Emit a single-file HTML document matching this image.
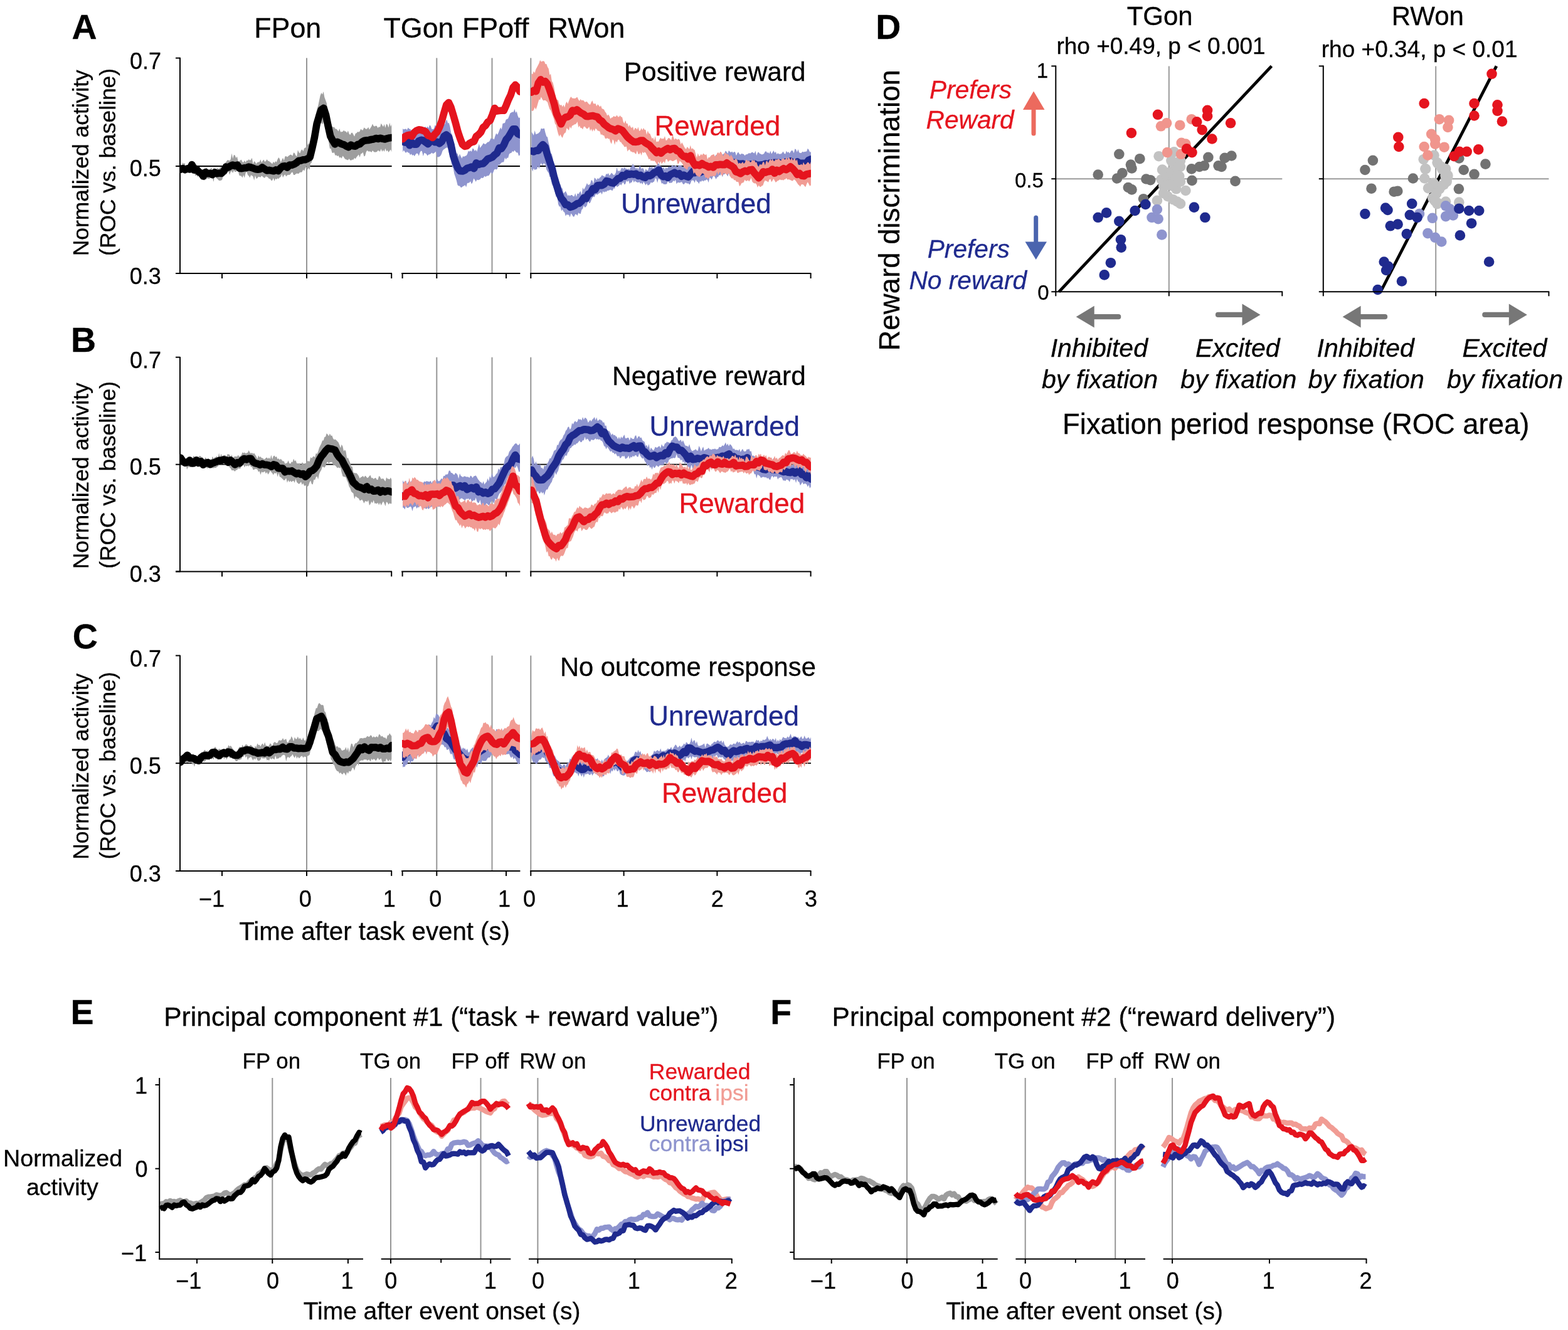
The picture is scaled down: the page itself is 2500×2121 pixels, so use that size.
<!DOCTYPE html>
<html lang="en"><head><meta charset="utf-8"><title>Figure</title>
<style>
html,body{margin:0;padding:0;background:#fff}
body{width:2500px;height:2121px;overflow:hidden}
svg{display:block;font-family:"Liberation Sans",sans-serif}
text{stroke-width:.3px}
</style></head><body>
<svg width="2500" height="2121" viewBox="0 0 2500 2121">
<rect width="2500" height="2121" fill="#fff"/>
<path d="M489,92.6V436" stroke="#959595" stroke-width="2" fill="none"/>
<path d="M696.3,92.6V436" stroke="#959595" stroke-width="2" fill="none"/>
<path d="M784.5,92.6V436" stroke="#959595" stroke-width="2" fill="none"/>
<path d="M846.3,92.6V436" stroke="#959595" stroke-width="2" fill="none"/>
<path d="M287,265H624.6" stroke="#000" stroke-width="1.8" fill="none"/>
<path d="M641,265H829" stroke="#000" stroke-width="1.8" fill="none"/>
<path d="M846,265H1293" stroke="#000" stroke-width="1.8" fill="none"/>
<path d="M489,569.7V911.4" stroke="#959595" stroke-width="2" fill="none"/>
<path d="M696.3,569.7V911.4" stroke="#959595" stroke-width="2" fill="none"/>
<path d="M784.5,569.7V911.4" stroke="#959595" stroke-width="2" fill="none"/>
<path d="M846.3,569.7V911.4" stroke="#959595" stroke-width="2" fill="none"/>
<path d="M287,740.7H624.6" stroke="#000" stroke-width="1.8" fill="none"/>
<path d="M641,740.7H829" stroke="#000" stroke-width="1.8" fill="none"/>
<path d="M846,740.7H1293" stroke="#000" stroke-width="1.8" fill="none"/>
<path d="M489,1045.5V1388.9" stroke="#959595" stroke-width="2" fill="none"/>
<path d="M696.3,1045.5V1388.9" stroke="#959595" stroke-width="2" fill="none"/>
<path d="M784.5,1045.5V1388.9" stroke="#959595" stroke-width="2" fill="none"/>
<path d="M846.3,1045.5V1388.9" stroke="#959595" stroke-width="2" fill="none"/>
<path d="M287,1217.2H624.6" stroke="#000" stroke-width="1.8" fill="none"/>
<path d="M641,1217.2H829" stroke="#000" stroke-width="1.8" fill="none"/>
<path d="M846,1217.2H1293" stroke="#000" stroke-width="1.8" fill="none"/>
<defs>
<clipPath id="c00"><rect x="287" y="87.6" width="337.6" height="347.4"/></clipPath>
<clipPath id="c01"><rect x="641" y="87.6" width="188" height="347.4"/></clipPath>
<clipPath id="c02"><rect x="846" y="87.6" width="447" height="347.4"/></clipPath>
<clipPath id="c10"><rect x="287" y="564.7" width="337.6" height="345.7"/></clipPath>
<clipPath id="c11"><rect x="641" y="564.7" width="188" height="345.7"/></clipPath>
<clipPath id="c12"><rect x="846" y="564.7" width="447" height="345.7"/></clipPath>
<clipPath id="c20"><rect x="287" y="1040.5" width="337.6" height="347.4"/></clipPath>
<clipPath id="c21"><rect x="641" y="1040.5" width="188" height="347.4"/></clipPath>
<clipPath id="c22"><rect x="846" y="1040.5" width="447" height="347.4"/></clipPath>
</defs>
<g clip-path="url(#c00)">
<path d="M287.9,262.1L289.6,264.7L291.3,259.2L293,261.2L294.7,260.1L296.4,270.1L298.1,268.2L299.8,268.1L301.5,264.1L303.2,263.4L304.9,257.8L306.6,264.1L308.3,258.2L310,260.3L311.7,262.1L313.4,262.4L315.1,267.1L316.8,266L318.5,267.7L320.2,268.7L321.9,273.1L323.6,269.7L325.3,270.6L327,271.5L328.7,266.7L330.4,268.8L332.1,270.5L333.8,271.6L335.5,269.3L337.2,267.5L338.9,271.9L340.6,268.3L342.3,268.8L344,269.2L345.7,268.8L347.4,267.9L349.1,270.2L350.8,266.6L352.5,267.1L354.2,265.6L355.9,262.2L357.6,262L359.3,259.8L361,257.5L362.7,255.3L364.4,255.4L366.1,256.6L367.8,254L369.5,244.4L371.2,253L372.9,246.9L374.6,247.5L376.3,252L378,249.6L379.7,257.1L381.4,257.2L383.1,255.7L384.8,254.5L386.5,258.2L388.2,259.1L389.9,255.8L391.6,258.9L393.3,255.7L395,256.3L396.7,254.1L398.4,255.7L400.1,254.8L401.8,251.8L403.5,261.7L405.2,257.1L406.9,258.5L408.6,261.5L410.3,258.9L412,258.5L413.7,258.2L415.4,254.2L417.1,259.3L418.8,256.6L420.5,254.6L422.2,257.9L423.9,256.7L425.6,254.1L427.3,256.7L429,257L430.7,258.6L432.4,259.7L434.1,261.4L435.8,257.7L437.5,260L439.2,257L440.9,258.8L442.6,253.9L444.3,251L446,253.6L447.7,258.9L449.4,255L451.1,251.8L452.8,255.9L454.5,249.5L456.2,248.9L457.9,250.6L459.6,249L461.3,247.8L463,246.5L464.7,246.9L466.4,248.8L468.1,243.3L469.8,244.2L471.5,247.8L473.2,249.5L474.9,239.3L476.6,243L478.3,244.6L480,239.8L481.7,238.2L483.4,241.2L485.1,236.6L486.8,235.5L488.5,234.7L490.2,231.6L491.9,227.9L493.6,232.6L495.3,229.1L497,219.4L498.7,210.8L500.4,203.8L502.1,193.1L503.8,180.7L505.5,173.3L507.2,168.8L508.9,160.4L510.6,152.4L512.3,148.1L514,150.8L515.7,146.1L517.4,155.2L519.1,159.7L520.8,164.6L522.5,174.7L524.2,183.4L525.9,190.5L527.7,195.4L529.4,201.5L531.1,203L532.8,202.6L534.5,205.4L536.2,205.4L537.9,207.3L539.6,209.4L541.3,205L543,210.5L544.7,210.3L546.4,209.9L548.1,207.7L549.8,209.4L551.5,209.6L553.2,212L554.9,208.2L556.6,213.3L558.3,215.3L560,212.1L561.7,211.4L563.4,214.4L565.1,217.8L566.8,212.8L568.5,212.2L570.2,210.1L571.9,210.8L573.6,209.6L575.3,205.5L577,207.4L578.7,207.6L580.4,203.3L582.1,204.8L583.8,206.1L585.5,205.2L587.2,202.7L588.9,206.8L590.6,204.3L592.3,201.4L594,197.6L595.7,201L597.4,201.8L599.1,200.5L600.8,201.1L602.5,204.2L604.2,202.1L605.9,202.9L607.6,196.8L609.3,199.5L611,202.3L612.7,198L614.4,204L616.1,197.4L617.8,198.9L619.5,203.5L621.2,195.7L622.9,202L624.6,197.7L624.6,242.5L622.9,238.6L621.2,240.5L619.5,243L617.8,239.5L616.1,241.4L614.4,236.5L612.7,242.1L611,239L609.3,241.9L607.6,237.3L605.9,241.9L604.2,240.4L602.5,239.9L600.8,242.2L599.1,242.5L597.4,242.7L595.7,241.8L594,240L592.3,243.1L590.6,241.5L588.9,241.5L587.2,241.5L585.5,239.7L583.8,242.2L582.1,248.4L580.4,249.5L578.7,242.8L577,244.8L575.3,245.3L573.6,251L571.9,246.4L570.2,248.6L568.5,250.6L566.8,253.6L565.1,251.7L563.4,254.7L561.7,254.4L560,255.7L558.3,255.6L556.6,252.9L554.9,255.5L553.2,254.7L551.5,254.2L549.8,253.3L548.1,250.5L546.4,248.6L544.7,252.8L543,250.6L541.3,251.7L539.6,248L537.9,249.3L536.2,247.2L534.5,247.9L532.8,243L531.1,244L529.4,243.5L527.7,237.1L525.9,236.9L524.2,226.9L522.5,218L520.8,214.3L519.1,207.4L517.4,199.2L515.7,194.8L514,198.6L512.3,195.6L510.6,198.4L508.9,205.5L507.2,215.8L505.5,218L503.8,231.2L502.1,232.1L500.4,243.3L498.7,249.9L497,259.2L495.3,260.3L493.6,270.7L491.9,267.7L490.2,270.6L488.5,265L486.8,268.3L485.1,272.8L483.4,270.5L481.7,274L480,274.9L478.3,274.4L476.6,276.7L474.9,277.1L473.2,276.5L471.5,277.6L469.8,279.1L468.1,279L466.4,274.6L464.7,275.3L463,277.9L461.3,279L459.6,278.7L457.9,279.6L456.2,281.4L454.5,278.2L452.8,279.7L451.1,283.3L449.4,277.6L447.7,282.2L446,282.7L444.3,285.3L442.6,284.2L440.9,286.3L439.2,284.7L437.5,289L435.8,283.8L434.1,287.7L432.4,288.1L430.7,284.9L429,285.3L427.3,282.9L425.6,281.8L423.9,281.3L422.2,283.7L420.5,283.3L418.8,281.8L417.1,280.2L415.4,282.7L413.7,282.3L412,281.7L410.3,284.2L408.6,284.9L406.9,279.8L405.2,287.8L403.5,281.4L401.8,280.1L400.1,279.3L398.4,283.4L396.7,280.5L395,278.9L393.3,273.4L391.6,276L389.9,283.7L388.2,279.1L386.5,283.5L384.8,280.8L383.1,280.2L381.4,279.7L379.7,272.2L378,272.2L376.3,274.1L374.6,274L372.9,272L371.2,275.9L369.5,272.8L367.8,274.1L366.1,279L364.4,273.5L362.7,275.3L361,278.1L359.3,277.6L357.6,280.2L355.9,280.6L354.2,286.5L352.5,287.7L350.8,287.9L349.1,288.1L347.4,286L345.7,284.7L344,283L342.3,279.2L340.6,289.9L338.9,284.5L337.2,280.2L335.5,283.5L333.8,285.2L332.1,285.1L330.4,284.2L328.7,286.3L327,286.3L325.3,287.7L323.6,285.7L321.9,286.3L320.2,286.3L318.5,281.9L316.8,278.8L315.1,282.6L313.4,278.9L311.7,280.5L310,276.9L308.3,274.8L306.6,277.2L304.9,275L303.2,273.2L301.5,275L299.8,275.4L298.1,274.2L296.4,276.8L294.7,276.7L293,276.5L291.3,273.3L289.6,274.1L287.9,274Z" fill="#9E9E9E"/>
<path d="M287.9,270.3L291.5,268.6L295.1,270.6L298.7,268.9L302.4,269.8L306,262.6L309.6,271.1L313.2,269.7L316.8,274.2L320.5,276.2L324.1,281L327.7,274.6L331.3,276.7L334.9,276.2L338.6,278.6L342.2,275L345.8,276.8L349.4,276.1L353,276.5L356.7,273.1L360.3,266.2L363.9,266.9L367.5,264.8L371.1,263L374.8,264.6L378.4,263.1L382,268.4L385.6,268.6L389.3,267.8L392.9,267.6L396.5,266.1L400.1,267L403.7,268.2L407.4,269.8L411,270.2L414.6,269.8L418.2,266.9L421.8,269.4L425.5,271.9L429.1,271.4L432.7,272.1L436.3,272.8L439.9,270.9L443.6,272.6L447.2,268.1L450.8,265.2L454.4,264.7L458,267L461.7,263.1L465.3,263.2L468.9,261.9L472.5,259.8L476.1,256.6L479.8,256L483.4,254.8L487,254.6L490.6,252.9L494.2,250.7L497.9,235.3L501.5,218.9L505.1,197.7L508.7,185.4L512.3,175L516,172.4L519.6,183.3L523.2,201.1L526.8,217.2L530.4,223.9L534.1,229.9L537.7,226.4L541.3,228L544.9,229.8L548.6,230.9L552.2,233.1L555.8,234.6L559.4,231.1L563,232.7L566.7,233.2L570.3,230.5L573.9,229.6L577.5,226.1L581.1,224.3L584.8,223.8L588.4,223.4L592,222.5L595.6,222L599.2,220.5L602.9,221.4L606.5,220.3L610.1,221.4L613.7,222L617.3,220.8L621,219.9L624.6,219.5" fill="none" stroke="#000" stroke-width="11.6" stroke-linejoin="round" stroke-linecap="round"/>
</g>
<g clip-path="url(#c01)">
<path d="M642.1,204.9L643.8,206.5L645.5,205.8L647.2,205.4L648.9,207.3L650.7,203.5L652.4,205.4L654.1,205.9L655.8,208.1L657.5,208.2L659.2,209.2L660.9,210.2L662.7,210.2L664.4,208.4L666.1,205.1L667.8,206.4L669.5,203.7L671.2,206.8L672.9,204.8L674.7,203.5L676.4,203.5L678.1,201.8L679.8,204.2L681.5,201.5L683.2,204.5L684.9,199.5L686.7,200.7L688.4,205.9L690.1,205.9L691.8,205.6L693.5,199.6L695.2,200.9L696.9,201.6L698.7,201.7L700.4,205.7L702.1,203.1L703.8,201.9L705.5,198.2L707.2,195.1L708.9,199L710.7,194.1L712.4,190.4L714.1,196.6L715.8,196.1L717.5,202L719.2,211.9L720.9,215L722.7,223.4L724.4,229.8L726.1,239.8L727.8,244.9L729.5,244.6L731.2,250.3L733,245.5L734.7,249.3L736.4,252.8L738.1,249.1L739.8,249.9L741.5,248.8L743.2,248.5L745,246L746.7,240.7L748.4,241.7L750.1,240L751.8,242L753.5,236.4L755.2,237.5L757,241L758.7,238.4L760.4,242L762.1,235.8L763.8,229.3L765.5,236.1L767.2,233.5L769,231.3L770.7,228.2L772.4,229.4L774.1,229.9L775.8,228.3L777.5,226.5L779.2,226.4L781,224.2L782.7,220.3L784.4,221.8L786.1,220.9L787.8,222.5L789.5,216.7L791.2,212.4L793,214.9L794.7,211.8L796.4,206.9L798.1,203.2L799.8,206.5L801.5,197L803.2,196.5L805,196L806.7,190.8L808.4,190.1L810.1,189.1L811.8,184.8L813.5,180.5L815.2,179.6L817,178.4L818.7,178.8L820.4,173.7L822.1,179.9L823.8,177.4L825.5,184.5L827.2,188.2L829,187.3L829,247L827.2,248.7L825.5,243.2L823.8,243.4L822.1,241.8L820.4,239.5L818.7,242.3L817,241L815.2,244L813.5,244.3L811.8,245.7L810.1,252.1L808.4,251.5L806.7,254.4L805,251.2L803.2,258.6L801.5,258.4L799.8,259.3L798.1,260.8L796.4,263.3L794.7,262.6L793,269.2L791.2,270.6L789.5,269.4L787.8,270.9L786.1,275.4L784.4,277.4L782.7,274.4L781,277.4L779.2,280.2L777.5,280.3L775.8,280.8L774.1,282.2L772.4,280.6L770.7,283.5L769,284.1L767.2,283.5L765.5,285.9L763.8,286.8L762.1,287.3L760.4,286.5L758.7,290.1L757,286.7L755.2,284.6L753.5,291L751.8,293.6L750.1,289L748.4,291.2L746.7,291.8L745,292.1L743.2,298.6L741.5,294.9L739.8,296.6L738.1,296.9L736.4,298.8L734.7,299L733,296.4L731.2,296.6L729.5,294.9L727.8,287.8L726.1,282.2L724.4,277.6L722.7,268.3L720.9,265.7L719.2,257.6L717.5,248.9L715.8,243.8L714.1,236.1L712.4,235.3L710.7,235.9L708.9,237.4L707.2,238.4L705.5,240.8L703.8,246L702.1,248.7L700.4,249.9L698.7,250.6L696.9,250.2L695.2,241.5L693.5,242.9L691.8,244.5L690.1,245.1L688.4,243.6L686.7,245.3L684.9,246.3L683.2,246.6L681.5,248.4L679.8,245.5L678.1,244.4L676.4,243.8L674.7,249.3L672.9,241.2L671.2,240.4L669.5,243.3L667.8,248.7L666.1,245L664.4,244.6L662.7,246L660.9,249.3L659.2,246.7L657.5,247.9L655.8,245.3L654.1,247.3L652.4,243.7L650.7,243.6L648.9,241.7L647.2,243.9L645.5,241.9L643.8,239.4L642.1,242.5Z" fill="#8E94CE"/>
<path d="M642.1,225.6L645.8,227.1L649.4,224.6L653.1,231.8L656.7,227.5L660.4,230.2L664.1,230.1L667.7,224.9L671.4,223.3L675.1,224L678.7,226.9L682.4,229.7L686.1,225.6L689.7,223.3L693.4,226.8L697,226.4L700.7,228.8L704.4,225.8L708,217.4L711.7,214.9L715.4,218.4L719,230.9L722.7,248.6L726.4,259.1L730,268.1L733.7,272.8L737.4,273L741,271.6L744.7,268.3L748.3,267.4L752,266L755.7,268.7L759.3,259.9L763,262.4L766.7,261.3L770.3,261L774,257.5L777.7,253.3L781.3,252.3L785,250.7L788.7,246.9L792.3,244.3L796,235.8L799.6,237L803.3,231.1L807,222.7L810.6,218.7L814.3,212.3L818,205.8L821.6,205.7L825.3,213.2L829,214.9" fill="none" stroke="#1F2A8E" stroke-width="11.6" stroke-linejoin="round" stroke-linecap="round"/>
<path d="M642.1,221.7L645.8,217.7L649.4,216L653.1,215.1L656.7,217.2L660.4,211.2L664.1,208.3L667.7,206.8L671.4,207.2L675.1,208.4L678.7,210L682.4,215.9L686.1,217.3L689.7,219.5L693.4,213.9L697,210.3L700.7,202.7L704.4,192.8L708,179.8L711.7,167.3L715.4,163.5L719,171.1L722.7,183.4L726.4,196.1L730,210L733.7,220.8L737.4,230.3L741,233.4L744.7,232.5L748.3,228.8L752,226.7L755.7,225.8L759.3,217.5L763,214.8L766.7,210.8L770.3,203.1L774,200.4L777.7,194.6L781.3,192.2L785,183.2L788.7,172.5L792.3,177.1L796,176.5L799.6,176.2L803.3,176.3L807,168.1L810.6,158.9L814.3,151.2L818,139.6L821.6,135.4L825.3,139.4L829,146.1" fill="none" stroke="#E5141E" stroke-width="11.6" stroke-linejoin="round" stroke-linecap="round"/>
</g>
<g clip-path="url(#c02)">
<path d="M847.5,210.3L849.2,213L850.9,216L852.6,207.9L854.3,214.2L856,213.4L857.7,213L859.4,211.5L861.1,209.7L862.8,204.4L864.5,205.5L866.2,204.9L867.9,204.7L869.6,212L871.3,217.4L873,218.7L874.7,227.8L876.4,234L878.1,244L879.8,245.8L881.5,252.3L883.2,263.1L884.9,265.6L886.6,275.7L888.3,280.1L890,283.3L891.7,294.5L893.4,293.9L895.1,299.2L896.8,300.8L898.5,308.2L900.2,306.7L901.9,304.8L903.6,308.3L905.3,312.5L907,311L908.7,312.6L910.4,310.9L912.1,311.1L913.8,313L915.5,313.2L917.2,308L918.9,314.3L920.6,308.3L922.3,309.5L924,306.7L925.7,304.7L927.4,311.3L929.1,299L930.8,302.6L932.5,299.8L934.2,296.3L935.9,292L937.6,295.1L939.3,294.6L941,293.4L942.7,287L944.4,288.1L946.1,293.3L947.8,283.3L949.5,284.7L951.2,287.3L952.9,284.1L954.6,285.5L956.3,283.3L958,282L959.7,279.3L961.4,280.3L963.1,281.2L964.8,281.7L966.5,277.1L968.2,278.1L969.9,275.9L971.6,279.9L973.3,278L975,275.6L976.7,277.2L978.4,279.3L980.1,278.6L981.8,275.6L983.5,266.5L985.2,273.3L986.9,272L988.6,272.9L990.3,269.3L992,267.1L993.7,269.7L995.4,266.4L997.1,268.7L998.8,269.1L1000.5,270L1002.2,269L1003.9,270.7L1005.6,265.7L1007.3,265.6L1009,260.7L1010.7,264.3L1012.4,266L1014.1,269.6L1015.8,267L1017.5,270.8L1019.2,265.4L1020.9,264.4L1022.6,269.4L1024.3,267.9L1026,269.1L1027.7,274.5L1029.4,269.2L1031.1,271L1032.8,272.3L1034.5,267.3L1036.2,265.8L1037.9,267.9L1039.6,265L1041.3,269.2L1043,265.8L1044.7,265.6L1046.4,264.4L1048.1,261.4L1049.8,260.5L1051.5,262.7L1053.2,265.2L1054.9,265.4L1056.6,268.6L1058.3,266.6L1060,270.7L1061.7,266.4L1063.4,269L1065.1,266.6L1066.8,265.6L1068.5,265.9L1070.2,265.7L1071.9,262.4L1073.6,265.1L1075.3,264.9L1077,263.2L1078.7,265.3L1080.4,266.2L1082.1,263L1083.8,264L1085.5,263.3L1087.2,265.2L1088.9,265.7L1090.6,266.7L1092.3,266.2L1094,265.7L1095.7,266.9L1097.4,263.7L1099.1,264.2L1100.8,262.4L1102.5,262.3L1104.2,256.3L1105.9,259.6L1107.6,259L1109.3,259.6L1111,262L1112.7,259.3L1114.4,257.6L1116.1,253.4L1117.8,257.4L1119.5,259.8L1121.2,256.5L1122.9,255.7L1124.6,256.4L1126.3,256.1L1128,256.6L1129.7,255.5L1131.4,256.4L1133.1,252.6L1134.8,250.8L1136.5,250.8L1138.2,248.7L1139.9,249.8L1141.6,246.8L1143.3,248.5L1145,246.7L1146.7,246.9L1148.4,249.3L1150.1,245.4L1151.8,246.7L1153.5,245.4L1155.2,244.3L1156.9,240.3L1158.6,242.2L1160.3,245L1162,239.7L1163.7,241.9L1165.4,243L1167.1,241.5L1168.8,243.8L1170.5,241.9L1172.2,242.6L1173.9,248.3L1175.6,244L1177.3,242.4L1179,245.7L1180.7,246.4L1182.4,244.8L1184.1,245.4L1185.8,245.8L1187.5,248.2L1189.2,246.3L1190.9,246.3L1192.6,245.2L1194.3,244.1L1196,244.8L1197.7,243.5L1199.4,242.5L1201.1,243.7L1202.8,244.5L1204.5,240.6L1206.2,248.2L1207.9,243.6L1209.6,242.6L1211.3,244.9L1213,245.6L1214.7,246.4L1216.4,246.1L1218.1,245L1219.8,241.7L1221.5,241.3L1223.2,243.7L1224.9,242.9L1226.6,245.1L1228.3,240.6L1230,245.4L1231.7,243L1233.4,239.9L1235.1,243.9L1236.8,241.8L1238.5,246.2L1240.2,244.1L1241.9,245.8L1243.6,245.5L1245.3,245.6L1247,243.8L1248.7,241.6L1250.4,244.7L1252.1,245.8L1253.8,240.4L1255.5,243.6L1257.2,241.9L1258.9,244.8L1260.6,241.8L1262.3,239.8L1264,240.6L1265.7,244.2L1267.4,237.2L1269.1,238.3L1270.8,242.7L1272.5,238L1274.2,243.2L1275.9,243.9L1277.6,243.9L1279.3,241.7L1281,242.4L1282.7,242.1L1284.4,241.7L1286.1,241.5L1287.8,236.7L1289.5,238.8L1291.2,242.4L1292.9,242.3L1292.9,271.4L1291.2,278.7L1289.5,273.7L1287.8,272L1286.1,276L1284.4,277.9L1282.7,275.2L1281,274.2L1279.3,275.3L1277.6,276.9L1275.9,279.4L1274.2,272.2L1272.5,278.3L1270.8,275.6L1269.1,274.6L1267.4,274.9L1265.7,272.3L1264,274.8L1262.3,278.7L1260.6,276.8L1258.9,276.7L1257.2,273.8L1255.5,277.7L1253.8,275.5L1252.1,278.6L1250.4,275.4L1248.7,279.1L1247,277.3L1245.3,274.1L1243.6,275.8L1241.9,275.8L1240.2,276.2L1238.5,272.6L1236.8,275.2L1235.1,274.5L1233.4,275.9L1231.7,276.9L1230,277.1L1228.3,275.2L1226.6,278.5L1224.9,278.1L1223.2,278.7L1221.5,275.8L1219.8,277.3L1218.1,279.2L1216.4,281.1L1214.7,276.3L1213,277L1211.3,280.7L1209.6,279L1207.9,279.9L1206.2,279.6L1204.5,278.4L1202.8,277.7L1201.1,280.3L1199.4,278.2L1197.7,280L1196,275.3L1194.3,280.5L1192.6,280.5L1190.9,277.7L1189.2,280L1187.5,281.1L1185.8,279.4L1184.1,276.9L1182.4,279.8L1180.7,281.1L1179,274.4L1177.3,274.9L1175.6,276.5L1173.9,275L1172.2,280.8L1170.5,274.7L1168.8,276.4L1167.1,273.4L1165.4,275L1163.7,281.3L1162,275.8L1160.3,281.6L1158.6,278.2L1156.9,276.3L1155.2,277.9L1153.5,278L1151.8,282.4L1150.1,275.8L1148.4,279.9L1146.7,279L1145,282.2L1143.3,282.4L1141.6,286.1L1139.9,282.6L1138.2,280L1136.5,282L1134.8,286.6L1133.1,284.3L1131.4,282.9L1129.7,291.2L1128,286.8L1126.3,286.3L1124.6,288L1122.9,287.5L1121.2,289.5L1119.5,287.4L1117.8,289.9L1116.1,288.8L1114.4,293.3L1112.7,290.2L1111,289.5L1109.3,286.3L1107.6,291.8L1105.9,287.9L1104.2,287.6L1102.5,288L1100.8,292.7L1099.1,294.5L1097.4,292.3L1095.7,292.7L1094,291.6L1092.3,291.6L1090.6,293.9L1088.9,293.6L1087.2,290.3L1085.5,290.5L1083.8,291.6L1082.1,291.1L1080.4,291.1L1078.7,293.5L1077,286.4L1075.3,289.5L1073.6,287.9L1071.9,290.8L1070.2,291.8L1068.5,291.5L1066.8,292L1065.1,287.7L1063.4,292.9L1061.7,294L1060,293.8L1058.3,294L1056.6,291.9L1054.9,292.7L1053.2,287.6L1051.5,285.8L1049.8,284.9L1048.1,291.7L1046.4,285L1044.7,284.3L1043,289.6L1041.3,290.5L1039.6,291.7L1037.9,290.5L1036.2,293.7L1034.5,295.1L1032.8,295.8L1031.1,292.2L1029.4,295.6L1027.7,292.2L1026,290L1024.3,294.3L1022.6,291.2L1020.9,292.9L1019.2,289.9L1017.5,291.2L1015.8,290.7L1014.1,290L1012.4,288.2L1010.7,291.3L1009,286.5L1007.3,291.1L1005.6,291.1L1003.9,293.2L1002.2,287.8L1000.5,289.9L998.8,288L997.1,293.6L995.4,294.3L993.7,290.6L992,292.6L990.3,295.7L988.6,293.5L986.9,296.2L985.2,297.3L983.5,298.5L981.8,294.1L980.1,301.1L978.4,299.9L976.7,303.9L975,303.6L973.3,302.5L971.6,303.3L969.9,304L968.2,304L966.5,306.1L964.8,305.3L963.1,307L961.4,304.7L959.7,310.2L958,306.4L956.3,307.7L954.6,308.5L952.9,310.6L951.2,309.8L949.5,310.1L947.8,314.6L946.1,313.5L944.4,315.2L942.7,319.3L941,323.6L939.3,324.3L937.6,319.9L935.9,327.4L934.2,329.8L932.5,331L930.8,327.8L929.1,332.9L927.4,334.6L925.7,341L924,340.8L922.3,339.3L920.6,344.1L918.9,341.9L917.2,341.5L915.5,345.5L913.8,345.6L912.1,342.6L910.4,340.2L908.7,346.6L907,342.5L905.3,342.8L903.6,341.7L901.9,344.7L900.2,338.7L898.5,337.5L896.8,334L895.1,336.6L893.4,329.3L891.7,329.6L890,325.5L888.3,311.4L886.6,314.6L884.9,306.2L883.2,300.9L881.5,296.6L879.8,293.4L878.1,281.8L876.4,282.3L874.7,275.8L873,273.6L871.3,270.5L869.6,262.7L867.9,260.4L866.2,261.1L864.5,264.2L862.8,259.6L861.1,264.2L859.4,269.3L857.7,264.5L856,270.2L854.3,270.1L852.6,271.3L850.9,268.3L849.2,273.6L847.5,267.8Z" fill="#8E94CE"/>
<path d="M847.5,240.8L851.1,242L854.7,240L858.3,240.1L862,234.3L865.6,230.6L869.2,234.5L872.8,247L876.4,257.7L880.1,268L883.7,283.5L887.3,295L890.9,307.1L894.6,316L898.2,320.1L901.8,326.5L905.4,326.5L909,330.3L912.7,329.4L916.3,327.5L919.9,324.8L923.5,324.2L927.1,321L930.8,315.3L934.4,316.6L938,309.4L941.6,308L945.3,300.8L948.9,302.6L952.5,295.8L956.1,295.4L959.7,295.7L963.4,293.7L967,288.6L970.6,289.4L974.2,291.3L977.9,292.1L981.5,288.8L985.1,284.8L988.7,284.5L992.3,279.7L996,281.2L999.6,277L1003.2,278.3L1006.8,277.3L1010.4,278.1L1014.1,277.2L1017.7,280.5L1021.3,279.3L1024.9,282.2L1028.6,283.3L1032.2,279.3L1035.8,280.5L1039.4,278.7L1043,275.2L1046.7,274.3L1050.3,270.8L1053.9,278.9L1057.5,281.7L1061.1,280.6L1064.8,283.4L1068.4,278.8L1072,277.1L1075.6,275.2L1079.3,277.8L1082.9,276.7L1086.5,281.2L1090.1,279L1093.7,281.1L1097.4,282.3L1101,278L1104.6,273.5L1108.2,275.7L1111.9,274.3L1115.5,275.2L1119.1,273.5L1122.7,271.6L1126.3,272.9L1130,271.9L1133.6,268L1137.2,265L1140.8,264.5L1144.4,260.5L1148.1,262.2L1151.7,260.4L1155.3,264.3L1158.9,259.6L1162.6,257.6L1166.2,261L1169.8,259.1L1173.4,260.1L1177,260.9L1180.7,261.5L1184.3,261L1187.9,263.6L1191.5,263.3L1195.1,261.8L1198.8,262.4L1202.4,261.1L1206,263.1L1209.6,263.5L1213.3,262.9L1216.9,262.5L1220.5,261L1224.1,263.3L1227.7,260.1L1231.4,260.1L1235,259.2L1238.6,259.5L1242.2,259.2L1245.8,263.3L1249.5,261.2L1253.1,258.2L1256.7,259.4L1260.3,256.9L1264,259.7L1267.6,260L1271.2,258L1274.8,260.6L1278.4,260.2L1282.1,260.4L1285.7,260.4L1289.3,255.3L1292.9,253.9" fill="none" stroke="#1F2A8E" stroke-width="11.6" stroke-linejoin="round" stroke-linecap="round"/>
<path d="M847.5,117.3L849.2,118.6L850.9,113.6L852.6,116.4L854.3,110.8L856,107.4L857.7,104.2L859.4,101.1L861.1,95.7L862.8,98.5L864.5,97.8L866.2,97.3L867.9,98L869.6,102.3L871.3,101.9L873,106.8L874.7,109.6L876.4,119.7L878.1,117.8L879.8,129.2L881.5,132.1L883.2,138.6L884.9,147.9L886.6,157.9L888.3,159L890,159.8L891.7,165.9L893.4,168L895.1,167L896.8,170.6L898.5,167.1L900.2,171.5L901.9,164.9L903.6,162.1L905.3,165.8L907,161L908.7,156.8L910.4,153.9L912.1,156.6L913.8,156.7L915.5,157.1L917.2,156.9L918.9,155.4L920.6,154.9L922.3,159L924,160.9L925.7,158.1L927.4,160.2L929.1,159.8L930.8,160.4L932.5,163.1L934.2,162.2L935.9,162L937.6,164.4L939.3,166.2L941,166.9L942.7,162.9L944.4,160.2L946.1,165.2L947.8,165.4L949.5,165.1L951.2,169.5L952.9,166.3L954.6,168.1L956.3,170.6L958,168.2L959.7,173.2L961.4,173.7L963.1,174.8L964.8,178.3L966.5,180.2L968.2,184.4L969.9,182.6L971.6,185.1L973.3,189.6L975,187.4L976.7,187.3L978.4,184.9L980.1,186L981.8,185.9L983.5,183.6L985.2,186.3L986.9,186.4L988.6,184L990.3,186.5L992,186.7L993.7,193.9L995.4,196.9L997.1,191.7L998.8,197.3L1000.5,196.8L1002.2,202.4L1003.9,199.1L1005.6,202.7L1007.3,204.2L1009,201.7L1010.7,208.3L1012.4,204.1L1014.1,204.5L1015.8,206.7L1017.5,202.5L1019.2,209.1L1020.9,208L1022.6,204.3L1024.3,207.7L1026,203.9L1027.7,207.1L1029.4,207L1031.1,215.1L1032.8,208.2L1034.5,212.7L1036.2,213.1L1037.9,217L1039.6,221.3L1041.3,219.2L1043,224.3L1044.7,217.1L1046.4,226.5L1048.1,225.5L1049.8,225.9L1051.5,222.4L1053.2,219.5L1054.9,221.6L1056.6,220.9L1058.3,221.2L1060,217.1L1061.7,224L1063.4,223.5L1065.1,220.4L1066.8,220L1068.5,221.4L1070.2,223.7L1071.9,216.3L1073.6,217.8L1075.3,223.1L1077,220.6L1078.7,222L1080.4,222.8L1082.1,221.2L1083.8,223.5L1085.5,230.6L1087.2,226.9L1088.9,230.1L1090.6,233.5L1092.3,236.5L1094,237.7L1095.7,233.9L1097.4,236.1L1099.1,238.1L1100.8,231.4L1102.5,237.7L1104.2,236.3L1105.9,238.3L1107.6,239.3L1109.3,246L1111,251.7L1112.7,244.3L1114.4,249.3L1116.1,248.3L1117.8,245.5L1119.5,247.7L1121.2,244.5L1122.9,246L1124.6,247.2L1126.3,245.8L1128,254.2L1129.7,250.8L1131.4,251.3L1133.1,248.7L1134.8,247.1L1136.5,246.7L1138.2,245.7L1139.9,249.4L1141.6,248.8L1143.3,244.6L1145,242.8L1146.7,245L1148.4,241.8L1150.1,242.8L1151.8,246.6L1153.5,249L1155.2,243.7L1156.9,243.8L1158.6,245.7L1160.3,245.7L1162,247.4L1163.7,250L1165.4,246.8L1167.1,249.3L1168.8,252.4L1170.5,255.4L1172.2,253.7L1173.9,253.4L1175.6,255.7L1177.3,261.2L1179,259.5L1180.7,260.8L1182.4,260.2L1184.1,258L1185.8,261.1L1187.5,259.8L1189.2,255.6L1190.9,254.8L1192.6,257.2L1194.3,255.6L1196,258.9L1197.7,258.2L1199.4,255.1L1201.1,256.4L1202.8,255.1L1204.5,259.3L1206.2,258.2L1207.9,263.7L1209.6,265.9L1211.3,262.1L1213,262.4L1214.7,262.6L1216.4,258.2L1218.1,258.3L1219.8,263.8L1221.5,256.9L1223.2,256.8L1224.9,260.1L1226.6,256.1L1228.3,253.5L1230,256.6L1231.7,253.2L1233.4,256.7L1235.1,256.7L1236.8,253.8L1238.5,254.9L1240.2,253.8L1241.9,252.9L1243.6,255.4L1245.3,256.3L1247,253.5L1248.7,252.3L1250.4,254L1252.1,254.6L1253.8,250.5L1255.5,254.7L1257.2,250.7L1258.9,252.5L1260.6,255.7L1262.3,250.6L1264,256L1265.7,253.5L1267.4,252.8L1269.1,257L1270.8,253.8L1272.5,262.4L1274.2,263L1275.9,263.1L1277.6,261.6L1279.3,263.5L1281,258.5L1282.7,262.2L1284.4,262.4L1286.1,260.8L1287.8,258.5L1289.5,259.4L1291.2,262.2L1292.9,257.9L1292.9,295.3L1291.2,296.7L1289.5,293.6L1287.8,290.2L1286.1,293.6L1284.4,298.3L1282.7,296.8L1281,294.4L1279.3,294L1277.6,294.2L1275.9,297.7L1274.2,295.6L1272.5,294.2L1270.8,291.4L1269.1,289.1L1267.4,286.8L1265.7,286.2L1264,288.5L1262.3,288.2L1260.6,287.3L1258.9,286.4L1257.2,286L1255.5,286.5L1253.8,284L1252.1,286.1L1250.4,286.3L1248.7,287.8L1247,286.4L1245.3,287.4L1243.6,285.9L1241.9,287.5L1240.2,288L1238.5,289.5L1236.8,291L1235.1,288.1L1233.4,284.9L1231.7,288.1L1230,290.4L1228.3,285.3L1226.6,286.6L1224.9,290.8L1223.2,289.2L1221.5,288.4L1219.8,287.8L1218.1,290.8L1216.4,295.7L1214.7,296.3L1213,298L1211.3,297.8L1209.6,295.5L1207.9,299L1206.2,293.9L1204.5,292.3L1202.8,292.4L1201.1,291.6L1199.4,289.7L1197.7,283.7L1196,287L1194.3,289.5L1192.6,287.3L1190.9,288.5L1189.2,288.8L1187.5,286.4L1185.8,290.8L1184.1,291.5L1182.4,292.1L1180.7,295.3L1179,297.3L1177.3,290.2L1175.6,290L1173.9,289.8L1172.2,286.9L1170.5,287.4L1168.8,284.4L1167.1,284.8L1165.4,283.2L1163.7,280.8L1162,275.8L1160.3,277.9L1158.6,278.8L1156.9,276.4L1155.2,276.7L1153.5,276.3L1151.8,280.6L1150.1,279.2L1148.4,273.8L1146.7,275.6L1145,278.9L1143.3,273.7L1141.6,279.1L1139.9,280.7L1138.2,281.1L1136.5,280.5L1134.8,281.5L1133.1,280.4L1131.4,282.5L1129.7,284.8L1128,284.9L1126.3,282.5L1124.6,283.7L1122.9,278.2L1121.2,276.8L1119.5,276.3L1117.8,279L1116.1,281.5L1114.4,282.2L1112.7,280.4L1111,280.7L1109.3,278.1L1107.6,274.7L1105.9,277.4L1104.2,269.8L1102.5,266.4L1100.8,266.1L1099.1,265.4L1097.4,266.3L1095.7,271.2L1094,269.5L1092.3,268.6L1090.6,267.2L1088.9,263.1L1087.2,259.8L1085.5,258.3L1083.8,256.5L1082.1,260.9L1080.4,261.3L1078.7,253.8L1077,255.2L1075.3,255.7L1073.6,256.9L1071.9,257L1070.2,255.9L1068.5,255.2L1066.8,256.5L1065.1,258.3L1063.4,254L1061.7,253.9L1060,260.6L1058.3,257.3L1056.6,259.3L1054.9,261.4L1053.2,257L1051.5,261.7L1049.8,257.5L1048.1,263.4L1046.4,260.5L1044.7,258L1043,255.9L1041.3,257.2L1039.6,255.7L1037.9,257L1036.2,253L1034.5,254.2L1032.8,250L1031.1,247.1L1029.4,243.4L1027.7,242.4L1026,244.3L1024.3,241.9L1022.6,247.9L1020.9,242.9L1019.2,246L1017.5,245.6L1015.8,239.9L1014.1,246.1L1012.4,244.4L1010.7,242.5L1009,243.2L1007.3,241.8L1005.6,241.8L1003.9,238.6L1002.2,239.1L1000.5,241.8L998.8,233.5L997.1,234.2L995.4,234.3L993.7,231.1L992,229.7L990.3,226.8L988.6,226.2L986.9,222.7L985.2,222.9L983.5,227.5L981.8,224.5L980.1,231.3L978.4,224L976.7,222.2L975,229.8L973.3,226.8L971.6,221.2L969.9,221.4L968.2,220L966.5,221.2L964.8,220.8L963.1,216L961.4,215.9L959.7,214.3L958,215L956.3,209.4L954.6,208.8L952.9,208.6L951.2,206.1L949.5,204.8L947.8,209.4L946.1,205.8L944.4,210L942.7,205.2L941,209.1L939.3,202L937.6,204.5L935.9,205.5L934.2,204.2L932.5,201.7L930.8,201.9L929.1,206.4L927.4,203.9L925.7,204.3L924,200.2L922.3,203.3L920.6,194.1L918.9,197L917.2,198.3L915.5,198.4L913.8,200.1L912.1,200.5L910.4,205.3L908.7,201.4L907,208.1L905.3,206L903.6,203.9L901.9,211.2L900.2,212.2L898.5,214.9L896.8,220.1L895.1,217.7L893.4,214.2L891.7,217.8L890,213.5L888.3,206.9L886.6,199.2L884.9,197.2L883.2,189.9L881.5,185.3L879.8,180.8L878.1,176L876.4,174L874.7,168.9L873,163.1L871.3,161.4L869.6,160L867.9,159.9L866.2,160.4L864.5,158.1L862.8,154.6L861.1,159.2L859.4,158.8L857.7,164.5L856,170.4L854.3,174.8L852.6,171L850.9,175.5L849.2,177.2L847.5,176.4Z" fill="#F19C94"/>
<path d="M847.5,147.2L851.1,144.1L854.7,145.7L858.3,132.4L862,126.9L865.6,131.1L869.2,129.7L872.8,133.8L876.4,143.3L880.1,154.2L883.7,165.9L887.3,181L890.9,189L894.6,197.8L898.2,189.9L901.8,187L905.4,186.3L909,183.8L912.7,176L916.3,177.3L919.9,174.9L923.5,178L927.1,180.6L930.8,182.3L934.4,185.5L938,185.7L941.6,184.9L945.3,184.5L948.9,185.7L952.5,186.4L956.1,191.2L959.7,193.3L963.4,198.1L967,200.8L970.6,203.7L974.2,205.4L977.9,206.5L981.5,208.8L985.1,205.1L988.7,206.3L992.3,208L996,212.8L999.6,217.5L1003.2,221L1006.8,223.9L1010.4,226.3L1014.1,226.4L1017.7,225.7L1021.3,224L1024.9,224L1028.6,227.3L1032.2,229.7L1035.8,231.6L1039.4,236L1043,239.5L1046.7,243.4L1050.3,241L1053.9,244.4L1057.5,240.8L1061.1,238.7L1064.8,236.7L1068.4,238.9L1072,237L1075.6,236.5L1079.3,240.5L1082.9,241.5L1086.5,246.6L1090.1,249.7L1093.7,249.4L1097.4,253.8L1101,248.1L1104.6,257.7L1108.2,263.6L1111.9,262.8L1115.5,263.9L1119.1,260.8L1122.7,263L1126.3,264.2L1130,266.4L1133.6,265.3L1137.2,266.9L1140.8,262.8L1144.4,262.9L1148.1,262.3L1151.7,262.6L1155.3,262.6L1158.9,259.8L1162.6,263L1166.2,264.6L1169.8,267.3L1173.4,273.9L1177,274.9L1180.7,276.9L1184.3,274.1L1187.9,272.4L1191.5,273.6L1195.1,271L1198.8,270.4L1202.4,275.4L1206,279.6L1209.6,283.9L1213.3,279.9L1216.9,273.8L1220.5,275.1L1224.1,273.7L1227.7,273.3L1231.4,270.1L1235,276.3L1238.6,271.2L1242.2,273.6L1245.8,271L1249.5,268.7L1253.1,270.7L1256.7,268.9L1260.3,265.8L1264,269.1L1267.6,273.2L1271.2,278.3L1274.8,276.5L1278.4,280.2L1282.1,280.7L1285.7,277.9L1289.3,277.2L1292.9,276.5" fill="none" stroke="#E5141E" stroke-width="11.6" stroke-linejoin="round" stroke-linecap="round"/>
</g>
<g clip-path="url(#c10)">
<path d="M287.9,725.7L289.6,724.3L291.3,727.1L293,728.4L294.7,733L296.4,731.3L298.1,733.5L299.8,736.3L301.5,734.4L303.2,730.5L304.9,730.4L306.6,731.7L308.3,726.9L310,728.3L311.7,730.8L313.4,729.2L315.1,733.2L316.8,727.7L318.5,726.9L320.2,727.5L321.9,729.6L323.6,729.5L325.3,734.7L327,729.5L328.7,730.7L330.4,732.6L332.1,730.8L333.8,732.4L335.5,732.2L337.2,733L338.9,727.8L340.6,731.8L342.3,729.2L344,729.2L345.7,727.3L347.4,730.9L349.1,722.4L350.8,728.9L352.5,723.7L354.2,727.6L355.9,726.4L357.6,725.8L359.3,725.7L361,729.3L362.7,723.9L364.4,724.5L366.1,725L367.8,729L369.5,725.1L371.2,730.7L372.9,728.7L374.6,727.8L376.3,728.1L378,728.3L379.7,725.6L381.4,728.2L383.1,727.2L384.8,725.8L386.5,721.2L388.2,722.4L389.9,721.6L391.6,723L393.3,722.5L395,721.8L396.7,717.9L398.4,721.8L400.1,723.1L401.8,722.1L403.5,723.8L405.2,722.4L406.9,725.2L408.6,727.7L410.3,731.9L412,726.3L413.7,729.2L415.4,728.1L417.1,730.5L418.8,730.4L420.5,732.3L422.2,732.3L423.9,730.3L425.6,729.4L427.3,731.8L429,729.5L430.7,732.2L432.4,725.5L434.1,732.6L435.8,727.4L437.5,726.6L439.2,729.3L440.9,727.8L442.6,732.3L444.3,731L446,733.4L447.7,731.6L449.4,734L451.1,735.4L452.8,735.5L454.5,740L456.2,738.7L457.9,738.3L459.6,734.2L461.3,738.8L463,740.5L464.7,736.3L466.4,737.3L468.1,731.4L469.8,735.5L471.5,734.1L473.2,739.1L474.9,738.9L476.6,739.3L478.3,738.7L480,741.8L481.7,736.9L483.4,739.2L485.1,740.5L486.8,738.7L488.5,738.2L490.2,735.6L491.9,735.2L493.6,736.1L495.3,728.9L497,731.1L498.7,728.4L500.4,727.6L502.1,729.5L503.8,722.7L505.5,724.1L507.2,720.1L508.9,714.2L510.6,710.7L512.3,707.6L514,702.4L515.7,702.4L517.4,697.1L519.1,696.6L520.8,690.9L522.5,693L524.2,695.4L525.9,691.6L527.7,695.1L529.4,694.5L531.1,699.2L532.8,701.3L534.5,700.6L536.2,701.9L537.9,703.8L539.6,705.4L541.3,709.7L543,714.4L544.7,708.7L546.4,711.9L548.1,719.8L549.8,717.3L551.5,719.9L553.2,730.8L554.9,729.9L556.6,734.3L558.3,737.9L560,744.1L561.7,744L563.4,753.6L565.1,754.3L566.8,754.6L568.5,754.5L570.2,756.5L571.9,759.1L573.6,763L575.3,761.1L577,760.5L578.7,758.7L580.4,761.5L582.1,758.4L583.8,760.1L585.5,762.2L587.2,761.4L588.9,759.1L590.6,757.7L592.3,762.4L594,762.1L595.7,764.1L597.4,762.6L599.1,761.9L600.8,765.1L602.5,765.2L604.2,758.9L605.9,760.3L607.6,763.8L609.3,763.4L611,763.1L612.7,765.2L614.4,767.7L616.1,761.3L617.8,763.4L619.5,763.7L621.2,764.4L622.9,761.6L624.6,765.2L624.6,802.9L622.9,803.5L621.2,802.2L619.5,804.7L617.8,801.5L616.1,800.2L614.4,807.3L612.7,802.5L611,799.6L609.3,802.6L607.6,806L605.9,801.4L604.2,805.5L602.5,801.6L600.8,803.5L599.1,802.4L597.4,802.9L595.7,797.4L594,802.6L592.3,799.8L590.6,803.7L588.9,805.9L587.2,797.6L585.5,800.6L583.8,799.2L582.1,799.3L580.4,802.8L578.7,798.9L577,796.5L575.3,797.9L573.6,798.2L571.9,794.8L570.2,793.9L568.5,792.4L566.8,791.3L565.1,796L563.4,786.8L561.7,785.5L560,783.8L558.3,778.6L556.6,775.9L554.9,769.7L553.2,766.3L551.5,761.2L549.8,760.6L548.1,760.2L546.4,759.4L544.7,753.6L543,745.4L541.3,746.7L539.6,745.2L537.9,746.6L536.2,744.2L534.5,742.5L532.8,741.3L531.1,741.4L529.4,736.7L527.7,737.1L525.9,737.1L524.2,738.9L522.5,736.4L520.8,737.9L519.1,743.3L517.4,745.7L515.7,744.8L514,743.9L512.3,749.4L510.6,752.2L508.9,756L507.2,764.4L505.5,759.6L503.8,761.1L502.1,765.4L500.4,764.7L498.7,772.5L497,771.9L495.3,766.4L493.6,768.9L491.9,774.5L490.2,776.1L488.5,773.4L486.8,774.4L485.1,774.7L483.4,770.5L481.7,773.3L480,768.3L478.3,770.6L476.6,771.9L474.9,770.4L473.2,768.9L471.5,763.5L469.8,770L468.1,766.8L466.4,767.3L464.7,768.8L463,766.5L461.3,768.9L459.6,765.6L457.9,769.8L456.2,762.2L454.5,765L452.8,766.2L451.1,764.3L449.4,762.7L447.7,761L446,760.6L444.3,754.3L442.6,760.5L440.9,753.6L439.2,755.2L437.5,754L435.8,757.4L434.1,754.5L432.4,752.7L430.7,750.5L429,754.4L427.3,756.8L425.6,752.7L423.9,755.4L422.2,751.6L420.5,752.7L418.8,753.4L417.1,752.3L415.4,757.3L413.7,751.2L412,752.8L410.3,748.5L408.6,747.9L406.9,747.8L405.2,749.1L403.5,749.3L401.8,744.3L400.1,744.9L398.4,739.9L396.7,744.1L395,742.3L393.3,743.7L391.6,742.3L389.9,745.4L388.2,740.8L386.5,742.7L384.8,743.7L383.1,747.6L381.4,747.3L379.7,747.1L378,749.4L376.3,749.5L374.6,752L372.9,750.2L371.2,749.9L369.5,750.3L367.8,747L366.1,745.2L364.4,743L362.7,743.6L361,738.1L359.3,742.8L357.6,737.1L355.9,739.2L354.2,739.4L352.5,740.8L350.8,735.8L349.1,741.8L347.4,743.8L345.7,744.8L344,746.2L342.3,746L340.6,746.6L338.9,746.6L337.2,746.5L335.5,745.3L333.8,746L332.1,744.1L330.4,747.8L328.7,743.9L327,741.6L325.3,743.8L323.6,744.4L321.9,741.1L320.2,740.7L318.5,744.7L316.8,742.5L315.1,745L313.4,743.7L311.7,741.2L310,744.7L308.3,741.2L306.6,743.5L304.9,742.1L303.2,745.6L301.5,744.5L299.8,745L298.1,749L296.4,741.1L294.7,740.6L293,738.6L291.3,742.8L289.6,741.2L287.9,735.7Z" fill="#9E9E9E"/>
<path d="M287.9,730.1L291.5,735.4L295.1,738.2L298.7,737.2L302.4,734.1L306,738.9L309.6,738.6L313.2,733.8L316.8,738.4L320.5,735.7L324.1,741.2L327.7,738.5L331.3,737.6L334.9,740.7L338.6,738.6L342.2,737.4L345.8,736.1L349.4,734.4L353,734.2L356.7,733L360.3,733.6L363.9,737.4L367.5,733.8L371.1,737L374.8,740.9L378.4,737.7L382,738.8L385.6,734.2L389.3,731.5L392.9,732.9L396.5,731.3L400.1,731.4L403.7,736.9L407.4,738.9L411,739.6L414.6,741.4L418.2,739.6L421.8,741.2L425.5,741.3L429.1,742.1L432.7,744L436.3,740.9L439.9,741.8L443.6,746.6L447.2,746.9L450.8,746.8L454.4,752.7L458,751.2L461.7,751.6L465.3,750.9L468.9,753.4L472.5,755.7L476.1,754.6L479.8,756.6L483.4,755.5L487,760.2L490.6,757.3L494.2,751.5L497.9,750.5L501.5,747.5L505.1,743L508.7,733.9L512.3,727.8L516,723.4L519.6,718.5L523.2,714.9L526.8,715.6L530.4,716.3L534.1,717.7L537.7,724.8L541.3,729.7L544.9,733.2L548.6,740.6L552.2,746.9L555.8,753.7L559.4,760.9L563,769.1L566.7,772.4L570.3,775.9L573.9,777L577.5,778.4L581.1,780.4L584.8,775.9L588.4,781.3L592,780.2L595.6,783.3L599.2,782.9L602.9,781.4L606.5,784.9L610.1,782.3L613.7,784.3L617.3,782.7L621,783.3L624.6,784.7" fill="none" stroke="#000" stroke-width="11.6" stroke-linejoin="round" stroke-linecap="round"/>
</g>
<g clip-path="url(#c11)">
<path d="M642.1,766.1L643.8,769.3L645.5,768.1L647.2,766.3L648.9,772.3L650.7,768.4L652.4,767.7L654.1,771.6L655.8,766.7L657.5,766.6L659.2,769.6L660.9,771.2L662.7,770.8L664.4,768.7L666.1,767.3L667.8,772.6L669.5,776.1L671.2,771L672.9,769.1L674.7,770.2L676.4,767.6L678.1,768.6L679.8,767.2L681.5,767.6L683.2,768.1L684.9,768.2L686.7,766.8L688.4,770.8L690.1,766.8L691.8,768.4L693.5,769L695.2,769.4L696.9,763.5L698.7,767.2L700.4,767.3L702.1,765.5L703.8,762.7L705.5,764.6L707.2,758.8L708.9,759.2L710.7,756.4L712.4,756.8L714.1,755.9L715.8,750.6L717.5,750.5L719.2,754L720.9,754.2L722.7,756.2L724.4,757.3L726.1,753.9L727.8,755.2L729.5,757.2L731.2,763.4L733,755L734.7,758.8L736.4,760L738.1,760.9L739.8,759.6L741.5,759.4L743.2,760.6L745,760.5L746.7,760.6L748.4,762.2L750.1,758.5L751.8,759.6L753.5,762.2L755.2,759.6L757,759L758.7,758.3L760.4,761.1L762.1,764.2L763.8,766.2L765.5,768.6L767.2,768.9L769,771.4L770.7,767.3L772.4,772.7L774.1,770L775.8,768.6L777.5,762.7L779.2,767.7L781,759.2L782.7,763.1L784.4,754.1L786.1,760.5L787.8,760.5L789.5,758.5L791.2,755.7L793,754.2L794.7,747L796.4,749.8L798.1,745.1L799.8,745.3L801.5,744.1L803.2,740.7L805,731.4L806.7,728.8L808.4,727.4L810.1,726.2L811.8,720.4L813.5,718.2L815.2,716.1L817,712.5L818.7,710.7L820.4,708.2L822.1,707.1L823.8,707.4L825.5,710L827.2,709.5L829,707.1L829,752L827.2,752.6L825.5,746.2L823.8,742.6L822.1,745.9L820.4,745.5L818.7,750.6L817,750.1L815.2,751.4L813.5,756.8L811.8,761L810.1,765.4L808.4,762.4L806.7,770.9L805,772L803.2,775.8L801.5,780.6L799.8,782.9L798.1,785.7L796.4,787L794.7,790.4L793,795.3L791.2,796.7L789.5,794.7L787.8,802.9L786.1,800.4L784.4,797.6L782.7,800.4L781,804.6L779.2,805.9L777.5,804.2L775.8,802.5L774.1,805.2L772.4,806.7L770.7,811.6L769,806.9L767.2,805.8L765.5,797.1L763.8,801.8L762.1,802.1L760.4,800L758.7,793.6L757,798.5L755.2,797.6L753.5,799.6L751.8,798.7L750.1,795.1L748.4,797.6L746.7,794.8L745,795.9L743.2,795.2L741.5,798.4L739.8,796.7L738.1,795.9L736.4,794.5L734.7,795L733,797.1L731.2,796L729.5,793.7L727.8,793.4L726.1,793.6L724.4,791.5L722.7,796L720.9,790.6L719.2,792.7L717.5,793.5L715.8,793.3L714.1,792.6L712.4,793.3L710.7,797L708.9,797.4L707.2,800.5L705.5,800.9L703.8,803.4L702.1,804.6L700.4,808.2L698.7,808.1L696.9,807.7L695.2,809.8L693.5,803.7L691.8,805.1L690.1,804.7L688.4,808.3L686.7,808.6L684.9,810.3L683.2,812L681.5,809.4L679.8,812.1L678.1,810.6L676.4,810.6L674.7,808.9L672.9,807.8L671.2,807.3L669.5,807.1L667.8,809.4L666.1,808.6L664.4,811.3L662.7,807.1L660.9,808.5L659.2,808.7L657.5,815.2L655.8,809L654.1,807.5L652.4,809L650.7,809.7L648.9,810L647.2,806.9L645.5,812.4L643.8,810L642.1,809.2Z" fill="#8E94CE"/>
<path d="M642.1,792.3L645.8,788.8L649.4,789.6L653.1,790.2L656.7,788.3L660.4,789.6L664.1,789.6L667.7,786.7L671.4,790.8L675.1,789.8L678.7,787.4L682.4,787.8L686.1,788.5L689.7,786.9L693.4,786.6L697,784.3L700.7,787.1L704.4,783L708,779.6L711.7,773.1L715.4,775.6L719,774L722.7,773.9L726.4,778.6L730,776.1L733.7,774.6L737.4,777L741,774.6L744.7,780.6L748.3,778.8L752,777.6L755.7,779.9L759.3,776.5L763,784.6L766.7,783.3L770.3,786.5L774,784.8L777.7,787.2L781.3,785.9L785,780.2L788.7,779.6L792.3,775.1L796,770.2L799.6,762L803.3,754L807,746.5L810.6,743.4L814.3,740.5L818,731.7L821.6,725.5L825.3,731.7L829,732.7" fill="none" stroke="#1F2A8E" stroke-width="11.6" stroke-linejoin="round" stroke-linecap="round"/>
<path d="M642.1,771.2L643.8,770.6L645.5,766.8L647.2,768L648.9,772.1L650.7,772.9L652.4,761.9L654.1,768.1L655.8,769.3L657.5,761.2L659.2,763.4L660.9,760.8L662.7,762.4L664.4,765.2L666.1,764.9L667.8,767.1L669.5,767.9L671.2,768.2L672.9,768.9L674.7,769.9L676.4,774.6L678.1,769.9L679.8,773.3L681.5,772.4L683.2,772.2L684.9,772.8L686.7,770.3L688.4,772.1L690.1,769.6L691.8,766.1L693.5,765.2L695.2,769.1L696.9,771.5L698.7,770.8L700.4,770.5L702.1,771.7L703.8,768.7L705.5,764.3L707.2,763.6L708.9,761.5L710.7,764L712.4,761.1L714.1,762.5L715.8,765L717.5,767.5L719.2,766.5L720.9,773L722.7,774.9L724.4,782.7L726.1,785.7L727.8,792.5L729.5,790.2L731.2,791.9L733,798.8L734.7,801.2L736.4,800.8L738.1,800L739.8,798.7L741.5,797.2L743.2,802.5L745,797.7L746.7,796.7L748.4,799.7L750.1,800.8L751.8,797.6L753.5,802.3L755.2,800.9L757,801.6L758.7,802.1L760.4,805.5L762.1,805.4L763.8,804.4L765.5,803.8L767.2,806L769,802.6L770.7,801.8L772.4,806.9L774.1,804.2L775.8,804.2L777.5,806L779.2,807.5L781,803.8L782.7,802.9L784.4,803.5L786.1,803.5L787.8,804.5L789.5,797.5L791.2,797.2L793,795.1L794.7,795.4L796.4,795.2L798.1,788.2L799.8,785.2L801.5,777.3L803.2,775L805,774.3L806.7,768.8L808.4,764.1L810.1,758.3L811.8,758.9L813.5,753.1L815.2,745.6L817,742.9L818.7,745L820.4,746.5L822.1,751.8L823.8,757.8L825.5,757.4L827.2,759.3L829,760.9L829,807.3L827.2,803.2L825.5,801.7L823.8,795.1L822.1,792.1L820.4,789.3L818.7,788L817,782L815.2,786L813.5,791.2L811.8,796.7L810.1,800.8L808.4,806.1L806.7,809.1L805,814.6L803.2,818.5L801.5,823.9L799.8,826.5L798.1,831.7L796.4,838.1L794.7,835L793,838.9L791.2,841.2L789.5,842.9L787.8,841.7L786.1,841.4L784.4,843.3L782.7,845.5L781,847.1L779.2,843.7L777.5,844.6L775.8,843.4L774.1,845.2L772.4,844.1L770.7,845.3L769,843.3L767.2,842.5L765.5,844.4L763.8,842L762.1,848.5L760.4,847.2L758.7,841.2L757,846.7L755.2,842.9L753.5,843L751.8,841L750.1,840.9L748.4,839.6L746.7,841L745,839.2L743.2,840.7L741.5,843L739.8,838.8L738.1,838.2L736.4,842.4L734.7,836L733,838.9L731.2,834.9L729.5,833.3L727.8,829.2L726.1,829.7L724.4,824.8L722.7,818.2L720.9,814.3L719.2,809.4L717.5,805L715.8,803.4L714.1,801.4L712.4,801.9L710.7,804L708.9,805.1L707.2,807L705.5,809L703.8,806.6L702.1,809.6L700.4,806.2L698.7,808.3L696.9,807.9L695.2,809.1L693.5,811.3L691.8,811.9L690.1,812.9L688.4,805.4L686.7,807.4L684.9,810.3L683.2,805.6L681.5,810.9L679.8,807.3L678.1,811.2L676.4,808.7L674.7,814L672.9,812.4L671.2,807L669.5,806.8L667.8,808.9L666.1,803.1L664.4,806.9L662.7,802.2L660.9,800.6L659.2,803.7L657.5,806.7L655.8,803.8L654.1,802.6L652.4,804.5L650.7,808.6L648.9,804.5L647.2,808.7L645.5,807.7L643.8,805.7L642.1,808.9Z" fill="#F19C94"/>
<path d="M642.1,791.4L645.8,791.5L649.4,785.2L653.1,784.4L656.7,781.1L660.4,786.8L664.1,787.7L667.7,790.6L671.4,790.3L675.1,791.5L678.7,788.9L682.4,793.9L686.1,788.2L689.7,788.1L693.4,788.3L697,787.6L700.7,790.3L704.4,786.8L708,785.1L711.7,781.9L715.4,783.4L719,787.6L722.7,797.2L726.4,807.2L730,809.4L733.7,816.1L737.4,820L741,823.2L744.7,821.3L748.3,819.3L752,822.4L755.7,821.6L759.3,823.8L763,825.1L766.7,824.3L770.3,823.2L774,824.9L777.7,822.6L781.3,824.1L785,822.4L788.7,819.3L792.3,817.5L796,813.2L799.6,807.4L803.3,797.9L807,789.1L810.6,779.9L814.3,770L818,759.2L821.6,773.4L825.3,775.9L829,783.3" fill="none" stroke="#E5141E" stroke-width="11.6" stroke-linejoin="round" stroke-linecap="round"/>
</g>
<g clip-path="url(#c12)">
<path d="M847.5,730.7L849.2,726.6L850.9,731.8L852.6,741.8L854.3,735.5L856,740.4L857.7,740.7L859.4,742.1L861.1,740L862.8,746.5L864.5,745.9L866.2,748.8L867.9,742L869.6,743.7L871.3,741.2L873,738.6L874.7,735.6L876.4,731.1L878.1,730.9L879.8,727.4L881.5,724.2L883.2,719.1L884.9,717.9L886.6,716.7L888.3,709.2L890,710.1L891.7,704.8L893.4,701.9L895.1,700.7L896.8,698.7L898.5,694.2L900.2,692L901.9,686.9L903.6,685.3L905.3,681.3L907,680.3L908.7,685L910.4,682.8L912.1,674.4L913.8,676.8L915.5,672.9L917.2,671.2L918.9,673.4L920.6,672.2L922.3,667.8L924,669.2L925.7,668.6L927.4,670.6L929.1,665.1L930.8,669.6L932.5,666.1L934.2,666.7L935.9,668.7L937.6,673.9L939.3,672.1L941,669.6L942.7,672.2L944.4,669L946.1,667.5L947.8,664.9L949.5,670.2L951.2,665.6L952.9,671.5L954.6,670L956.3,668.6L958,670.3L959.7,670.6L961.4,674L963.1,673.2L964.8,679.3L966.5,678.5L968.2,686.5L969.9,687.3L971.6,687.5L973.3,690.4L975,694L976.7,691.3L978.4,694.3L980.1,693.6L981.8,695.8L983.5,696.4L985.2,700.5L986.9,696.6L988.6,700.4L990.3,695.9L992,699.1L993.7,696L995.4,693.1L997.1,698.9L998.8,699L1000.5,697.9L1002.2,697.9L1003.9,702.7L1005.6,697.2L1007.3,699.2L1009,699.9L1010.7,699.9L1012.4,695.2L1014.1,693.9L1015.8,699.9L1017.5,696.3L1019.2,695.5L1020.9,698.4L1022.6,697.4L1024.3,702.2L1026,703.4L1027.7,704.8L1029.4,711.2L1031.1,709.6L1032.8,713.9L1034.5,708.1L1036.2,718.2L1037.9,713.8L1039.6,715.9L1041.3,718.2L1043,717L1044.7,712.5L1046.4,713.7L1048.1,713.8L1049.8,712L1051.5,711.3L1053.2,715.1L1054.9,708.2L1056.6,711.4L1058.3,712.1L1060,707.3L1061.7,706.7L1063.4,704.2L1065.1,705.5L1066.8,705.5L1068.5,706.9L1070.2,702.6L1071.9,701.8L1073.6,698.1L1075.3,697.1L1077,696.1L1078.7,697.4L1080.4,700L1082.1,703.2L1083.8,702.8L1085.5,701.1L1087.2,705.2L1088.9,701.9L1090.6,706.1L1092.3,710.3L1094,711.1L1095.7,711.3L1097.4,712.8L1099.1,708.2L1100.8,714.5L1102.5,718.3L1104.2,719.5L1105.9,718.2L1107.6,717.5L1109.3,716.3L1111,718.4L1112.7,718.8L1114.4,711L1116.1,714.3L1117.8,720.1L1119.5,715.6L1121.2,712.2L1122.9,718.9L1124.6,717.3L1126.3,716.4L1128,716L1129.7,714L1131.4,716.6L1133.1,716.5L1134.8,717.3L1136.5,715.8L1138.2,716.5L1139.9,715.3L1141.6,716.8L1143.3,716.6L1145,716.1L1146.7,712.6L1148.4,713.3L1150.1,712.6L1151.8,710.1L1153.5,711.5L1155.2,709.1L1156.9,705.6L1158.6,710.4L1160.3,707.2L1162,711.8L1163.7,708.2L1165.4,709.5L1167.1,711.7L1168.8,715.9L1170.5,715.3L1172.2,717.7L1173.9,717.6L1175.6,717.4L1177.3,718.8L1179,715.8L1180.7,721.1L1182.4,718.1L1184.1,715.8L1185.8,719.6L1187.5,720L1189.2,719.4L1190.9,716.2L1192.6,717.1L1194.3,715.5L1196,719.9L1197.7,719.2L1199.4,727.2L1201.1,726.2L1202.8,728.1L1204.5,727.3L1206.2,727.2L1207.9,729.8L1209.6,729L1211.3,729L1213,731.1L1214.7,735.2L1216.4,731.9L1218.1,736.4L1219.8,731.7L1221.5,735.7L1223.2,737.7L1224.9,737.5L1226.6,733.2L1228.3,735.6L1230,739.1L1231.7,733.1L1233.4,730.8L1235.1,729.8L1236.8,732.2L1238.5,732.8L1240.2,737.3L1241.9,734.5L1243.6,732L1245.3,732.6L1247,733.3L1248.7,736.5L1250.4,735.2L1252.1,732.7L1253.8,739.3L1255.5,738.2L1257.2,737.3L1258.9,740L1260.6,739.2L1262.3,741.7L1264,742.7L1265.7,734.9L1267.4,741.7L1269.1,741.3L1270.8,741.8L1272.5,739L1274.2,739.1L1275.9,739.2L1277.6,741.3L1279.3,744.8L1281,742.9L1282.7,743.6L1284.4,743.1L1286.1,745.9L1287.8,746.7L1289.5,747.6L1291.2,746.1L1292.9,746.2L1292.9,776.1L1291.2,778.7L1289.5,773.1L1287.8,776.4L1286.1,772.6L1284.4,771.2L1282.7,771.2L1281,772.4L1279.3,768.8L1277.6,771.8L1275.9,774.2L1274.2,768.5L1272.5,768.1L1270.8,763.6L1269.1,770.3L1267.4,764.1L1265.7,766L1264,764.3L1262.3,764.3L1260.6,763.7L1258.9,768.7L1257.2,766.1L1255.5,765L1253.8,764.4L1252.1,767.3L1250.4,765.9L1248.7,766.4L1247,762.8L1245.3,760.4L1243.6,761.7L1241.9,761.8L1240.2,764.8L1238.5,759.5L1236.8,760.4L1235.1,759.6L1233.4,761.7L1231.7,759.1L1230,760.1L1228.3,765L1226.6,764.7L1224.9,762L1223.2,763.2L1221.5,761.1L1219.8,761.6L1218.1,760.7L1216.4,760.6L1214.7,761.4L1213,761.9L1211.3,759L1209.6,758L1207.9,756.4L1206.2,762.9L1204.5,756.1L1202.8,756.4L1201.1,750.4L1199.4,746.7L1197.7,751.4L1196,751.2L1194.3,751.1L1192.6,749.9L1190.9,747.6L1189.2,747L1187.5,748.8L1185.8,746.3L1184.1,745.9L1182.4,744.7L1180.7,748L1179,746.2L1177.3,746L1175.6,744.6L1173.9,744.7L1172.2,748.1L1170.5,745.6L1168.8,744.9L1167.1,740.7L1165.4,742L1163.7,743.3L1162,740.2L1160.3,738.7L1158.6,739.2L1156.9,739.2L1155.2,737.5L1153.5,737L1151.8,742L1150.1,742.8L1148.4,744.2L1146.7,741.7L1145,740.5L1143.3,743.4L1141.6,744.7L1139.9,747.7L1138.2,746L1136.5,747L1134.8,746.5L1133.1,747L1131.4,743.9L1129.7,746.4L1128,744.5L1126.3,748.4L1124.6,745.8L1122.9,744L1121.2,747.4L1119.5,746L1117.8,746L1116.1,746L1114.4,746.1L1112.7,745.1L1111,743.6L1109.3,746.2L1107.6,742.6L1105.9,746.1L1104.2,747.7L1102.5,740.6L1100.8,748.2L1099.1,747.5L1097.4,743.7L1095.7,744.5L1094,735L1092.3,741.6L1090.6,735.5L1088.9,737.9L1087.2,732.8L1085.5,734.6L1083.8,731.1L1082.1,730.2L1080.4,729.8L1078.7,723.9L1077,729.7L1075.3,730.7L1073.6,730.1L1071.9,730.9L1070.2,731L1068.5,732L1066.8,732.9L1065.1,737.6L1063.4,738.8L1061.7,739.1L1060,736.8L1058.3,741.2L1056.6,741.2L1054.9,741.4L1053.2,741.5L1051.5,742.5L1049.8,744.8L1048.1,743.3L1046.4,741.9L1044.7,745.2L1043,746.5L1041.3,743.3L1039.6,749L1037.9,744.3L1036.2,746.2L1034.5,739.9L1032.8,743.4L1031.1,740.6L1029.4,737.2L1027.7,735.1L1026,730.3L1024.3,731.6L1022.6,729.5L1020.9,727L1019.2,722.7L1017.5,728.6L1015.8,728.4L1014.1,725.8L1012.4,726.3L1010.7,728.6L1009,726.7L1007.3,729.8L1005.6,728.3L1003.9,732.1L1002.2,726.6L1000.5,729.8L998.8,731L997.1,732L995.4,726.7L993.7,727.9L992,726.9L990.3,729.8L988.6,731L986.9,726.8L985.2,728L983.5,726.6L981.8,722.7L980.1,724.7L978.4,722.1L976.7,721.9L975,719.1L973.3,720.5L971.6,718L969.9,715.1L968.2,712.7L966.5,716.5L964.8,711.9L963.1,711.4L961.4,705.9L959.7,702.9L958,702.8L956.3,700.2L954.6,701.3L952.9,700L951.2,701.1L949.5,698.9L947.8,700.8L946.1,702L944.4,701.4L942.7,701L941,704.6L939.3,703.6L937.6,700.4L935.9,699.6L934.2,702.1L932.5,696.5L930.8,702.4L929.1,702L927.4,704.9L925.7,705.3L924,702.5L922.3,704.7L920.6,707L918.9,707.2L917.2,709.7L915.5,708.7L913.8,711L912.1,711.7L910.4,714.6L908.7,714.7L907,720.6L905.3,721.6L903.6,727L901.9,725.9L900.2,728.1L898.5,732.2L896.8,733.3L895.1,737.4L893.4,741.3L891.7,743.4L890,750.7L888.3,753.4L886.6,757.6L884.9,752.8L883.2,761.2L881.5,762.8L879.8,768.4L878.1,770.7L876.4,773.9L874.7,776.6L873,780.7L871.3,780.4L869.6,783.7L867.9,790L866.2,784.4L864.5,787.2L862.8,783.7L861.1,787.1L859.4,786.8L857.7,782.3L856,785.6L854.3,784.6L852.6,779.3L850.9,775.8L849.2,773.2L847.5,770.4Z" fill="#8E94CE"/>
<path d="M847.5,749.2L851.1,755.9L854.7,759.7L858.3,765.1L862,765.4L865.6,765.2L869.2,761.7L872.8,758.8L876.4,753.6L880.1,746.6L883.7,741.7L887.3,736.2L890.9,727L894.6,721.1L898.2,716.4L901.8,709.1L905.4,705.9L909,697.5L912.7,694.5L916.3,692.6L919.9,689.6L923.5,686.8L927.1,686.5L930.8,684.8L934.4,684.9L938,685.3L941.6,686.8L945.3,686.2L948.9,684L952.5,680.8L956.1,683.5L959.7,691.7L963.4,688.9L967,697.2L970.6,703.5L974.2,706.7L977.9,710.5L981.5,712.4L985.1,714.1L988.7,715.4L992.3,713L996,714.6L999.6,714.5L1003.2,715.3L1006.8,712.8L1010.4,710.8L1014.1,715L1017.7,711.4L1021.3,711.1L1024.9,718.8L1028.6,720.9L1032.2,725.4L1035.8,728L1039.4,727.3L1043,725.9L1046.7,729.7L1050.3,727.6L1053.9,726.1L1057.5,727L1061.1,722L1064.8,723.7L1068.4,715.9L1072,711.5L1075.6,712.9L1079.3,713.1L1082.9,718.3L1086.5,718L1090.1,721.8L1093.7,725.8L1097.4,732.3L1101,727.4L1104.6,732.6L1108.2,732.3L1111.9,730.8L1115.5,731.7L1119.1,731.8L1122.7,729.7L1126.3,730.8L1130,732.5L1133.6,733.2L1137.2,731L1140.8,730.1L1144.4,729.3L1148.1,729.5L1151.7,727.3L1155.3,727.9L1158.9,725.7L1162.6,723.8L1166.2,729.5L1169.8,728.2L1173.4,731.3L1177,731.6L1180.7,733.8L1184.3,732.4L1187.9,732.6L1191.5,729.7L1195.1,736.4L1198.8,737L1202.4,739L1206,744.4L1209.6,745.1L1213.3,746.4L1216.9,748.6L1220.5,749.1L1224.1,746.7L1227.7,745.8L1231.4,748.9L1235,749.2L1238.6,748.3L1242.2,748.8L1245.8,751.1L1249.5,752.6L1253.1,751.9L1256.7,753.3L1260.3,753.6L1264,751.8L1267.6,754.5L1271.2,752.2L1274.8,751.1L1278.4,757L1282.1,756.5L1285.7,761.9L1289.3,758.7L1292.9,764.1" fill="none" stroke="#1F2A8E" stroke-width="11.6" stroke-linejoin="round" stroke-linecap="round"/>
<path d="M847.5,759.9L849.2,761.3L850.9,767.5L852.6,774.5L854.3,778L856,786.2L857.7,793.4L859.4,795.2L861.1,804.3L862.8,808.8L864.5,816.7L866.2,826.4L867.9,827.3L869.6,830.6L871.3,834.5L873,843L874.7,844.5L876.4,846.4L878.1,851.3L879.8,847.4L881.5,851.4L883.2,853.2L884.9,852.6L886.6,855L888.3,851.9L890,851.3L891.7,851.6L893.4,848.2L895.1,851L896.8,849.2L898.5,848.1L900.2,841.1L901.9,840.6L903.6,838.5L905.3,837.2L907,826.5L908.7,826.5L910.4,827.1L912.1,822.9L913.8,820.4L915.5,816.2L917.2,816.3L918.9,812.2L920.6,808.7L922.3,811L924,806.4L925.7,808.8L927.4,809.4L929.1,811.6L930.8,810.7L932.5,808.9L934.2,809.7L935.9,810.1L937.6,811.1L939.3,809.2L941,809.6L942.7,804.5L944.4,805L946.1,806.9L947.8,803.4L949.5,803.3L951.2,801.8L952.9,797.2L954.6,798.5L956.3,793.1L958,793.9L959.7,790.7L961.4,787.5L963.1,789.5L964.8,788.8L966.5,786.2L968.2,787.5L969.9,787L971.6,786.9L973.3,786.4L975,788.9L976.7,787.5L978.4,786.5L980.1,788.2L981.8,784.3L983.5,783.2L985.2,781L986.9,780.9L988.6,780.7L990.3,781.4L992,781.8L993.7,779.2L995.4,777.9L997.1,776.4L998.8,775.6L1000.5,780.1L1002.2,777.5L1003.9,777L1005.6,777.3L1007.3,779.6L1009,778.9L1010.7,779.5L1012.4,775.1L1014.1,775.7L1015.8,771.4L1017.5,776.8L1019.2,773.4L1020.9,769.3L1022.6,764.7L1024.3,769L1026,764.6L1027.7,763.4L1029.4,764.2L1031.1,759.8L1032.8,763.7L1034.5,762.9L1036.2,763.5L1037.9,765L1039.6,762.4L1041.3,755.8L1043,757.2L1044.7,754.1L1046.4,754.6L1048.1,753.6L1049.8,755.6L1051.5,751.1L1053.2,746L1054.9,745.3L1056.6,744.7L1058.3,743.2L1060,742.1L1061.7,743.4L1063.4,738.9L1065.1,741.6L1066.8,735.8L1068.5,740.9L1070.2,740.2L1071.9,741L1073.6,740.6L1075.3,742.1L1077,744.2L1078.7,739.9L1080.4,744.3L1082.1,747.2L1083.8,736.7L1085.5,739.7L1087.2,740.4L1088.9,744.6L1090.6,745.5L1092.3,743.7L1094,747.2L1095.7,740.9L1097.4,748.8L1099.1,744.1L1100.8,748.3L1102.5,749.8L1104.2,746.8L1105.9,744.9L1107.6,739.9L1109.3,743.1L1111,744.5L1112.7,742.7L1114.4,741.3L1116.1,737L1117.8,735.7L1119.5,735L1121.2,732.8L1122.9,733.1L1124.6,730.4L1126.3,728.8L1128,727.4L1129.7,729.5L1131.4,726.8L1133.1,727.1L1134.8,726.3L1136.5,723.2L1138.2,724.1L1139.9,725.4L1141.6,729.5L1143.3,725.7L1145,727.5L1146.7,728.1L1148.4,728.3L1150.1,728.9L1151.8,729.4L1153.5,727.1L1155.2,730.9L1156.9,730.3L1158.6,731.2L1160.3,730.3L1162,732.5L1163.7,731L1165.4,729.7L1167.1,726.9L1168.8,726.9L1170.5,729.1L1172.2,724.6L1173.9,730.4L1175.6,729L1177.3,733.8L1179,727.8L1180.7,731.8L1182.4,730L1184.1,732.3L1185.8,731.7L1187.5,736.6L1189.2,729.1L1190.9,727.9L1192.6,730.7L1194.3,734.1L1196,735.4L1197.7,726.1L1199.4,728.4L1201.1,730L1202.8,729.9L1204.5,726.1L1206.2,726.1L1207.9,729.5L1209.6,723.5L1211.3,725.7L1213,723.6L1214.7,728.8L1216.4,727.5L1218.1,724.9L1219.8,728.2L1221.5,725.8L1223.2,731.8L1224.9,728.7L1226.6,728.5L1228.3,730.1L1230,729.5L1231.7,733.5L1233.4,731.5L1235.1,726.9L1236.8,731.7L1238.5,729.6L1240.2,733.4L1241.9,730.5L1243.6,730.1L1245.3,728.2L1247,726.5L1248.7,725.8L1250.4,727.6L1252.1,721.9L1253.8,724.4L1255.5,721.4L1257.2,718.1L1258.9,718.2L1260.6,722.7L1262.3,724.6L1264,722.5L1265.7,721.1L1267.4,721.5L1269.1,723.7L1270.8,718.6L1272.5,722.7L1274.2,722.5L1275.9,725.1L1277.6,726.1L1279.3,726.3L1281,723.6L1282.7,726L1284.4,726.9L1286.1,728.9L1287.8,730.5L1289.5,728.2L1291.2,730L1292.9,729.6L1292.9,756.9L1291.2,751.2L1289.5,754.5L1287.8,745.1L1286.1,749.7L1284.4,753.9L1282.7,749.9L1281,743L1279.3,745.4L1277.6,747.6L1275.9,743.5L1274.2,744.9L1272.5,748.1L1270.8,741.7L1269.1,742.7L1267.4,746.1L1265.7,739.5L1264,741.2L1262.3,739.9L1260.6,744.6L1258.9,743.3L1257.2,743.8L1255.5,742.8L1253.8,745.3L1252.1,747.7L1250.4,749.7L1248.7,747.3L1247,753.4L1245.3,752.8L1243.6,752.5L1241.9,753.7L1240.2,755.6L1238.5,755.1L1236.8,754.5L1235.1,751.3L1233.4,754.4L1231.7,754.6L1230,753.9L1228.3,752.1L1226.6,752.8L1224.9,751.9L1223.2,748.2L1221.5,750.4L1219.8,749.3L1218.1,749.2L1216.4,741.3L1214.7,746.5L1213,747.8L1211.3,751.1L1209.6,750.1L1207.9,749.6L1206.2,749.1L1204.5,751.2L1202.8,752.1L1201.1,749.9L1199.4,751.9L1197.7,754.9L1196,754.9L1194.3,757.4L1192.6,753.8L1190.9,755.2L1189.2,754.8L1187.5,752.2L1185.8,754.9L1184.1,752L1182.4,752.3L1180.7,752.5L1179,753L1177.3,753.9L1175.6,754.2L1173.9,750L1172.2,752.6L1170.5,752.5L1168.8,753.8L1167.1,751L1165.4,752.6L1163.7,747.1L1162,749.4L1160.3,751.9L1158.6,752.3L1156.9,754.1L1155.2,753.5L1153.5,753.2L1151.8,751.9L1150.1,752L1148.4,754.7L1146.7,752.5L1145,750.1L1143.3,749.4L1141.6,752.4L1139.9,751.4L1138.2,747.7L1136.5,745.1L1134.8,750.3L1133.1,744L1131.4,753.3L1129.7,750.2L1128,749L1126.3,747.9L1124.6,754.9L1122.9,757.8L1121.2,757.2L1119.5,762.3L1117.8,762.6L1116.1,760.4L1114.4,763L1112.7,768.6L1111,767.5L1109.3,766.7L1107.6,771.1L1105.9,771.5L1104.2,772.5L1102.5,772.3L1100.8,773.5L1099.1,773.2L1097.4,769.9L1095.7,774.1L1094,770.1L1092.3,771.7L1090.6,770.9L1088.9,771.5L1087.2,766.2L1085.5,768L1083.8,766.7L1082.1,770.7L1080.4,768.1L1078.7,767.4L1077,766.2L1075.3,771.3L1073.6,766.7L1071.9,766.3L1070.2,771.7L1068.5,769.8L1066.8,772.3L1065.1,767.3L1063.4,767.1L1061.7,769.8L1060,770.6L1058.3,772.3L1056.6,771.1L1054.9,774L1053.2,781.6L1051.5,776L1049.8,785.8L1048.1,780.8L1046.4,786.2L1044.7,786.1L1043,787.2L1041.3,789.6L1039.6,787.8L1037.9,792.9L1036.2,793.5L1034.5,794.5L1032.8,791.3L1031.1,791.2L1029.4,796.1L1027.7,796.9L1026,797.8L1024.3,794.4L1022.6,802.6L1020.9,798.3L1019.2,799.5L1017.5,806L1015.8,806.6L1014.1,805.3L1012.4,808.4L1010.7,811.3L1009,807.9L1007.3,806.9L1005.6,812.9L1003.9,809L1002.2,814.6L1000.5,806.4L998.8,809.3L997.1,812.2L995.4,810.1L993.7,813.3L992,810.4L990.3,808.3L988.6,813L986.9,811L985.2,815.9L983.5,815.5L981.8,816.8L980.1,817.7L978.4,816.3L976.7,817L975,818.7L973.3,816.7L971.6,815.4L969.9,818.7L968.2,818.8L966.5,819.2L964.8,817.6L963.1,817.4L961.4,822.4L959.7,823.4L958,822.5L956.3,826.3L954.6,825.8L952.9,833.1L951.2,832L949.5,834.3L947.8,839.8L946.1,840.8L944.4,842.4L942.7,843.5L941,841.5L939.3,840.1L937.6,843.3L935.9,845.1L934.2,845.3L932.5,844.2L930.8,842.5L929.1,844.4L927.4,847.3L925.7,841.1L924,842.6L922.3,843.1L920.6,847.8L918.9,845.7L917.2,846.5L915.5,849.7L913.8,855.6L912.1,859.2L910.4,863.1L908.7,863.4L907,865.1L905.3,873.9L903.6,873.8L901.9,877.1L900.2,881.7L898.5,885.4L896.8,887L895.1,885.9L893.4,887.8L891.7,893.9L890,893.5L888.3,889.4L886.6,895.7L884.9,891.2L883.2,890.9L881.5,888.7L879.8,892.7L878.1,891.4L876.4,887.1L874.7,887.1L873,878.7L871.3,881.2L869.6,872.1L867.9,865.3L866.2,863L864.5,858.5L862.8,848.9L861.1,843.7L859.4,838.4L857.7,829.3L856,821.6L854.3,822.7L852.6,814.9L850.9,804L849.2,802.7L847.5,801.8Z" fill="#F19C94"/>
<path d="M847.5,781.6L851.1,790.3L854.7,798.1L858.3,813.3L862,828.3L865.6,840.6L869.2,852.7L872.8,862.2L876.4,866.6L880.1,870.4L883.7,873.2L887.3,875.1L890.9,869.8L894.6,870.4L898.2,865.5L901.8,860.1L905.4,850.3L909,845.1L912.7,840L916.3,831.2L919.9,825.4L923.5,824.1L927.1,828L930.8,832L934.4,829L938,828.4L941.6,824.3L945.3,824.6L948.9,820.1L952.5,817.1L956.1,809.9L959.7,805.1L963.4,804.7L967,802.3L970.6,804.5L974.2,802.1L977.9,801.7L981.5,798.9L985.1,799.9L988.7,795.2L992.3,796L996,792.9L999.6,791.6L1003.2,792.5L1006.8,792.3L1010.4,792L1014.1,790.4L1017.7,789.9L1021.3,786.7L1024.9,781.9L1028.6,779.3L1032.2,779.2L1035.8,777.2L1039.4,777.5L1043,774.7L1046.7,770.6L1050.3,770.2L1053.9,763.5L1057.5,758L1061.1,754.7L1064.8,752.2L1068.4,753L1072,756.8L1075.6,754.7L1079.3,755.5L1082.9,754.5L1086.5,757.3L1090.1,754.2L1093.7,756.7L1097.4,757.8L1101,759.1L1104.6,759.9L1108.2,756.3L1111.9,755.2L1115.5,751.1L1119.1,751.5L1122.7,742.1L1126.3,742.9L1130,738.4L1133.6,737L1137.2,741L1140.8,741.4L1144.4,736.5L1148.1,739.6L1151.7,740.2L1155.3,737.3L1158.9,740.3L1162.6,740.7L1166.2,740.2L1169.8,737.4L1173.4,743.1L1177,742.3L1180.7,742.3L1184.3,741.7L1187.9,744L1191.5,743.8L1195.1,741.1L1198.8,741.1L1202.4,741.4L1206,735.9L1209.6,738.1L1213.3,733.6L1216.9,734.6L1220.5,738.6L1224.1,739.4L1227.7,740.3L1231.4,741.1L1235,743.6L1238.6,744.1L1242.2,742.6L1245.8,741.8L1249.5,737L1253.1,738L1256.7,731.7L1260.3,731.1L1264,730.2L1267.6,730.9L1271.2,732.7L1274.8,734.3L1278.4,733.4L1282.1,737.3L1285.7,737.3L1289.3,742.1L1292.9,744.7" fill="none" stroke="#E5141E" stroke-width="11.6" stroke-linejoin="round" stroke-linecap="round"/>
</g>
<g clip-path="url(#c20)">
<path d="M287.9,1206.7L289.6,1205.1L291.3,1206L293,1205L294.7,1202.7L296.4,1203.3L298.1,1200.9L299.8,1203.6L301.5,1202.3L303.2,1201.2L304.9,1204.1L306.6,1203.5L308.3,1201.7L310,1205.8L311.7,1208.9L313.4,1205.6L315.1,1206.9L316.8,1204.5L318.5,1204.7L320.2,1205.1L321.9,1199.4L323.6,1199.5L325.3,1196.8L327,1195.8L328.7,1199.2L330.4,1196.2L332.1,1201L333.8,1199L335.5,1195.7L337.2,1196.3L338.9,1193.7L340.6,1194.9L342.3,1191.2L344,1191.6L345.7,1195.3L347.4,1195.8L349.1,1194.3L350.8,1194.5L352.5,1195.9L354.2,1196.4L355.9,1196.9L357.6,1194.3L359.3,1194.8L361,1192.2L362.7,1192.8L364.4,1188L366.1,1190.7L367.8,1188.9L369.5,1191.6L371.2,1194.3L372.9,1196L374.6,1197.4L376.3,1200.6L378,1197.8L379.7,1194.6L381.4,1191.4L383.1,1191L384.8,1192.9L386.5,1187.4L388.2,1191.1L389.9,1189.6L391.6,1187.2L393.3,1187.2L395,1188.4L396.7,1191.7L398.4,1188.5L400.1,1188.1L401.8,1189.7L403.5,1191.3L405.2,1194L406.9,1189.4L408.6,1191.7L410.3,1185.5L412,1188.3L413.7,1187.7L415.4,1190.5L417.1,1187.3L418.8,1185.6L420.5,1189.1L422.2,1183.6L423.9,1189.2L425.6,1189L427.3,1190.2L429,1188.8L430.7,1185.3L432.4,1186.7L434.1,1190.6L435.8,1185.2L437.5,1183.2L439.2,1183.8L440.9,1185.2L442.6,1184.6L444.3,1180.7L446,1180.6L447.7,1181.1L449.4,1180.1L451.1,1177L452.8,1180.5L454.5,1179.2L456.2,1178.2L457.9,1184L459.6,1183.7L461.3,1179.7L463,1179.3L464.7,1173.9L466.4,1177.2L468.1,1182.5L469.8,1175.4L471.5,1178.4L473.2,1178.6L474.9,1174.4L476.6,1178.8L478.3,1176.8L480,1179.4L481.7,1180.1L483.4,1175.9L485.1,1180.6L486.8,1181.2L488.5,1176.6L490.2,1175L491.9,1170L493.6,1168.4L495.3,1164.5L497,1153.6L498.7,1148.6L500.4,1142.7L502.1,1135.5L503.8,1129.3L505.5,1129.3L507.2,1123.5L508.9,1121L510.6,1122.4L512.3,1124.5L514,1124L515.7,1125.1L517.4,1134.2L519.1,1136.1L520.8,1143.3L522.5,1150.2L524.2,1153.3L525.9,1162.4L527.7,1171L529.4,1172.2L531.1,1178L532.8,1182.3L534.5,1187.9L536.2,1191.1L537.9,1189.7L539.6,1192.2L541.3,1192.3L543,1193.1L544.7,1196.6L546.4,1197L548.1,1195.8L549.8,1195.5L551.5,1191.3L553.2,1197.4L554.9,1191.5L556.6,1200L558.3,1192.5L560,1185.8L561.7,1186.3L563.4,1191.7L565.1,1187.3L566.8,1184.9L568.5,1185.2L570.2,1183.1L571.9,1181.6L573.6,1177.6L575.3,1177.2L577,1176.9L578.7,1177.7L580.4,1176.4L582.1,1177L583.8,1175.9L585.5,1173.7L587.2,1174.8L588.9,1175L590.6,1172.4L592.3,1172.9L594,1176.6L595.7,1174.2L597.4,1175.8L599.1,1175.4L600.8,1174L602.5,1176.2L604.2,1170.9L605.9,1171.5L607.6,1174.7L609.3,1173.4L611,1175.4L612.7,1176.4L614.4,1176.3L616.1,1179.2L617.8,1172.6L619.5,1172.8L621.2,1169.3L622.9,1172L624.6,1173.9L624.6,1210.3L622.9,1214.3L621.2,1211.1L619.5,1214L617.8,1212.6L616.1,1209.5L614.4,1215L612.7,1214L611,1216L609.3,1215L607.6,1209.2L605.9,1210.9L604.2,1211.7L602.5,1208.2L600.8,1211.2L599.1,1213.6L597.4,1211.1L595.7,1210.2L594,1212.2L592.3,1209.8L590.6,1215.1L588.9,1211.6L587.2,1211.7L585.5,1213.1L583.8,1210.9L582.1,1211.6L580.4,1210.9L578.7,1213L577,1212.3L575.3,1213L573.6,1213.4L571.9,1221.3L570.2,1217L568.5,1220.2L566.8,1222.5L565.1,1229L563.4,1224.4L561.7,1224.5L560,1229.3L558.3,1230.5L556.6,1229.4L554.9,1234.1L553.2,1230.7L551.5,1237.1L549.8,1233.8L548.1,1232L546.4,1234.9L544.7,1234.3L543,1231.7L541.3,1233.8L539.6,1230.3L537.9,1229.9L536.2,1228.2L534.5,1225.1L532.8,1219.8L531.1,1218.9L529.4,1212.6L527.7,1211.3L525.9,1201.1L524.2,1199.1L522.5,1189.8L520.8,1186L519.1,1176.2L517.4,1174.8L515.7,1171L514,1165.6L512.3,1163.4L510.6,1162.5L508.9,1165.3L507.2,1166.1L505.5,1165.5L503.8,1172.6L502.1,1178.4L500.4,1180.7L498.7,1185.3L497,1192.9L495.3,1195.6L493.6,1203.7L491.9,1205L490.2,1205.8L488.5,1206.1L486.8,1207.5L485.1,1206.3L483.4,1208.6L481.7,1205.4L480,1206L478.3,1207.9L476.6,1209.4L474.9,1206.6L473.2,1210.1L471.5,1204.5L469.8,1208.8L468.1,1206.2L466.4,1202.7L464.7,1205.7L463,1206.7L461.3,1208.9L459.6,1206.9L457.9,1207.9L456.2,1214.3L454.5,1205L452.8,1203.6L451.1,1204.3L449.4,1205.2L447.7,1208L446,1207.4L444.3,1209.6L442.6,1209.4L440.9,1210.4L439.2,1204.8L437.5,1211.4L435.8,1210.1L434.1,1209.3L432.4,1211.2L430.7,1208.5L429,1213.1L427.3,1211.6L425.6,1212.5L423.9,1208.1L422.2,1209.6L420.5,1209.3L418.8,1209.8L417.1,1207.6L415.4,1211.5L413.7,1213L412,1213.3L410.3,1212.3L408.6,1208L406.9,1211.7L405.2,1209.2L403.5,1212.8L401.8,1209.8L400.1,1206.4L398.4,1208.2L396.7,1208.6L395,1212.5L393.3,1205.6L391.6,1208.5L389.9,1203.3L388.2,1207.3L386.5,1206.6L384.8,1210.7L383.1,1211.3L381.4,1211.9L379.7,1211.8L378,1214L376.3,1213.9L374.6,1212.1L372.9,1209.2L371.2,1210.9L369.5,1208L367.8,1208.9L366.1,1208.5L364.4,1206.6L362.7,1208.8L361,1211.6L359.3,1205.9L357.6,1210.9L355.9,1207.7L354.2,1209.2L352.5,1211.4L350.8,1209L349.1,1208.8L347.4,1213L345.7,1207.3L344,1210.9L342.3,1206.1L340.6,1211.5L338.9,1209L337.2,1211.2L335.5,1208.3L333.8,1213L332.1,1209.5L330.4,1209.8L328.7,1212.2L327,1214.1L325.3,1214.6L323.6,1214.1L321.9,1214.8L320.2,1213.9L318.5,1217.2L316.8,1217L315.1,1216.3L313.4,1217.2L311.7,1216L310,1223.1L308.3,1218.1L306.6,1219.2L304.9,1215.7L303.2,1216.6L301.5,1217L299.8,1216.1L298.1,1215.9L296.4,1216.8L294.7,1214.1L293,1216.1L291.3,1214.5L289.6,1218.1L287.9,1211.6Z" fill="#9E9E9E"/>
<path d="M287.9,1215.6L291.5,1210.3L295.1,1208L298.7,1204.2L302.4,1208.9L306,1208.9L309.6,1209.6L313.2,1212.2L316.8,1213.2L320.5,1207.9L324.1,1205.3L327.7,1204.5L331.3,1205.4L334.9,1204.2L338.6,1200.1L342.2,1199.6L345.8,1203.2L349.4,1205.1L353,1202L356.7,1200.1L360.3,1202.1L363.9,1199.1L367.5,1200L371.1,1203.1L374.8,1204.5L378.4,1204.5L382,1202.6L385.6,1197.6L389.3,1197.4L392.9,1195.8L396.5,1196L400.1,1197L403.7,1198.9L407.4,1199.5L411,1201.1L414.6,1200.8L418.2,1200L421.8,1200.9L425.5,1196.2L429.1,1200.7L432.7,1197.7L436.3,1194.9L439.9,1195.4L443.6,1194.4L447.2,1194.6L450.8,1191.5L454.4,1194.3L458,1194.8L461.7,1190.9L465.3,1190.8L468.9,1192.9L472.5,1193L476.1,1193.7L479.8,1193.3L483.4,1193.7L487,1193.4L490.6,1192.5L494.2,1183.3L497.9,1169.9L501.5,1158.4L505.1,1145.9L508.7,1144.2L512.3,1142.2L516,1149L519.6,1163.3L523.2,1172.3L526.8,1185.7L530.4,1199.9L534.1,1203.4L537.7,1209.9L541.3,1214L544.9,1215.3L548.6,1216.2L552.2,1215.1L555.8,1215.8L559.4,1212.9L563,1209.8L566.7,1204.6L570.3,1199.5L573.9,1192.5L577.5,1195.7L581.1,1191L584.8,1195L588.4,1196.6L592,1191.9L595.6,1192L599.2,1191.7L602.9,1193.3L606.5,1191.8L610.1,1194.2L613.7,1194.1L617.3,1193.1L621,1194L624.6,1188.7" fill="none" stroke="#000" stroke-width="11.6" stroke-linejoin="round" stroke-linecap="round"/>
</g>
<g clip-path="url(#c21)">
<path d="M642.1,1188.4L643.8,1191.8L645.5,1187.3L647.2,1180.7L648.9,1182.2L650.7,1176.6L652.4,1176L654.1,1174.9L655.8,1178.4L657.5,1178.3L659.2,1176.4L660.9,1172.8L662.7,1170.7L664.4,1169.4L666.1,1168.7L667.8,1164.5L669.5,1170.3L671.2,1163.8L672.9,1163.4L674.7,1165.1L676.4,1162L678.1,1164.4L679.8,1157L681.5,1157.1L683.2,1155.8L684.9,1155.6L686.7,1156.9L688.4,1152.8L690.1,1150.3L691.8,1143.3L693.5,1146.6L695.2,1138.1L696.9,1138.9L698.7,1139.7L700.4,1143.2L702.1,1145.7L703.8,1150.7L705.5,1150.6L707.2,1149.5L708.9,1153.7L710.7,1153.4L712.4,1160.5L714.1,1161.1L715.8,1163.5L717.5,1164.2L719.2,1166.3L720.9,1168.9L722.7,1173.4L724.4,1171.8L726.1,1177.9L727.8,1177.4L729.5,1183.1L731.2,1182.6L733,1187L734.7,1190.8L736.4,1195.3L738.1,1192L739.8,1194.1L741.5,1193.6L743.2,1197L745,1193.7L746.7,1200.1L748.4,1199.5L750.1,1195.7L751.8,1194.1L753.5,1192L755.2,1192.5L757,1188.5L758.7,1187.4L760.4,1184.3L762.1,1183.1L763.8,1184.5L765.5,1182.4L767.2,1183.4L769,1180.3L770.7,1175.9L772.4,1180.7L774.1,1173.1L775.8,1171.1L777.5,1170.9L779.2,1170.7L781,1169.1L782.7,1169.1L784.4,1171.8L786.1,1164.7L787.8,1165.7L789.5,1170.7L791.2,1162.6L793,1163.8L794.7,1166.1L796.4,1165.2L798.1,1165.6L799.8,1162.2L801.5,1165.6L803.2,1162.8L805,1163.5L806.7,1167.6L808.4,1166.4L810.1,1166.2L811.8,1172.1L813.5,1167.8L815.2,1171.1L817,1172.5L818.7,1175.7L820.4,1178.9L822.1,1178.5L823.8,1178.7L825.5,1181.2L827.2,1181.8L829,1184.4L829,1216.8L827.2,1218.7L825.5,1217.8L823.8,1215.2L822.1,1210.6L820.4,1208.4L818.7,1211L817,1206.1L815.2,1208.8L813.5,1206.6L811.8,1202.3L810.1,1202.5L808.4,1202.7L806.7,1203L805,1203.6L803.2,1199.8L801.5,1200.9L799.8,1199.7L798.1,1200.7L796.4,1199L794.7,1197.2L793,1202.8L791.2,1200.2L789.5,1203.6L787.8,1202.2L786.1,1202.5L784.4,1202L782.7,1205L781,1207.9L779.2,1207.9L777.5,1209.1L775.8,1212.3L774.1,1213.7L772.4,1213.4L770.7,1213.8L769,1212.6L767.2,1218.2L765.5,1215.8L763.8,1215.1L762.1,1218.2L760.4,1224.2L758.7,1220.3L757,1225.2L755.2,1221.1L753.5,1224.9L751.8,1227.9L750.1,1226.1L748.4,1229.5L746.7,1234L745,1230.7L743.2,1230.1L741.5,1229.5L739.8,1232.7L738.1,1228.7L736.4,1226.8L734.7,1228.4L733,1225.9L731.2,1217.4L729.5,1216L727.8,1213.6L726.1,1209.5L724.4,1212L722.7,1208.9L720.9,1201.4L719.2,1203.2L717.5,1201.1L715.8,1194.2L714.1,1195.6L712.4,1196.1L710.7,1191.3L708.9,1191.8L707.2,1188.3L705.5,1187.3L703.8,1187.7L702.1,1183.6L700.4,1178.5L698.7,1176.8L696.9,1172.8L695.2,1176.2L693.5,1178.2L691.8,1179.6L690.1,1188L688.4,1188.3L686.7,1189L684.9,1190.3L683.2,1194.1L681.5,1195.7L679.8,1201.2L678.1,1198.5L676.4,1197.4L674.7,1197.1L672.9,1203L671.2,1201.7L669.5,1205.4L667.8,1203.6L666.1,1204.2L664.4,1208.8L662.7,1210L660.9,1209L659.2,1212.6L657.5,1214.8L655.8,1213.4L654.1,1218.5L652.4,1212.5L650.7,1214.7L648.9,1220.1L647.2,1219.1L645.5,1223.1L643.8,1222.6L642.1,1223.8Z" fill="#8E94CE"/>
<path d="M642.1,1207.8L645.8,1202.3L649.4,1200.1L653.1,1194.2L656.7,1195.7L660.4,1189.6L664.1,1189.3L667.7,1186.4L671.4,1182.5L675.1,1185.7L678.7,1177.4L682.4,1176.3L686.1,1174.6L689.7,1165.9L693.4,1163.3L697,1157.7L700.7,1164.1L704.4,1165.5L708,1169.8L711.7,1177.6L715.4,1180.1L719,1183.8L722.7,1190.1L726.4,1195.7L730,1199.1L733.7,1203.6L737.4,1207.8L741,1210.1L744.7,1211.9L748.3,1212.1L752,1209.8L755.7,1207.9L759.3,1204.6L763,1200L766.7,1197.1L770.3,1195.2L774,1191L777.7,1189.2L781.3,1188.1L785,1184.6L788.7,1182.6L792.3,1182.9L796,1184.7L799.6,1182.6L803.3,1181.9L807,1183.4L810.6,1185.9L814.3,1191.5L818,1186.5L821.6,1196.8L825.3,1199.9L829,1203.4" fill="none" stroke="#1F2A8E" stroke-width="11.6" stroke-linejoin="round" stroke-linecap="round"/>
<path d="M642.1,1168.7L643.8,1168.5L645.5,1165.9L647.2,1161.5L648.9,1166.1L650.7,1161.8L652.4,1168L654.1,1166.8L655.8,1169.1L657.5,1169L659.2,1170L660.9,1167.1L662.7,1163.8L664.4,1165.7L666.1,1168.3L667.8,1163.8L669.5,1164.6L671.2,1164.1L672.9,1162.2L674.7,1160.8L676.4,1158.3L678.1,1154.9L679.8,1154.9L681.5,1155.9L683.2,1154.9L684.9,1157.6L686.7,1158.9L688.4,1161.3L690.1,1161.6L691.8,1164.1L693.5,1163.8L695.2,1158.7L696.9,1155.3L698.7,1153.3L700.4,1144.2L702.1,1140.5L703.8,1138.7L705.5,1136.1L707.2,1125.8L708.9,1120.9L710.7,1118.4L712.4,1113.2L714.1,1110.3L715.8,1115.1L717.5,1120.8L719.2,1127.1L720.9,1129.9L722.7,1142.2L724.4,1152.4L726.1,1159.5L727.8,1168.5L729.5,1180.4L731.2,1187.1L733,1194L734.7,1201.4L736.4,1203.6L738.1,1201.3L739.8,1203.5L741.5,1206.5L743.2,1209.3L745,1208.9L746.7,1209.2L748.4,1204.4L750.1,1200.6L751.8,1196.5L753.5,1199.4L755.2,1189L757,1186.2L758.7,1181.1L760.4,1176.9L762.1,1172.3L763.8,1170.4L765.5,1164.7L767.2,1160.5L769,1159.2L770.7,1152.5L772.4,1153.3L774.1,1151.4L775.8,1154.5L777.5,1154.4L779.2,1156.1L781,1160.7L782.7,1155.7L784.4,1161.6L786.1,1163.1L787.8,1162.9L789.5,1165.4L791.2,1166.5L793,1162.9L794.7,1162.5L796.4,1162.4L798.1,1164.4L799.8,1161L801.5,1165.7L803.2,1163.5L805,1160.5L806.7,1161.9L808.4,1159.5L810.1,1158.4L811.8,1157.8L813.5,1150.9L815.2,1148.2L817,1147.9L818.7,1143.4L820.4,1148.7L822.1,1153.1L823.8,1154.3L825.5,1155.6L827.2,1155.8L829,1155.5L829,1199.5L827.2,1198.2L825.5,1196L823.8,1196.4L822.1,1190.9L820.4,1190.8L818.7,1190L817,1189.8L815.2,1189.5L813.5,1192.7L811.8,1196.5L810.1,1197.8L808.4,1198.3L806.7,1203.7L805,1203.5L803.2,1203.2L801.5,1204.8L799.8,1202L798.1,1206.2L796.4,1204.1L794.7,1206.2L793,1207L791.2,1210.8L789.5,1206.6L787.8,1206.5L786.1,1204.3L784.4,1202.5L782.7,1199.1L781,1199.9L779.2,1197.3L777.5,1194.6L775.8,1198L774.1,1196.6L772.4,1196.2L770.7,1196.2L769,1198.5L767.2,1200.2L765.5,1211.7L763.8,1213.1L762.1,1213.8L760.4,1218L758.7,1224.6L757,1232.4L755.2,1231L753.5,1237.8L751.8,1241.7L750.1,1249.2L748.4,1245.1L746.7,1249L745,1250.2L743.2,1256.3L741.5,1252.5L739.8,1250.5L738.1,1250.4L736.4,1245.7L734.7,1244.1L733,1236.7L731.2,1232.1L729.5,1223.2L727.8,1220L726.1,1204.6L724.4,1195.3L722.7,1189.4L720.9,1177.1L719.2,1171.4L717.5,1163.2L715.8,1162.8L714.1,1159L712.4,1162.3L710.7,1165.3L708.9,1166.5L707.2,1173.1L705.5,1179.6L703.8,1186.7L702.1,1189.7L700.4,1193.9L698.7,1197.8L696.9,1202.2L695.2,1203.5L693.5,1202.9L691.8,1204.3L690.1,1206.8L688.4,1201.7L686.7,1201.1L684.9,1199L683.2,1199L681.5,1198.4L679.8,1203.4L678.1,1195.9L676.4,1200.3L674.7,1201.9L672.9,1202.3L671.2,1204.9L669.5,1205.7L667.8,1208.2L666.1,1201.9L664.4,1210.2L662.7,1210.3L660.9,1207.3L659.2,1211.8L657.5,1209.5L655.8,1205.8L654.1,1202.7L652.4,1204.1L650.7,1205.2L648.9,1208L647.2,1205.7L645.5,1209.3L643.8,1207.5L642.1,1208.7Z" fill="#F19C94"/>
<path d="M642.1,1185.7L645.8,1187.3L649.4,1185.3L653.1,1186.8L656.7,1189.4L660.4,1189.3L664.1,1189L667.7,1186.4L671.4,1185.4L675.1,1178.9L678.7,1176.9L682.4,1176L686.1,1181.9L689.7,1182.8L693.4,1182.5L697,1179.3L700.7,1171L704.4,1165.1L708,1147.9L711.7,1138.3L715.4,1135.5L719,1148.7L722.7,1166.6L726.4,1182.9L730,1203.4L733.7,1218.6L737.4,1223.6L741,1231.3L744.7,1232.9L748.3,1225.9L752,1220.1L755.7,1213.2L759.3,1200L763,1191.1L766.7,1183L770.3,1177.7L774,1175.3L777.7,1174.1L781.3,1177.8L785,1183.2L788.7,1186.3L792.3,1187.2L796,1183.4L799.6,1182.9L803.3,1186.5L807,1181.4L810.6,1175.4L814.3,1172.7L818,1168.3L821.6,1172.9L825.3,1176.7L829,1177.9" fill="none" stroke="#E5141E" stroke-width="11.6" stroke-linejoin="round" stroke-linecap="round"/>
</g>
<g clip-path="url(#c22)">
<path d="M847.5,1171.9L849.2,1177.6L850.9,1175.5L852.6,1179.3L854.3,1177.7L856,1178.4L857.7,1179.6L859.4,1178.3L861.1,1174.8L862.8,1168.6L864.5,1171.9L866.2,1173.9L867.9,1174.2L869.6,1178.2L871.3,1180.8L873,1180.3L874.7,1188.3L876.4,1188.5L878.1,1192.1L879.8,1198L881.5,1198.9L883.2,1204.6L884.9,1205.7L886.6,1210L888.3,1211.9L890,1213.5L891.7,1214.6L893.4,1218L895.1,1219.9L896.8,1222.2L898.5,1218.7L900.2,1219L901.9,1222.5L903.6,1217.7L905.3,1216.8L907,1215.4L908.7,1209.4L910.4,1210.9L912.1,1205.4L913.8,1210.1L915.5,1210.6L917.2,1205.7L918.9,1211.2L920.6,1206.4L922.3,1207.5L924,1212.4L925.7,1210.5L927.4,1211.8L929.1,1215.2L930.8,1210.7L932.5,1212L934.2,1212.1L935.9,1213L937.6,1213.5L939.3,1211.5L941,1208.9L942.7,1213.2L944.4,1216.9L946.1,1212.4L947.8,1212L949.5,1210.3L951.2,1211L952.9,1209L954.6,1213.7L956.3,1212.5L958,1215.9L959.7,1211.1L961.4,1215.7L963.1,1211.3L964.8,1209.5L966.5,1208.6L968.2,1207.2L969.9,1203.2L971.6,1208.2L973.3,1208L975,1208.6L976.7,1207L978.4,1206.4L980.1,1201.1L981.8,1204.6L983.5,1202L985.2,1204.6L986.9,1209.7L988.6,1208.5L990.3,1204.7L992,1209.8L993.7,1211.7L995.4,1212.7L997.1,1214.7L998.8,1213.9L1000.5,1213.3L1002.2,1211.5L1003.9,1209.3L1005.6,1207.6L1007.3,1207L1009,1205.8L1010.7,1204.8L1012.4,1199.5L1014.1,1198.6L1015.8,1200.7L1017.5,1195.8L1019.2,1200.4L1020.9,1197.6L1022.6,1203.1L1024.3,1203.7L1026,1205.5L1027.7,1207L1029.4,1207.3L1031.1,1205L1032.8,1209.8L1034.5,1210.9L1036.2,1209L1037.9,1205.5L1039.6,1203.8L1041.3,1202L1043,1196.8L1044.7,1198.9L1046.4,1197.8L1048.1,1196.1L1049.8,1197.5L1051.5,1198.2L1053.2,1193.4L1054.9,1198.4L1056.6,1197.4L1058.3,1197.4L1060,1197.4L1061.7,1196.8L1063.4,1195.2L1065.1,1193.3L1066.8,1195.3L1068.5,1193.6L1070.2,1191.1L1071.9,1195.4L1073.6,1192.7L1075.3,1189.9L1077,1187.3L1078.7,1189.1L1080.4,1192.2L1082.1,1190.9L1083.8,1188.8L1085.5,1191.8L1087.2,1190L1088.9,1188.4L1090.6,1185.5L1092.3,1187.7L1094,1183.6L1095.7,1184.6L1097.4,1186.8L1099.1,1186.4L1100.8,1183L1102.5,1176.2L1104.2,1184L1105.9,1180.7L1107.6,1180.6L1109.3,1186.2L1111,1181.9L1112.7,1188.4L1114.4,1189.7L1116.1,1189.3L1117.8,1188.7L1119.5,1187.9L1121.2,1186.9L1122.9,1185.5L1124.6,1192.6L1126.3,1186.5L1128,1185.4L1129.7,1187L1131.4,1188.3L1133.1,1189.2L1134.8,1186.1L1136.5,1185.4L1138.2,1182.9L1139.9,1182.7L1141.6,1183.7L1143.3,1181L1145,1180.6L1146.7,1182.8L1148.4,1182.2L1150.1,1180.7L1151.8,1185.3L1153.5,1181L1155.2,1187.3L1156.9,1189.3L1158.6,1191.1L1160.3,1190.7L1162,1189.9L1163.7,1187.5L1165.4,1186.9L1167.1,1188.2L1168.8,1186.2L1170.5,1185.5L1172.2,1187L1173.9,1184.6L1175.6,1182L1177.3,1184.8L1179,1182.7L1180.7,1185.2L1182.4,1186.4L1184.1,1185.1L1185.8,1184.4L1187.5,1186.4L1189.2,1181.4L1190.9,1182.3L1192.6,1183.9L1194.3,1182.7L1196,1183.8L1197.7,1182.7L1199.4,1183L1201.1,1182.6L1202.8,1184.8L1204.5,1182.5L1206.2,1179.6L1207.9,1181.5L1209.6,1179.9L1211.3,1183.7L1213,1180.8L1214.7,1182.2L1216.4,1179.2L1218.1,1180.3L1219.8,1179.4L1221.5,1178.5L1223.2,1173.5L1224.9,1177.7L1226.6,1180.6L1228.3,1178.2L1230,1181.1L1231.7,1178.1L1233.4,1178.8L1235.1,1181L1236.8,1176.7L1238.5,1183.3L1240.2,1179.4L1241.9,1182.7L1243.6,1178.5L1245.3,1181L1247,1178L1248.7,1175L1250.4,1176.8L1252.1,1176.9L1253.8,1177.6L1255.5,1174.3L1257.2,1176.5L1258.9,1174.3L1260.6,1170.1L1262.3,1176L1264,1176.1L1265.7,1173.5L1267.4,1174.4L1269.1,1174.2L1270.8,1176.7L1272.5,1175.1L1274.2,1178.4L1275.9,1176.5L1277.6,1174L1279.3,1178.2L1281,1177.8L1282.7,1172.9L1284.4,1177.2L1286.1,1177.9L1287.8,1176.6L1289.5,1175.8L1291.2,1179.3L1292.9,1175.4L1292.9,1203L1291.2,1196.4L1289.5,1201.2L1287.8,1205.7L1286.1,1200.6L1284.4,1198.4L1282.7,1205.2L1281,1202.1L1279.3,1200.3L1277.6,1200.8L1275.9,1203.4L1274.2,1201.2L1272.5,1199.2L1270.8,1199.1L1269.1,1202.1L1267.4,1195.6L1265.7,1199.3L1264,1199.9L1262.3,1199.9L1260.6,1197.3L1258.9,1197.1L1257.2,1201.5L1255.5,1199.2L1253.8,1199.4L1252.1,1195.9L1250.4,1203.2L1248.7,1204.2L1247,1201.1L1245.3,1203.1L1243.6,1201.3L1241.9,1202.3L1240.2,1203L1238.5,1201.1L1236.8,1201.2L1235.1,1205.2L1233.4,1202.7L1231.7,1201.3L1230,1199.2L1228.3,1201.1L1226.6,1202L1224.9,1201.7L1223.2,1208L1221.5,1199.5L1219.8,1204.9L1218.1,1204.5L1216.4,1202.2L1214.7,1204L1213,1201.9L1211.3,1205.1L1209.6,1201.8L1207.9,1206.3L1206.2,1205.1L1204.5,1207.6L1202.8,1206.1L1201.1,1207.7L1199.4,1203.4L1197.7,1210L1196,1209.8L1194.3,1207.3L1192.6,1206.2L1190.9,1208.3L1189.2,1205.2L1187.5,1208.3L1185.8,1210.4L1184.1,1205.8L1182.4,1209.4L1180.7,1207.3L1179,1209.6L1177.3,1207.8L1175.6,1213.7L1173.9,1212.4L1172.2,1211.6L1170.5,1214.8L1168.8,1212.5L1167.1,1213.7L1165.4,1211.5L1163.7,1211.8L1162,1212.9L1160.3,1215.7L1158.6,1210.3L1156.9,1212.9L1155.2,1211L1153.5,1209.7L1151.8,1207.1L1150.1,1207.9L1148.4,1207.4L1146.7,1207.2L1145,1209.1L1143.3,1204.5L1141.6,1204L1139.9,1207.3L1138.2,1204.6L1136.5,1210L1134.8,1210L1133.1,1206.4L1131.4,1212.7L1129.7,1211.1L1128,1207.9L1126.3,1215.1L1124.6,1207.8L1122.9,1212.9L1121.2,1210.4L1119.5,1211.7L1117.8,1211.4L1116.1,1214.1L1114.4,1209.9L1112.7,1214.1L1111,1206.9L1109.3,1207.6L1107.6,1207.7L1105.9,1207.2L1104.2,1205.6L1102.5,1211.1L1100.8,1206.1L1099.1,1207.8L1097.4,1209.5L1095.7,1207.3L1094,1208.7L1092.3,1214.9L1090.6,1210.7L1088.9,1214.4L1087.2,1212.6L1085.5,1211.8L1083.8,1216L1082.1,1216.6L1080.4,1215L1078.7,1211.3L1077,1213.9L1075.3,1211.6L1073.6,1216.5L1071.9,1217.9L1070.2,1213.6L1068.5,1213.8L1066.8,1219.4L1065.1,1220.3L1063.4,1218.7L1061.7,1220.8L1060,1215.9L1058.3,1218.4L1056.6,1216.6L1054.9,1216L1053.2,1223.4L1051.5,1216.1L1049.8,1219.4L1048.1,1215.8L1046.4,1221.7L1044.7,1224.4L1043,1219.9L1041.3,1224L1039.6,1224.5L1037.9,1228.4L1036.2,1231.7L1034.5,1229.9L1032.8,1230.8L1031.1,1231.4L1029.4,1229.1L1027.7,1227.6L1026,1224.7L1024.3,1223.8L1022.6,1223.4L1020.9,1216.5L1019.2,1219.8L1017.5,1218.1L1015.8,1215.9L1014.1,1221.1L1012.4,1222.9L1010.7,1225L1009,1227.4L1007.3,1233.5L1005.6,1231.1L1003.9,1237.5L1002.2,1235.4L1000.5,1231.6L998.8,1233.2L997.1,1235.1L995.4,1236.8L993.7,1236.7L992,1236.3L990.3,1235.4L988.6,1233.9L986.9,1227L985.2,1230.2L983.5,1229.4L981.8,1225.5L980.1,1229.4L978.4,1225.9L976.7,1230.6L975,1228.3L973.3,1234.2L971.6,1229L969.9,1230.4L968.2,1232.9L966.5,1229.4L964.8,1231.4L963.1,1237.7L961.4,1238L959.7,1238.2L958,1234.6L956.3,1232.9L954.6,1236L952.9,1236L951.2,1235.1L949.5,1232.8L947.8,1232.5L946.1,1234.1L944.4,1237L942.7,1232.9L941,1236L939.3,1235.5L937.6,1233.8L935.9,1233.9L934.2,1235.1L932.5,1234.2L930.8,1240.2L929.1,1234.1L927.4,1238.4L925.7,1235.2L924,1232.8L922.3,1238.2L920.6,1233.2L918.9,1233.4L917.2,1231.6L915.5,1232.3L913.8,1232.3L912.1,1233.8L910.4,1235L908.7,1242.8L907,1241.1L905.3,1245.1L903.6,1246.5L901.9,1244.5L900.2,1244.3L898.5,1249L896.8,1249.3L895.1,1248.1L893.4,1250.3L891.7,1247.4L890,1246.2L888.3,1243.1L886.6,1238.9L884.9,1237.6L883.2,1238.3L881.5,1235.3L879.8,1226.4L878.1,1224.6L876.4,1224.7L874.7,1218.6L873,1216.8L871.3,1215.9L869.6,1213.6L867.9,1208L866.2,1208.9L864.5,1207.3L862.8,1210.5L861.1,1211.5L859.4,1211.6L857.7,1216.2L856,1217.8L854.3,1218.7L852.6,1215L850.9,1216.8L849.2,1214L847.5,1208.9Z" fill="#8E94CE"/>
<path d="M847.5,1194.4L851.1,1194.9L854.7,1198L858.3,1196.1L862,1189.4L865.6,1189.2L869.2,1191.5L872.8,1200.3L876.4,1205.2L880.1,1215.1L883.7,1220.3L887.3,1226.7L890.9,1228.6L894.6,1235L898.2,1234.1L901.8,1233L905.4,1230.9L909,1227.6L912.7,1222.3L916.3,1216L919.9,1219.3L923.5,1224.9L927.1,1227.1L930.8,1227L934.4,1223.4L938,1222.1L941.6,1224.5L945.3,1223.9L948.9,1222.8L952.5,1223.6L956.1,1222.4L959.7,1225.1L963.4,1225.6L967,1219.6L970.6,1218L974.2,1217.7L977.9,1216.5L981.5,1213.2L985.1,1215.9L988.7,1219.5L992.3,1223.5L996,1224.3L999.6,1223.7L1003.2,1220.9L1006.8,1221.2L1010.4,1213.2L1014.1,1211.2L1017.7,1212.3L1021.3,1211.4L1024.9,1210.9L1028.6,1213L1032.2,1217.6L1035.8,1219.8L1039.4,1215.7L1043,1209.4L1046.7,1207.6L1050.3,1212.1L1053.9,1207.6L1057.5,1205.1L1061.1,1208L1064.8,1205.4L1068.4,1201.3L1072,1203.6L1075.6,1200.9L1079.3,1202.8L1082.9,1206.2L1086.5,1202.7L1090.1,1198.7L1093.7,1200.3L1097.4,1192.7L1101,1193L1104.6,1195.9L1108.2,1198.1L1111.9,1197.6L1115.5,1199.1L1119.1,1200.3L1122.7,1200L1126.3,1199.4L1130,1198.1L1133.6,1196.5L1137.2,1195.9L1140.8,1193.5L1144.4,1191.6L1148.1,1194.1L1151.7,1197.9L1155.3,1196.7L1158.9,1202.2L1162.6,1204L1166.2,1199.6L1169.8,1197.2L1173.4,1198.7L1177,1197.8L1180.7,1195.6L1184.3,1196.8L1187.9,1194.3L1191.5,1193.5L1195.1,1197.7L1198.8,1194.5L1202.4,1194.6L1206,1190.5L1209.6,1192.3L1213.3,1190.7L1216.9,1190.5L1220.5,1190.4L1224.1,1189.2L1227.7,1188L1231.4,1192.5L1235,1192L1238.6,1192.5L1242.2,1191.7L1245.8,1191.1L1249.5,1187.5L1253.1,1186.1L1256.7,1186.3L1260.3,1185L1264,1185.7L1267.6,1181.2L1271.2,1186.8L1274.8,1187.1L1278.4,1190.2L1282.1,1187.5L1285.7,1187.6L1289.3,1188.5L1292.9,1189.1" fill="none" stroke="#1F2A8E" stroke-width="11.6" stroke-linejoin="round" stroke-linecap="round"/>
<path d="M847.5,1170.9L849.2,1164L850.9,1166.4L852.6,1166.2L854.3,1161.5L856,1161.8L857.7,1162.6L859.4,1161.4L861.1,1164.2L862.8,1161.8L864.5,1160L866.2,1164.6L867.9,1170.4L869.6,1166.3L871.3,1175.1L873,1173.4L874.7,1185.3L876.4,1188L878.1,1190.2L879.8,1194.1L881.5,1196.3L883.2,1203.1L884.9,1208.9L886.6,1212.9L888.3,1218.7L890,1219.4L891.7,1222.8L893.4,1226.1L895.1,1225.4L896.8,1224.5L898.5,1224.1L900.2,1226.7L901.9,1221.5L903.6,1223.6L905.3,1222.8L907,1215L908.7,1218.8L910.4,1212.9L912.1,1208.4L913.8,1203.8L915.5,1204.8L917.2,1198.9L918.9,1199L920.6,1188.2L922.3,1192.7L924,1188.9L925.7,1194.2L927.4,1191.5L929.1,1193.8L930.8,1192.4L932.5,1191.6L934.2,1199.6L935.9,1194.9L937.6,1199.9L939.3,1199.2L941,1199L942.7,1203.4L944.4,1204L946.1,1204.5L947.8,1207L949.5,1211.1L951.2,1213.2L952.9,1211L954.6,1212.4L956.3,1213.8L958,1214.4L959.7,1217.2L961.4,1215L963.1,1214L964.8,1210.2L966.5,1214.7L968.2,1211.1L969.9,1209.8L971.6,1206.1L973.3,1207.3L975,1200.1L976.7,1200.5L978.4,1198.6L980.1,1197.6L981.8,1196.3L983.5,1193.5L985.2,1194.8L986.9,1202.1L988.6,1204.1L990.3,1202.9L992,1205.7L993.7,1205.9L995.4,1205.9L997.1,1211.6L998.8,1213.3L1000.5,1216.4L1002.2,1214.6L1003.9,1218.6L1005.6,1218L1007.3,1213.3L1009,1215.8L1010.7,1211.9L1012.4,1211L1014.1,1208.9L1015.8,1207L1017.5,1209.5L1019.2,1207.4L1020.9,1201.7L1022.6,1205.5L1024.3,1200.8L1026,1203.7L1027.7,1201.9L1029.4,1205.2L1031.1,1201.9L1032.8,1200.8L1034.5,1206L1036.2,1206.6L1037.9,1204.8L1039.6,1209.2L1041.3,1208.6L1043,1205.3L1044.7,1205.9L1046.4,1206.9L1048.1,1209.9L1049.8,1210.4L1051.5,1207.9L1053.2,1207.1L1054.9,1204.7L1056.6,1209.1L1058.3,1203.5L1060,1209.3L1061.7,1203.3L1063.4,1202.5L1065.1,1201L1066.8,1204.8L1068.5,1198.7L1070.2,1201.1L1071.9,1201.3L1073.6,1200.9L1075.3,1204.5L1077,1201.9L1078.7,1204.8L1080.4,1204.9L1082.1,1209.7L1083.8,1210L1085.5,1211.9L1087.2,1208.8L1088.9,1213.3L1090.6,1215.6L1092.3,1214.8L1094,1219L1095.7,1220.7L1097.4,1214L1099.1,1216.7L1100.8,1215.6L1102.5,1213.9L1104.2,1213.9L1105.9,1214.2L1107.6,1211.1L1109.3,1212.6L1111,1209.6L1112.7,1206.3L1114.4,1209.8L1116.1,1208.8L1117.8,1206.1L1119.5,1202.7L1121.2,1206L1122.9,1202.6L1124.6,1203.5L1126.3,1201.1L1128,1206.5L1129.7,1204.1L1131.4,1205.6L1133.1,1205.1L1134.8,1205.7L1136.5,1209.9L1138.2,1204.4L1139.9,1208L1141.6,1206.4L1143.3,1207.3L1145,1210.4L1146.7,1210.6L1148.4,1210.9L1150.1,1209.8L1151.8,1212.9L1153.5,1214.1L1155.2,1214.6L1156.9,1211.2L1158.6,1209.1L1160.3,1207.2L1162,1207.1L1163.7,1210.4L1165.4,1209.3L1167.1,1216.8L1168.8,1211.9L1170.5,1207.6L1172.2,1207.8L1173.9,1209.6L1175.6,1205.5L1177.3,1209.6L1179,1208.1L1180.7,1203.9L1182.4,1204L1184.1,1202.4L1185.8,1206L1187.5,1204.7L1189.2,1202.3L1190.9,1203.7L1192.6,1197L1194.3,1201.2L1196,1198.5L1197.7,1200.2L1199.4,1204.2L1201.1,1198.1L1202.8,1201.7L1204.5,1197.8L1206.2,1198.1L1207.9,1196.1L1209.6,1200.5L1211.3,1194.8L1213,1196.2L1214.7,1195.8L1216.4,1195.3L1218.1,1196.1L1219.8,1194.8L1221.5,1192.4L1223.2,1194.7L1224.9,1194.6L1226.6,1192.9L1228.3,1195.5L1230,1193.7L1231.7,1196L1233.4,1200.8L1235.1,1201.2L1236.8,1202.8L1238.5,1201L1240.2,1205.4L1241.9,1197.8L1243.6,1201.5L1245.3,1198L1247,1197L1248.7,1201.6L1250.4,1194.5L1252.1,1195.7L1253.8,1194.8L1255.5,1193.8L1257.2,1190.8L1258.9,1196.9L1260.6,1191.5L1262.3,1192.1L1264,1191.8L1265.7,1190.5L1267.4,1192L1269.1,1198.4L1270.8,1198.1L1272.5,1198.4L1274.2,1200.7L1275.9,1201.2L1277.6,1202.4L1279.3,1201.8L1281,1195.2L1282.7,1198.7L1284.4,1198.1L1286.1,1195.5L1287.8,1195.2L1289.5,1195.2L1291.2,1190.4L1292.9,1193.9L1292.9,1213.4L1291.2,1211.6L1289.5,1213.3L1287.8,1218.3L1286.1,1216.4L1284.4,1216.7L1282.7,1222.9L1281,1218.4L1279.3,1215.8L1277.6,1224.6L1275.9,1221.1L1274.2,1224.6L1272.5,1224.1L1270.8,1216.8L1269.1,1218.9L1267.4,1215.2L1265.7,1216.6L1264,1213.7L1262.3,1214.2L1260.6,1213L1258.9,1214.1L1257.2,1217.4L1255.5,1215.3L1253.8,1216.5L1252.1,1217.3L1250.4,1215.7L1248.7,1220L1247,1215.3L1245.3,1220.3L1243.6,1222.8L1241.9,1220.3L1240.2,1222.2L1238.5,1226.6L1236.8,1224.3L1235.1,1228.1L1233.4,1220.1L1231.7,1221.2L1230,1220.6L1228.3,1220.1L1226.6,1222.1L1224.9,1213L1223.2,1217.9L1221.5,1215.3L1219.8,1219.7L1218.1,1219.4L1216.4,1216.2L1214.7,1216.7L1213,1221L1211.3,1213.7L1209.6,1217.9L1207.9,1218.8L1206.2,1221.2L1204.5,1219.7L1202.8,1220.9L1201.1,1222.1L1199.4,1220.8L1197.7,1222.6L1196,1220.8L1194.3,1219.3L1192.6,1221.2L1190.9,1222.9L1189.2,1220.9L1187.5,1222.4L1185.8,1226.7L1184.1,1227.7L1182.4,1230.3L1180.7,1227.3L1179,1229.5L1177.3,1235.7L1175.6,1231L1173.9,1233.7L1172.2,1235L1170.5,1236.2L1168.8,1236.4L1167.1,1235.1L1165.4,1231.5L1163.7,1235.6L1162,1235.4L1160.3,1232.8L1158.6,1232.2L1156.9,1232.1L1155.2,1233L1153.5,1232.5L1151.8,1232.9L1150.1,1236.3L1148.4,1233.1L1146.7,1232.3L1145,1231.6L1143.3,1235.5L1141.6,1233L1139.9,1231.5L1138.2,1230.5L1136.5,1232L1134.8,1229.2L1133.1,1220.8L1131.4,1221.7L1129.7,1222L1128,1224.8L1126.3,1224.6L1124.6,1224.8L1122.9,1226.1L1121.2,1229.6L1119.5,1225L1117.8,1227.5L1116.1,1230.1L1114.4,1227.7L1112.7,1230L1111,1232.3L1109.3,1235.5L1107.6,1236.8L1105.9,1233.2L1104.2,1236.5L1102.5,1240L1100.8,1238.5L1099.1,1238L1097.4,1238.4L1095.7,1233.1L1094,1236.6L1092.3,1235.3L1090.6,1235.6L1088.9,1231.9L1087.2,1232.9L1085.5,1231.4L1083.8,1227.3L1082.1,1231.5L1080.4,1231.3L1078.7,1227.5L1077,1228.4L1075.3,1225.1L1073.6,1224.8L1071.9,1224.4L1070.2,1224.5L1068.5,1219.4L1066.8,1226.3L1065.1,1224.3L1063.4,1227.1L1061.7,1227.3L1060,1227.1L1058.3,1226.2L1056.6,1230.7L1054.9,1224.7L1053.2,1233.7L1051.5,1230.1L1049.8,1230.3L1048.1,1226.4L1046.4,1226.2L1044.7,1233.6L1043,1226.8L1041.3,1233.9L1039.6,1229.3L1037.9,1230.3L1036.2,1228.9L1034.5,1229.6L1032.8,1225.7L1031.1,1225.2L1029.4,1225.4L1027.7,1223.5L1026,1229.4L1024.3,1224.3L1022.6,1227.2L1020.9,1228.1L1019.2,1229.2L1017.5,1227.5L1015.8,1234.3L1014.1,1232.7L1012.4,1231.9L1010.7,1238.1L1009,1239.9L1007.3,1238.9L1005.6,1240.6L1003.9,1240.1L1002.2,1238.6L1000.5,1239.3L998.8,1238.2L997.1,1231.3L995.4,1231.4L993.7,1234.3L992,1234.5L990.3,1224.6L988.6,1224.7L986.9,1221.1L985.2,1222.2L983.5,1219.7L981.8,1218.5L980.1,1220L978.4,1220.6L976.7,1226.7L975,1222.5L973.3,1225.3L971.6,1233.2L969.9,1233.4L968.2,1231.9L966.5,1236.2L964.8,1234.7L963.1,1236.4L961.4,1234.8L959.7,1240.7L958,1237.5L956.3,1240.8L954.6,1237.4L952.9,1236.7L951.2,1233.3L949.5,1235L947.8,1231.8L946.1,1232.9L944.4,1227.8L942.7,1225.2L941,1225.8L939.3,1221.3L937.6,1221.2L935.9,1221.8L934.2,1219L932.5,1219.5L930.8,1216.4L929.1,1216.3L927.4,1218.9L925.7,1214.5L924,1216.7L922.3,1220.4L920.6,1218.2L918.9,1219.8L917.2,1223.7L915.5,1228.3L913.8,1233.4L912.1,1238.3L910.4,1238.9L908.7,1244.8L907,1246.7L905.3,1250.9L903.6,1252.3L901.9,1256.4L900.2,1251.1L898.5,1256.5L896.8,1255.7L895.1,1259.3L893.4,1253.9L891.7,1254.5L890,1250L888.3,1249.2L886.6,1243.7L884.9,1236.6L883.2,1231.1L881.5,1231.6L879.8,1226.3L878.1,1223.9L876.4,1218.2L874.7,1216.3L873,1213.4L871.3,1209.9L869.6,1205.1L867.9,1199.2L866.2,1201.6L864.5,1197.3L862.8,1195L861.1,1199L859.4,1198.1L857.7,1199L856,1200.4L854.3,1200.6L852.6,1204.6L850.9,1201.8L849.2,1204.6L847.5,1207.8Z" fill="#F19C94"/>
<path d="M847.5,1186.4L851.1,1185.6L854.7,1182.9L858.3,1179.6L862,1179.6L865.6,1179.1L869.2,1185.2L872.8,1193.3L876.4,1203.3L880.1,1212L883.7,1221.5L887.3,1231.5L890.9,1237.9L894.6,1240.4L898.2,1238.8L901.8,1239.4L905.4,1236L909,1231.6L912.7,1221.1L916.3,1213.2L919.9,1206.5L923.5,1202.9L927.1,1206.1L930.8,1205.7L934.4,1209.8L938,1208.1L941.6,1211.8L945.3,1219.6L948.9,1223.3L952.5,1225.8L956.1,1223.3L959.7,1226.2L963.4,1224.1L967,1220.6L970.6,1220.5L974.2,1214L977.9,1209.9L981.5,1206.7L985.1,1208.7L988.7,1216.9L992.3,1218.9L996,1220.7L999.6,1227.6L1003.2,1227.3L1006.8,1226.3L1010.4,1226.1L1014.1,1219.7L1017.7,1217.6L1021.3,1214.9L1024.9,1217.2L1028.6,1217.4L1032.2,1216.1L1035.8,1220.4L1039.4,1216.1L1043,1218.2L1046.7,1220.8L1050.3,1218.3L1053.9,1219L1057.5,1218.6L1061.1,1216.8L1064.8,1213.3L1068.4,1208.3L1072,1211.8L1075.6,1213.1L1079.3,1217.2L1082.9,1215.9L1086.5,1219.8L1090.1,1225.3L1093.7,1226.1L1097.4,1231.6L1101,1227.1L1104.6,1221.2L1108.2,1225.6L1111.9,1221.4L1115.5,1217.5L1119.1,1213.2L1122.7,1214.1L1126.3,1214.4L1130,1214.1L1133.6,1215.9L1137.2,1218.9L1140.8,1219.8L1144.4,1219.1L1148.1,1222.4L1151.7,1222.8L1155.3,1224.9L1158.9,1221.6L1162.6,1220.7L1166.2,1225.1L1169.8,1224.7L1173.4,1220.8L1177,1218L1180.7,1220.3L1184.3,1212.7L1187.9,1212L1191.5,1212.2L1195.1,1209.5L1198.8,1210.2L1202.4,1210.7L1206,1208.7L1209.6,1206.7L1213.3,1207.1L1216.9,1207.3L1220.5,1208.7L1224.1,1204.6L1227.7,1208.1L1231.4,1206.6L1235,1215.6L1238.6,1217.5L1242.2,1213.7L1245.8,1208.9L1249.5,1209.9L1253.1,1207.3L1256.7,1204.4L1260.3,1202.7L1264,1201.6L1267.6,1204.9L1271.2,1213.3L1274.8,1212.5L1278.4,1211.1L1282.1,1208.5L1285.7,1207.7L1289.3,1204.2L1292.9,1200.9" fill="none" stroke="#E5141E" stroke-width="11.6" stroke-linejoin="round" stroke-linecap="round"/>
</g>
<path d="M287,91.8V436.8" stroke="#000" stroke-width="2" fill="none"/>
<path d="M280,92.6H287" stroke="#000" stroke-width="2" fill="none"/>
<path d="M280,436H287" stroke="#000" stroke-width="2" fill="none"/>
<path d="M280,265H287" stroke="#000" stroke-width="2" fill="none"/>
<path d="M280,436H625" stroke="#000" stroke-width="2" fill="none"/>
<path d="M354,436V444" stroke="#000" stroke-width="2" fill="none"/>
<path d="M489,436V444" stroke="#000" stroke-width="2" fill="none"/>
<path d="M624.2,436V444" stroke="#000" stroke-width="2" fill="none"/>
<path d="M640.2,436H829.4" stroke="#000" stroke-width="2" fill="none"/>
<path d="M641.6,436V444" stroke="#000" stroke-width="2" fill="none"/>
<path d="M696.3,436V444" stroke="#000" stroke-width="2" fill="none"/>
<path d="M807,436V444" stroke="#000" stroke-width="2" fill="none"/>
<path d="M845.2,436H1293.4" stroke="#000" stroke-width="2" fill="none"/>
<path d="M846.3,436V444" stroke="#000" stroke-width="2" fill="none"/>
<path d="M994.6,436V444" stroke="#000" stroke-width="2" fill="none"/>
<path d="M1143.4,436V444" stroke="#000" stroke-width="2" fill="none"/>
<path d="M1292.6,436V444" stroke="#000" stroke-width="2" fill="none"/>
<path d="M287,568.9V912.2" stroke="#000" stroke-width="2" fill="none"/>
<path d="M280,569.7H287" stroke="#000" stroke-width="2" fill="none"/>
<path d="M280,911.4H287" stroke="#000" stroke-width="2" fill="none"/>
<path d="M280,740.7H287" stroke="#000" stroke-width="2" fill="none"/>
<path d="M280,911.4H625" stroke="#000" stroke-width="2" fill="none"/>
<path d="M354,911.4V919.4" stroke="#000" stroke-width="2" fill="none"/>
<path d="M489,911.4V919.4" stroke="#000" stroke-width="2" fill="none"/>
<path d="M624.2,911.4V919.4" stroke="#000" stroke-width="2" fill="none"/>
<path d="M640.2,911.4H829.4" stroke="#000" stroke-width="2" fill="none"/>
<path d="M641.6,911.4V919.4" stroke="#000" stroke-width="2" fill="none"/>
<path d="M696.3,911.4V919.4" stroke="#000" stroke-width="2" fill="none"/>
<path d="M807,911.4V919.4" stroke="#000" stroke-width="2" fill="none"/>
<path d="M845.2,911.4H1293.4" stroke="#000" stroke-width="2" fill="none"/>
<path d="M846.3,911.4V919.4" stroke="#000" stroke-width="2" fill="none"/>
<path d="M994.6,911.4V919.4" stroke="#000" stroke-width="2" fill="none"/>
<path d="M1143.4,911.4V919.4" stroke="#000" stroke-width="2" fill="none"/>
<path d="M1292.6,911.4V919.4" stroke="#000" stroke-width="2" fill="none"/>
<path d="M287,1044.7V1389.7" stroke="#000" stroke-width="2" fill="none"/>
<path d="M280,1045.5H287" stroke="#000" stroke-width="2" fill="none"/>
<path d="M280,1388.9H287" stroke="#000" stroke-width="2" fill="none"/>
<path d="M280,1217.2H287" stroke="#000" stroke-width="2" fill="none"/>
<path d="M280,1388.9H625" stroke="#000" stroke-width="2" fill="none"/>
<path d="M354,1388.9V1396.9" stroke="#000" stroke-width="2" fill="none"/>
<path d="M489,1388.9V1396.9" stroke="#000" stroke-width="2" fill="none"/>
<path d="M624.2,1388.9V1396.9" stroke="#000" stroke-width="2" fill="none"/>
<path d="M640.2,1388.9H829.4" stroke="#000" stroke-width="2" fill="none"/>
<path d="M641.6,1388.9V1396.9" stroke="#000" stroke-width="2" fill="none"/>
<path d="M696.3,1388.9V1396.9" stroke="#000" stroke-width="2" fill="none"/>
<path d="M807,1388.9V1396.9" stroke="#000" stroke-width="2" fill="none"/>
<path d="M845.2,1388.9H1293.4" stroke="#000" stroke-width="2" fill="none"/>
<path d="M846.3,1388.9V1396.9" stroke="#000" stroke-width="2" fill="none"/>
<path d="M994.6,1388.9V1396.9" stroke="#000" stroke-width="2" fill="none"/>
<path d="M1143.4,1388.9V1396.9" stroke="#000" stroke-width="2" fill="none"/>
<path d="M1292.6,1388.9V1396.9" stroke="#000" stroke-width="2" fill="none"/>
<text x="114.4" y="62" font-size="55.5" stroke="#000" font-weight="bold">A</text>
<text x="206.9" y="109.6" font-size="36" stroke="#000">0.7</text>
<text x="206.8" y="281.3" font-size="36" stroke="#000">0.5</text>
<text x="206.8" y="453" font-size="36" stroke="#000">0.3</text>
<text font-size="35.4" stroke="#000" transform="translate(141.4,408.3) rotate(-90)">Normalized activity</text>
<text font-size="35.4" stroke="#000" transform="translate(183.6,407.9) rotate(-90)">(ROC vs. baseline)</text>
<text x="112.9" y="560.6" font-size="55.5" stroke="#000" font-weight="bold">B</text>
<text x="206.9" y="586.7" font-size="36" stroke="#000">0.7</text>
<text x="206.8" y="757" font-size="36" stroke="#000">0.5</text>
<text x="206.8" y="928.4" font-size="36" stroke="#000">0.3</text>
<text font-size="35.4" stroke="#000" transform="translate(141.4,907.3) rotate(-90)">Normalized activity</text>
<text font-size="35.4" stroke="#000" transform="translate(183.6,906.8) rotate(-90)">(ROC vs. baseline)</text>
<text x="115.8" y="1034.3" font-size="55.5" stroke="#000" font-weight="bold">C</text>
<text x="206.9" y="1062.5" font-size="36" stroke="#000">0.7</text>
<text x="206.8" y="1233.5" font-size="36" stroke="#000">0.5</text>
<text x="206.8" y="1405.9" font-size="36" stroke="#000">0.3</text>
<text font-size="35.4" stroke="#000" transform="translate(141.4,1370.7) rotate(-90)">Normalized activity</text>
<text font-size="35.4" stroke="#000" transform="translate(183.6,1370.3) rotate(-90)">(ROC vs. baseline)</text>
<text x="405.2" y="59.7" font-size="44.8" stroke="#000">FPon</text>
<text x="611.5" y="59.7" font-size="44.8" stroke="#000">TGon</text>
<text x="736.9" y="59.7" font-size="44.8" stroke="#000">FPoff</text>
<text x="873.6" y="59.7" font-size="44.8" stroke="#000">RWon</text>
<text x="994.8" y="129.2" font-size="42.4" stroke="#000">Positive reward</text>
<text x="1043.6" y="215.5" font-size="44" fill="#E5141E" stroke="#E5141E">Rewarded</text>
<text x="990" y="340" font-size="44" fill="#1F2A8E" stroke="#1F2A8E">Unrewarded</text>
<text x="976.1" y="614" font-size="42.4" stroke="#000">Negative reward</text>
<text x="1035.4" y="694.6" font-size="44" fill="#1F2A8E" stroke="#1F2A8E">Unrewarded</text>
<text x="1082.6" y="818.2" font-size="44" fill="#E5141E" stroke="#E5141E">Rewarded</text>
<text x="893" y="1078.3" font-size="41.7" stroke="#000">No outcome response</text>
<text x="1034.2" y="1156.6" font-size="44" fill="#1F2A8E" stroke="#1F2A8E">Unrewarded</text>
<text x="1054.9" y="1279.5" font-size="44" fill="#E5141E" stroke="#E5141E">Rewarded</text>
<text x="317" y="1445.6" font-size="36" stroke="#000">−1</text>
<text x="476.8" y="1445.6" font-size="36" stroke="#000">0</text>
<text x="610.8" y="1445.6" font-size="36" stroke="#000">1</text>
<text x="684.3" y="1445.6" font-size="36" stroke="#000">0</text>
<text x="794.1" y="1445.6" font-size="36" stroke="#000">1</text>
<text x="834.1" y="1445.6" font-size="36" stroke="#000">0</text>
<text x="982.6" y="1445.6" font-size="36" stroke="#000">1</text>
<text x="1133.8" y="1445.6" font-size="36" stroke="#000">2</text>
<text x="1283.1" y="1445.6" font-size="36" stroke="#000">3</text>
<text x="381.2" y="1499.3" font-size="40.2" stroke="#000">Time after task event (s)</text>
<path d="M1863.8,105.4V465.3" stroke="#9A9A9A" stroke-width="2" fill="none"/>
<path d="M1683.3,285.2H2044.3" stroke="#9A9A9A" stroke-width="2" fill="none"/>
<path d="M1688.4,465.3L2027.4,105.4" stroke="#000" stroke-width="4.8" fill="none"/>
<g fill="#727272"><circle cx="1784.3" cy="245.8" r="8.3"/><circle cx="1817.3" cy="253.2" r="8.3"/><circle cx="1802.9" cy="262.6" r="8.3"/><circle cx="1804.5" cy="268.4" r="8.3"/><circle cx="1789.4" cy="276.1" r="8.3"/><circle cx="1750.7" cy="278.5" r="8.3"/><circle cx="1781" cy="284.5" r="8.3"/><circle cx="1827.4" cy="285.5" r="8.3"/><circle cx="1834.2" cy="287.2" r="8.3"/><circle cx="1798.8" cy="299" r="8.3"/><circle cx="1804.5" cy="302.4" r="8.3"/><circle cx="1823.1" cy="317.2" r="8.3"/><circle cx="1899.8" cy="269.4" r="8.3"/><circle cx="1912.3" cy="266" r="8.3"/><circle cx="1920" cy="264.3" r="8.3"/><circle cx="1926.4" cy="250.8" r="8.3"/><circle cx="1942.6" cy="264.3" r="8.3"/><circle cx="1947.6" cy="266" r="8.3"/><circle cx="1952.7" cy="251.9" r="8.3"/><circle cx="1963.5" cy="248.5" r="8.3"/><circle cx="1900.5" cy="287.9" r="8.3"/><circle cx="1969.5" cy="288.9" r="8.3"/></g>
<g fill="#C2C2C2"><circle cx="1847.6" cy="249.2" r="8.3"/><circle cx="1871.9" cy="242.4" r="8.3"/><circle cx="1868.5" cy="257.6" r="8.3"/><circle cx="1876.9" cy="259.3" r="8.3"/><circle cx="1882" cy="255.9" r="8.3"/><circle cx="1853.4" cy="271" r="8.3"/><circle cx="1861.8" cy="276.1" r="8.3"/><circle cx="1856.7" cy="286.2" r="8.3"/><circle cx="1865.2" cy="286.2" r="8.3"/><circle cx="1873.6" cy="286.2" r="8.3"/><circle cx="1880.3" cy="281.1" r="8.3"/><circle cx="1882" cy="289.6" r="8.3"/><circle cx="1855.1" cy="296.3" r="8.3"/><circle cx="1868.5" cy="296.3" r="8.3"/><circle cx="1875.3" cy="301.3" r="8.3"/><circle cx="1890.4" cy="304" r="8.3"/><circle cx="1855.1" cy="308.1" r="8.3"/><circle cx="1861.8" cy="313.1" r="8.3"/><circle cx="1844.9" cy="319.9" r="8.3"/><circle cx="1870.2" cy="318.2" r="8.3"/><circle cx="1876.9" cy="321.5" r="8.3"/><circle cx="1882" cy="324.9" r="8.3"/><circle cx="1851.7" cy="286.2" r="8.3"/><circle cx="1871.9" cy="269.4" r="8.3"/><circle cx="1882" cy="266" r="8.3"/><circle cx="1854.3" cy="289.5" r="8.3"/><circle cx="1861.4" cy="282.4" r="8.3"/><circle cx="1868.6" cy="275.7" r="8.3"/><circle cx="1875.7" cy="266.9" r="8.3"/><circle cx="1881" cy="259" r="8.3"/><circle cx="1869.8" cy="285.2" r="8.3"/><circle cx="1860.2" cy="295.5" r="8.3"/><circle cx="1878.1" cy="282.4" r="8.3"/><circle cx="1866.2" cy="294.3" r="8.3"/><circle cx="1874.5" cy="277.6" r="8.3"/><circle cx="1862.6" cy="275.2" r="8.3"/><circle cx="1879.3" cy="289.5" r="8.3"/><circle cx="1867.4" cy="256.2" r="8.3"/><circle cx="1853.1" cy="270.5" r="8.3"/></g>
<g fill="#8E94CE"><circle cx="1844.9" cy="334" r="8.3"/><circle cx="1836.5" cy="346.8" r="8.3"/><circle cx="1846.6" cy="349.2" r="8.3"/><circle cx="1852.4" cy="374.4" r="8.3"/></g>
<g fill="#F0958D"><circle cx="1851" cy="201.3" r="8.3"/><circle cx="1860.1" cy="196.3" r="8.3"/><circle cx="1881.3" cy="199.7" r="8.3"/><circle cx="1899.8" cy="190.2" r="8.3"/><circle cx="1883.7" cy="227.9" r="8.3"/><circle cx="1890.4" cy="229.6" r="8.3"/><circle cx="1861.1" cy="243.1" r="8.3"/><circle cx="1883" cy="245.8" r="8.3"/></g>
<g fill="#1F2A8E"><circle cx="1750.7" cy="346.8" r="8.3"/><circle cx="1764.1" cy="339.4" r="8.3"/><circle cx="1784.3" cy="352.9" r="8.3"/><circle cx="1809.6" cy="336" r="8.3"/><circle cx="1826.4" cy="325.9" r="8.3"/><circle cx="1903.9" cy="330.6" r="8.3"/><circle cx="1921.4" cy="346.8" r="8.3"/><circle cx="1787" cy="382.2" r="8.3"/><circle cx="1787.7" cy="394.6" r="8.3"/><circle cx="1770.9" cy="419.2" r="8.3"/><circle cx="1760.8" cy="438.4" r="8.3"/></g>
<g fill="#E5141E"><circle cx="1846" cy="182.8" r="8.3"/><circle cx="1925.1" cy="175.8" r="8.3"/><circle cx="1925.1" cy="185.2" r="8.3"/><circle cx="1908.2" cy="194.3" r="8.3"/><circle cx="1916.7" cy="207.1" r="8.3"/><circle cx="1962.1" cy="196.3" r="8.3"/><circle cx="1803.9" cy="212.1" r="8.3"/><circle cx="1932.5" cy="221.5" r="8.3"/><circle cx="1892.1" cy="237.4" r="8.3"/><circle cx="1900.5" cy="243.1" r="8.3"/></g>
<path d="M1683.3,104.6V466.1" stroke="#000" stroke-width="2" fill="none"/>
<path d="M1676.3,465.3H2045.1" stroke="#000" stroke-width="2" fill="none"/>
<path d="M1676.3,105.4H1683.3" stroke="#000" stroke-width="2" fill="none"/>
<path d="M1676.3,285.2H1683.3" stroke="#000" stroke-width="2" fill="none"/>
<path d="M1683.3,465.3V472.3" stroke="#000" stroke-width="2" fill="none"/>
<path d="M1863.8,465.3V472.3" stroke="#000" stroke-width="2" fill="none"/>
<path d="M2044.3,465.3V472.3" stroke="#000" stroke-width="2" fill="none"/>
<path d="M2289.2,105.4V465.3" stroke="#9A9A9A" stroke-width="2" fill="none"/>
<path d="M2109.8,285.2H2469.4" stroke="#9A9A9A" stroke-width="2" fill="none"/>
<path d="M2202.4,463L2385.9,105.4" stroke="#000" stroke-width="4.8" fill="none"/>
<g fill="#727272"><circle cx="2188.9" cy="255.9" r="8.3"/><circle cx="2176.4" cy="271" r="8.3"/><circle cx="2368.4" cy="261.6" r="8.3"/><circle cx="2333.7" cy="271" r="8.3"/><circle cx="2350.5" cy="277.8" r="8.3"/><circle cx="2326.3" cy="252.5" r="8.3"/><circle cx="2252.9" cy="284.5" r="8.3"/><circle cx="2186.5" cy="300.7" r="8.3"/><circle cx="2222.6" cy="305.7" r="8.3"/><circle cx="2228.3" cy="304.7" r="8.3"/><circle cx="2325.9" cy="301.3" r="8.3"/></g>
<g fill="#C2C2C2"><circle cx="2269.7" cy="254.2" r="8.3"/><circle cx="2286.5" cy="247.5" r="8.3"/><circle cx="2291.6" cy="259.3" r="8.3"/><circle cx="2273.1" cy="269.4" r="8.3"/><circle cx="2271.4" cy="284.5" r="8.3"/><circle cx="2298.3" cy="266" r="8.3"/><circle cx="2305.1" cy="269.4" r="8.3"/><circle cx="2308.4" cy="279.5" r="8.3"/><circle cx="2306.7" cy="289.6" r="8.3"/><circle cx="2298.3" cy="296.3" r="8.3"/><circle cx="2284.8" cy="292.9" r="8.3"/><circle cx="2278.1" cy="299.7" r="8.3"/><circle cx="2289.9" cy="308.1" r="8.3"/><circle cx="2284.8" cy="316.5" r="8.3"/><circle cx="2291.6" cy="323.2" r="8.3"/><circle cx="2305.1" cy="321.5" r="8.3"/><circle cx="2326.3" cy="322.6" r="8.3"/><circle cx="2292.6" cy="261" r="8.3"/><circle cx="2299.8" cy="270.5" r="8.3"/><circle cx="2304.5" cy="280" r="8.3"/><circle cx="2302.1" cy="294.3" r="8.3"/><circle cx="2295" cy="301.4" r="8.3"/><circle cx="2290.2" cy="308.6" r="8.3"/><circle cx="2284.3" cy="315.7" r="8.3"/><circle cx="2287.9" cy="320.5" r="8.3"/><circle cx="2308.1" cy="282.4" r="8.3"/><circle cx="2305.7" cy="289.5" r="8.3"/><circle cx="2298.6" cy="268.1" r="8.3"/><circle cx="2285.5" cy="291.9" r="8.3"/><circle cx="2277.1" cy="300.2" r="8.3"/><circle cx="2272.4" cy="269.3" r="8.3"/><circle cx="2291.4" cy="325.2" r="8.3"/></g>
<g fill="#8E94CE"><circle cx="2263" cy="341.1" r="8.3"/><circle cx="2283.8" cy="347.8" r="8.3"/><circle cx="2305.1" cy="328.3" r="8.3"/><circle cx="2311.8" cy="333.3" r="8.3"/><circle cx="2305.1" cy="345.1" r="8.3"/><circle cx="2316.8" cy="343.4" r="8.3"/><circle cx="2276.4" cy="372.1" r="8.3"/><circle cx="2288.2" cy="378.8" r="8.3"/><circle cx="2298.3" cy="385.5" r="8.3"/></g>
<g fill="#F0958D"><circle cx="2294.9" cy="190.2" r="8.3"/><circle cx="2310.1" cy="191.9" r="8.3"/><circle cx="2308.4" cy="203" r="8.3"/><circle cx="2282.2" cy="213.8" r="8.3"/><circle cx="2288.2" cy="222.2" r="8.3"/><circle cx="2288.2" cy="229.6" r="8.3"/><circle cx="2270.7" cy="234" r="8.3"/><circle cx="2302.7" cy="234.7" r="8.3"/><circle cx="2276.4" cy="247.5" r="8.3"/></g>
<g fill="#1F2A8E"><circle cx="2176.4" cy="341.1" r="8.3"/><circle cx="2209.1" cy="331.6" r="8.3"/><circle cx="2212.5" cy="335" r="8.3"/><circle cx="2251.2" cy="324.9" r="8.3"/><circle cx="2247.8" cy="342.8" r="8.3"/><circle cx="2259.6" cy="346.8" r="8.3"/><circle cx="2216.8" cy="360.3" r="8.3"/><circle cx="2228.6" cy="357.6" r="8.3"/><circle cx="2242.8" cy="373.1" r="8.3"/><circle cx="2326.3" cy="332.7" r="8.3"/><circle cx="2342.1" cy="336" r="8.3"/><circle cx="2358.2" cy="336" r="8.3"/><circle cx="2346.1" cy="356.2" r="8.3"/><circle cx="2327.9" cy="375.4" r="8.3"/><circle cx="2374.1" cy="417.5" r="8.3"/><circle cx="2206.7" cy="417.5" r="8.3"/><circle cx="2213.5" cy="424.9" r="8.3"/><circle cx="2210.1" cy="431" r="8.3"/><circle cx="2235" cy="448.5" r="8.3"/><circle cx="2196.6" cy="462" r="8.3"/></g>
<g fill="#E5141E"><circle cx="2378.5" cy="117.8" r="8.3"/><circle cx="2270.7" cy="165" r="8.3"/><circle cx="2350.5" cy="165" r="8.3"/><circle cx="2387.5" cy="167.3" r="8.3"/><circle cx="2387.5" cy="176.8" r="8.3"/><circle cx="2350.5" cy="184.5" r="8.3"/><circle cx="2394.9" cy="193.6" r="8.3"/><circle cx="2229.3" cy="218.9" r="8.3"/><circle cx="2230.3" cy="234" r="8.3"/><circle cx="2357.2" cy="238.4" r="8.3"/><circle cx="2318.5" cy="249.2" r="8.3"/><circle cx="2326.9" cy="241.8" r="8.3"/><circle cx="2338.7" cy="241.8" r="8.3"/></g>
<path d="M2109.8,104.6V466.1" stroke="#000" stroke-width="2" fill="none"/>
<path d="M2102.8,465.3H2470.2" stroke="#000" stroke-width="2" fill="none"/>
<path d="M2102.8,105.4H2109.8" stroke="#000" stroke-width="2" fill="none"/>
<path d="M2102.8,285.2H2109.8" stroke="#000" stroke-width="2" fill="none"/>
<path d="M2109.8,465.3V472.3" stroke="#000" stroke-width="2" fill="none"/>
<path d="M2289.2,465.3V472.3" stroke="#000" stroke-width="2" fill="none"/>
<path d="M2469.4,465.3V472.3" stroke="#000" stroke-width="2" fill="none"/>
<text x="1396.3" y="61.6" font-size="55.5" stroke="#000" font-weight="bold">D</text>
<text x="1796.7" y="39.7" font-size="42" stroke="#000">TGon</text>
<text x="2218.8" y="39.7" font-size="42" stroke="#000">RWon</text>
<text x="1684.4" y="85.9" font-size="37" stroke="#000">rho +0.49, p &lt; 0.001</text>
<text x="2106.8" y="91" font-size="37" stroke="#000">rho +0.34, p &lt; 0.01</text>
<text x="1652.8" y="123.6" font-size="33" stroke="#000">1</text>
<text x="1618" y="299.3" font-size="33" stroke="#000">0.5</text>
<text x="1654.2" y="478.4" font-size="33" stroke="#000">0</text>
<text font-size="45.6" stroke="#000" transform="translate(1433.7,559.6) rotate(-90)">Reward discrimination</text>
<text x="1482" y="156.6" font-size="40.7" fill="#E5141E" stroke="#E5141E" font-style="italic">Prefers</text>
<text x="1476.5" y="205.4" font-size="40.7" fill="#E5141E" stroke="#E5141E" font-style="italic">Reward</text>
<text x="1478.7" y="411.4" font-size="40.7" fill="#1F2A8E" stroke="#1F2A8E" font-style="italic">Prefers</text>
<text x="1449.4" y="461.3" font-size="40.7" fill="#1F2A8E" stroke="#1F2A8E" font-style="italic">No reward</text>
<path d="M1648,145.5L1665.5,175L1651.5,175L1651.5,213A3.5,3.5 0 0 1 1644.5,213L1644.5,175L1631,175Z" fill="#EC6A5E"/>
<path d="M1651.7,414L1634.5,385.5L1648.2,385.5L1648.2,347A3.5,3.5 0 0 1 1655.2,347L1655.2,385.5L1669,385.5Z" fill="#4A64AE"/>
<path d="M1715.7,505.2L1744.7,487.8L1744.7,501.1L1783.2,501.1A4.1,4.1 0 0 1 1783.2,509.3L1744.7,509.3L1744.7,522.6Z" fill="#777"/>
<path d="M2009.5,501.9L1980.5,484.5L1980.5,497.8L1942,497.8A4.1,4.1 0 0 0 1942,506L1980.5,506L1980.5,519.3Z" fill="#777"/>
<path d="M2140.6,505.2L2169.6,487.8L2169.6,501.1L2208.1,501.1A4.1,4.1 0 0 1 2208.1,509.3L2169.6,509.3L2169.6,522.6Z" fill="#777"/>
<path d="M2434.8,501.9L2405.8,484.5L2405.8,497.8L2367.3,497.8A4.1,4.1 0 0 0 2367.3,506L2405.8,506L2405.8,519.3Z" fill="#777"/>
<text x="1674.7" y="568.7" font-size="41.1" stroke="#000" font-style="italic">Inhibited</text>
<text x="1661" y="618.5" font-size="41.1" stroke="#000" font-style="italic">by fixation</text>
<text x="1905.9" y="568.7" font-size="41.1" stroke="#000" font-style="italic">Excited</text>
<text x="1882.3" y="618.5" font-size="41.1" stroke="#000" font-style="italic">by fixation</text>
<text x="2099.5" y="568.7" font-size="41.1" stroke="#000" font-style="italic">Inhibited</text>
<text x="2085.8" y="618.5" font-size="41.1" stroke="#000" font-style="italic">by fixation</text>
<text x="2331.6" y="568.7" font-size="41.1" stroke="#000" font-style="italic">Excited</text>
<text x="2307" y="618.5" font-size="41.1" stroke="#000" font-style="italic">by fixation</text>
<text x="1694.1" y="691.5" font-size="45.4" stroke="#000">Fixation period response (ROC area)</text>
<path d="M434.3,1719V2007.8" stroke="#959595" stroke-width="2" fill="none"/>
<path d="M623,1719V2007.8" stroke="#959595" stroke-width="2" fill="none"/>
<path d="M766.5,1719V2007.8" stroke="#959595" stroke-width="2" fill="none"/>
<path d="M857.4,1719V2007.8" stroke="#959595" stroke-width="2" fill="none"/>
<path d="M1446,1719V2007.8" stroke="#959595" stroke-width="2" fill="none"/>
<path d="M1634.7,1719V2007.8" stroke="#959595" stroke-width="2" fill="none"/>
<path d="M1778.2,1719V2007.8" stroke="#959595" stroke-width="2" fill="none"/>
<path d="M1869.1,1719V2007.8" stroke="#959595" stroke-width="2" fill="none"/>
<path d="M255.2,1920.6L258.4,1919.5L261.6,1919.8L264.8,1916.2L268,1917.9L271.2,1914.9L274.5,1916.3L277.7,1915.9L280.9,1917.1L284.1,1915.4L287.3,1914.3L290.5,1916L293.7,1916.3L296.9,1915.2L300.1,1918.3L303.3,1918.4L306.5,1919.6L309.7,1920.1L312.9,1918.9L316.1,1919.8L319.3,1918L322.5,1915.9L325.7,1914L328.9,1910.2L332.1,1908.8L335.4,1908.7L338.6,1908L341.8,1907.6L345,1905.5L348.2,1906.1L351.4,1906.5L354.6,1905.8L357.8,1902.6L361,1902L364.2,1904.4L367.4,1905.5L370.6,1904L373.8,1902.3L377,1898.7L380.2,1895.9L383.4,1894L386.6,1892L389.8,1889.4L393.1,1890L396.3,1887L399.5,1883.4L402.7,1881.8L405.9,1878.3L409.1,1876.9L412.3,1871.7L415.5,1869.7L418.7,1867.4L421.9,1863.7L425.1,1862.3L428.3,1864.6L431.5,1869.6L434.7,1865.2L437.9,1863.3L441.1,1855.5L444.3,1851.6L447.5,1834.3L450.7,1821.5L454,1811.9L457.2,1813.9L460.4,1820.3L463.6,1835L466.8,1845.1L470,1856.5L473.2,1865.7L476.4,1870.4L479.6,1873L482.8,1874.8L486,1873.4L489.2,1872.3L492.4,1873.1L495.6,1873.6L498.8,1870.8L502,1869.4L505.2,1866.2L508.4,1863.9L511.6,1864.6L514.9,1860.4L518.1,1856.8L521.3,1858.7L524.5,1857.7L527.7,1855.6L530.9,1854.8L534.1,1851.3L537.3,1847.8L540.5,1843.2L543.7,1841.8L546.9,1839L550.1,1838.3L553.3,1838.4L556.5,1832.7L559.7,1829L562.9,1823.9L566.1,1823.1L569.3,1813.7L572.6,1810.8L575.8,1809" fill="none" stroke="#9C9C9C" stroke-width="8.4" stroke-linejoin="round" stroke-linecap="butt"/>
<path d="M255.2,1927.6L258.4,1925.7L261.6,1927.4L264.8,1922.1L268,1921.7L271.2,1923.3L274.5,1925.5L277.7,1921.6L280.9,1922.9L284.1,1922L287.3,1921.8L290.5,1917.8L293.7,1916.9L296.9,1921.4L300.1,1923.3L303.3,1926.9L306.5,1927.8L309.7,1926.5L312.9,1925.4L316.1,1921.7L319.3,1925.1L322.5,1921.5L325.7,1922.8L328.9,1921.9L332.1,1919.8L335.4,1917.1L338.6,1914.8L341.8,1913.8L345,1911.4L348.2,1911.9L351.4,1916.1L354.6,1912.3L357.8,1915.4L361,1913.5L364.2,1910.9L367.4,1911.7L370.6,1911.6L373.8,1907L377,1904.2L380.2,1901.5L383.4,1901.6L386.6,1898.1L389.8,1891.9L393.1,1891.1L396.3,1890.3L399.5,1887.5L402.7,1881.2L405.9,1884.8L409.1,1881L412.3,1876L415.5,1874.3L418.7,1870.1L421.9,1863.3L425.1,1867.2L428.3,1871.5L431.5,1873.9L434.7,1868.8L437.9,1867.3L441.1,1862.8L444.3,1850.5L447.5,1828.9L450.7,1815.7L454,1810L457.2,1813.9L460.4,1813.3L463.6,1830.8L466.8,1846.4L470,1860.8L473.2,1870.4L476.4,1876.4L479.6,1880.5L482.8,1882.9L486,1880.2L489.2,1880.9L492.4,1883.9L495.6,1885L498.8,1883.3L502,1879.6L505.2,1877.7L508.4,1877.6L511.6,1876.9L514.9,1876L518.1,1875L521.3,1872.2L524.5,1864.6L527.7,1861.8L530.9,1859.7L534.1,1855.5L537.3,1851.8L540.5,1845.9L543.7,1845.1L546.9,1840.3L550.1,1843.8L553.3,1838L556.5,1830.4L559.7,1825.3L562.9,1820.8L566.1,1818.1L569.3,1811.4L572.6,1805.9L575.8,1807.4" fill="none" stroke="#000" stroke-width="8.4" stroke-linejoin="round" stroke-linecap="butt"/>
<path d="M607.2,1796.4L610.5,1795.2L613.7,1793.8L616.9,1795.1L620.2,1793.4L623.4,1789.8L626.6,1789L629.9,1784.1L633.1,1779L636.3,1775.4L639.6,1765L642.8,1760.4L646,1756L649.3,1751.6L652.5,1750.6L655.7,1752.8L659,1758.2L662.2,1765.5L665.4,1768.2L668.7,1774L671.9,1779.3L675.1,1783.9L678.4,1786.6L681.6,1790.1L684.8,1792.7L688.1,1794.7L691.3,1798.8L694.5,1803.6L697.8,1805.6L701,1806.6L704.2,1811.9L707.5,1808.4L710.7,1805.1L713.9,1802.8L717.2,1796.4L720.4,1792.4L723.6,1786.3L726.9,1785.2L730.1,1781.7L733.3,1777.7L736.6,1775.3L739.8,1773.9L743,1770.9L746.3,1769L749.5,1767.6L752.7,1766.8L756,1767.2L759.2,1765.5L762.4,1766.3L765.7,1767.4L768.9,1769.1L772.1,1770.6L775.4,1772.6L778.6,1773.8L781.8,1774.9L785.1,1770L788.3,1768.2L791.5,1762.1L794.8,1760.3L798,1759.6L801.2,1756.4L804.5,1756L807.7,1760.2L810.9,1761.7" fill="none" stroke="#F19C94" stroke-width="8.4" stroke-linejoin="round" stroke-linecap="butt"/>
<path d="M607.2,1803.9L610.5,1800.5L613.7,1799.9L616.9,1798.1L620.2,1796.9L623.4,1795.5L626.6,1796.6L629.9,1794L633.1,1789.2L636.3,1788.5L639.6,1787.3L642.8,1787.6L646,1785.5L649.3,1786.9L652.5,1791.9L655.7,1800.7L659,1811.1L662.2,1819.8L665.4,1826.9L668.7,1834.3L671.9,1836.3L675.1,1841.8L678.4,1843.1L681.6,1841.8L684.8,1842.1L688.1,1840.4L691.3,1836.2L694.5,1840.2L697.8,1841.3L701,1841.8L704.2,1839.7L707.5,1840.2L710.7,1838.9L713.9,1832.3L717.2,1832.1L720.4,1824.5L723.6,1822.6L726.9,1822.1L730.1,1821.6L733.3,1822.2L736.6,1821.6L739.8,1820.8L743,1821.6L746.3,1826.6L749.5,1826.1L752.7,1824.2L756,1823L759.2,1822L762.4,1819.3L765.7,1822.3L768.9,1826.2L772.1,1827.1L775.4,1827.8L778.6,1827.6L781.8,1828.8L785.1,1834.2L788.3,1838.5L791.5,1840.7L794.8,1841.7L798,1845.6L801.2,1847.5L804.5,1850.1L807.7,1852.6L810.9,1850.9" fill="none" stroke="#8E94CE" stroke-width="8.4" stroke-linejoin="round" stroke-linecap="butt"/>
<path d="M607.2,1805.4L610.5,1803.3L613.7,1798.4L616.9,1797.7L620.2,1796.5L623.4,1795.1L626.6,1792.2L629.9,1793.1L633.1,1787.2L636.3,1789L639.6,1785.8L642.8,1785.8L646,1788.1L649.3,1788.2L652.5,1797.8L655.7,1805.1L659,1817.5L662.2,1824.2L665.4,1834.6L668.7,1841.2L671.9,1852.8L675.1,1853.1L678.4,1862.5L681.6,1858.5L684.8,1856.2L688.1,1857.5L691.3,1857L694.5,1852.8L697.8,1849.4L701,1848.9L704.2,1844.4L707.5,1839.7L710.7,1843.5L713.9,1843L717.2,1842L720.4,1840L723.6,1839.7L726.9,1839.9L730.1,1840.6L733.3,1836.6L736.6,1838.4L739.8,1837.3L743,1840L746.3,1837.8L749.5,1838.4L752.7,1838.2L756,1838.2L759.2,1832.2L762.4,1828.1L765.7,1833.5L768.9,1835.6L772.1,1833.8L775.4,1828.8L778.6,1829.6L781.8,1827.5L785.1,1827L788.3,1828.4L791.5,1827.8L794.8,1824.8L798,1828.4L801.2,1831.9L804.5,1834.8L807.7,1837.2L810.9,1843.2" fill="none" stroke="#1F2A8E" stroke-width="8.4" stroke-linejoin="round" stroke-linecap="butt"/>
<path d="M607.2,1802L610.5,1796.7L613.7,1796.7L616.9,1794.4L620.2,1793.8L623.4,1799L626.6,1795.9L629.9,1787.9L633.1,1778.2L636.3,1767.5L639.6,1754.5L642.8,1744.3L646,1740.7L649.3,1734.8L652.5,1736.2L655.7,1740.3L659,1748L662.2,1759.5L665.4,1765.7L668.7,1773.6L671.9,1776.4L675.1,1780.7L678.4,1783.4L681.6,1789.6L684.8,1794.1L688.1,1797.2L691.3,1801.3L694.5,1801.8L697.8,1802.7L701,1805.9L704.2,1809L707.5,1805.5L710.7,1804L713.9,1800.8L717.2,1795L720.4,1795.8L723.6,1793L726.9,1787.7L730.1,1781.6L733.3,1776.5L736.6,1774.4L739.8,1772.3L743,1770.6L746.3,1768.4L749.5,1763.7L752.7,1758.1L756,1760.3L759.2,1759.7L762.4,1759.9L765.7,1757.6L768.9,1756.1L772.1,1756.1L775.4,1759.2L778.6,1763.4L781.8,1768.9L785.1,1765.2L788.3,1763.2L791.5,1759.9L794.8,1761.7L798,1760.6L801.2,1760.3L804.5,1761.8L807.7,1764.1L810.9,1767.9" fill="none" stroke="#E5141E" stroke-width="8.4" stroke-linejoin="round" stroke-linecap="butt"/>
<path d="M842.3,1760.1L845.5,1761.8L848.7,1766.4L851.9,1769.7L855.1,1772.4L858.4,1774.8L861.6,1777.4L864.8,1778.6L868,1778.1L871.3,1777.5L874.5,1776.1L877.7,1775.9L880.9,1774.9L884.1,1775.7L887.4,1783.6L890.6,1787L893.8,1793L897,1801.6L900.3,1810.3L903.5,1818.5L906.7,1820.8L909.9,1824L913.1,1825.9L916.4,1827.6L919.6,1830.9L922.8,1831.5L926,1835.8L929.3,1835.4L932.5,1842.3L935.7,1843.7L938.9,1844.9L942.1,1844.8L945.4,1843.6L948.6,1839.2L951.8,1839.6L955,1840L958.3,1839.1L961.5,1843.9L964.7,1844.8L967.9,1846.8L971.1,1850.9L974.4,1851.8L977.6,1857.4L980.8,1858.5L984,1860.6L987.3,1863.6L990.5,1862.4L993.7,1866L996.9,1868.5L1000.1,1868.8L1003.4,1870.7L1006.6,1872.3L1009.8,1873.3L1013,1875.8L1016.3,1877L1019.5,1875.7L1022.7,1873L1025.9,1876.4L1029.1,1873.3L1032.4,1874L1035.6,1874.3L1038.8,1875.1L1042,1876.8L1045.3,1876.4L1048.5,1876.9L1051.7,1876.1L1054.9,1875L1058.1,1878.6L1061.4,1881.1L1064.6,1882.2L1067.8,1886.2L1071,1886.8L1074.3,1890.1L1077.5,1894L1080.7,1895.8L1083.9,1899.6L1087.1,1901.7L1090.4,1904L1093.6,1905.2L1096.8,1908L1100,1908.5L1103.3,1910.5L1106.5,1911.2L1109.7,1912.3L1112.9,1911.7L1116.1,1912.9L1119.4,1914.6L1122.6,1907.7L1125.8,1905.2L1129,1903.8L1132.3,1902.6L1135.5,1901.9L1138.7,1901.4L1141.9,1904.7L1145.1,1907.8L1148.4,1912.6L1151.6,1913.9L1154.8,1912.9L1158,1912.3L1161.3,1912.2L1164.5,1912.1" fill="none" stroke="#F19C94" stroke-width="8.4" stroke-linejoin="round" stroke-linecap="butt"/>
<path d="M842.3,1843.3L845.5,1845.7L848.7,1844.6L851.9,1844.8L855.1,1844.9L858.4,1844.3L861.6,1840.9L864.8,1838.3L868,1836.1L871.3,1834.8L874.5,1836.1L877.7,1836.9L880.9,1842.7L884.1,1846.7L887.4,1858.6L890.6,1869.3L893.8,1877.3L897,1890.6L900.3,1903.2L903.5,1917.1L906.7,1926.3L909.9,1935.2L913.1,1945.5L916.4,1951L919.6,1956L922.8,1960.2L926,1962.1L929.3,1966.6L932.5,1969.5L935.7,1970.7L938.9,1970.9L942.1,1972.2L945.4,1971.3L948.6,1967.1L951.8,1960.2L955,1961.7L958.3,1958.7L961.5,1958.7L964.7,1957.1L967.9,1956.9L971.1,1956.6L974.4,1960.4L977.6,1962.7L980.8,1959.4L984,1959.2L987.3,1956.2L990.5,1952.4L993.7,1951.7L996.9,1947.9L1000.1,1948.4L1003.4,1945.3L1006.6,1944.3L1009.8,1944.7L1013,1944.7L1016.3,1944.1L1019.5,1941.5L1022.7,1941.8L1025.9,1936.7L1029.1,1937.2L1032.4,1933.6L1035.6,1938.9L1038.8,1939.8L1042,1940.1L1045.3,1939.5L1048.5,1935.8L1051.7,1937.4L1054.9,1939.4L1058.1,1940.8L1061.4,1941.7L1064.6,1942.8L1067.8,1945.2L1071,1942.6L1074.3,1943.2L1077.5,1944.8L1080.7,1945.4L1083.9,1944.6L1087.1,1945.8L1090.4,1940.7L1093.6,1938.5L1096.8,1935.7L1100,1933.5L1103.3,1929.3L1106.5,1927L1109.7,1923.7L1112.9,1924.9L1116.1,1923.1L1119.4,1918.8L1122.6,1922.9L1125.8,1922.5L1129,1922.9L1132.3,1926.3L1135.5,1930.4L1138.7,1930.9L1141.9,1926.5L1145.1,1926.4L1148.4,1923.7L1151.6,1918.7L1154.8,1916.2L1158,1914.4L1161.3,1912.4L1164.5,1913" fill="none" stroke="#8E94CE" stroke-width="8.4" stroke-linejoin="round" stroke-linecap="butt"/>
<path d="M842.3,1836.3L845.5,1840L848.7,1843.8L851.9,1841.7L855.1,1846.9L858.4,1846.3L861.6,1846.2L864.8,1843.5L868,1840.5L871.3,1837.7L874.5,1837.7L877.7,1838.1L880.9,1838.3L884.1,1845.6L887.4,1852.1L890.6,1860.5L893.8,1875.1L897,1889L900.3,1905.3L903.5,1915.6L906.7,1926.9L909.9,1939.3L913.1,1946L916.4,1955.3L919.6,1959L922.8,1962.1L926,1968.7L929.3,1969.4L932.5,1974L935.7,1976.6L938.9,1975.9L942.1,1974.8L945.4,1977.6L948.6,1980.7L951.8,1980.1L955,1977.7L958.3,1979.2L961.5,1978.4L964.7,1976.7L967.9,1976.4L971.1,1977.4L974.4,1975.4L977.6,1974.8L980.8,1967.9L984,1968L987.3,1966.5L990.5,1962.6L993.7,1962.9L996.9,1953.8L1000.1,1953.4L1003.4,1952.9L1006.6,1953.7L1009.8,1954L1013,1958.3L1016.3,1959.2L1019.5,1958.3L1022.7,1958.6L1025.9,1960.9L1029.1,1961.9L1032.4,1955L1035.6,1954.7L1038.8,1955.8L1042,1957.7L1045.3,1961.4L1048.5,1956.5L1051.7,1952.2L1054.9,1947.1L1058.1,1943.9L1061.4,1942L1064.6,1940.1L1067.8,1934.9L1071,1932.5L1074.3,1930.1L1077.5,1931.7L1080.7,1931.1L1083.9,1931L1087.1,1932.9L1090.4,1935L1093.6,1938L1096.8,1942.5L1100,1940.5L1103.3,1941.3L1106.5,1938.5L1109.7,1938.7L1112.9,1936.2L1116.1,1933.8L1119.4,1933.7L1122.6,1929.9L1125.8,1928.9L1129,1926.1L1132.3,1923.6L1135.5,1920.1L1138.7,1917.8L1141.9,1916.2L1145.1,1918L1148.4,1915.4L1151.6,1916.6L1154.8,1916.1L1158,1916.1L1161.3,1914.4L1164.5,1917.3" fill="none" stroke="#1F2A8E" stroke-width="8.4" stroke-linejoin="round" stroke-linecap="butt"/>
<path d="M842.3,1760L845.5,1765.3L848.7,1764.2L851.9,1765.5L855.1,1764.7L858.4,1765.8L861.6,1764.3L864.8,1770L868,1770.5L871.3,1770L874.5,1773.7L877.7,1770.2L880.9,1766.8L884.1,1770.4L887.4,1778.3L890.6,1784.1L893.8,1790.8L897,1800.3L900.3,1806L903.5,1817.9L906.7,1825.4L909.9,1824L913.1,1822.4L916.4,1825.8L919.6,1823.9L922.8,1830.7L926,1832.1L929.3,1829.8L932.5,1830.8L935.7,1831.2L938.9,1838.3L942.1,1839.8L945.4,1838.9L948.6,1833.7L951.8,1830.8L955,1827.5L958.3,1826.8L961.5,1820.5L964.7,1824.6L967.9,1829.6L971.1,1837.3L974.4,1841.9L977.6,1847.8L980.8,1853.4L984,1855.5L987.3,1857.1L990.5,1857.8L993.7,1856.8L996.9,1858.7L1000.1,1858.1L1003.4,1861.7L1006.6,1863.9L1009.8,1866.2L1013,1865.3L1016.3,1870.3L1019.5,1871.3L1022.7,1868.9L1025.9,1867.3L1029.1,1867.9L1032.4,1868.9L1035.6,1863.9L1038.8,1866.4L1042,1871L1045.3,1870.3L1048.5,1870.2L1051.7,1868.9L1054.9,1870.1L1058.1,1870.2L1061.4,1874.5L1064.6,1875.7L1067.8,1878.1L1071,1878.3L1074.3,1879.4L1077.5,1883L1080.7,1887.8L1083.9,1892L1087.1,1894.9L1090.4,1896.4L1093.6,1901.5L1096.8,1900.2L1100,1902.3L1103.3,1900.6L1106.5,1897.3L1109.7,1894.4L1112.9,1897.6L1116.1,1898.1L1119.4,1899L1122.6,1902.9L1125.8,1905.3L1129,1905.1L1132.3,1908.8L1135.5,1910.4L1138.7,1913L1141.9,1911.3L1145.1,1914.5L1148.4,1916.2L1151.6,1919.4L1154.8,1916.9L1158,1917.9L1161.3,1919L1164.5,1920.1" fill="none" stroke="#E5141E" stroke-width="8.4" stroke-linejoin="round" stroke-linecap="butt"/>
<path d="M1266.7,1860.2L1269.9,1860.7L1273.1,1861.5L1276.3,1863.5L1279.6,1868.2L1282.8,1871.6L1286,1874.4L1289.2,1879.1L1292.4,1878.2L1295.7,1880.2L1298.9,1881.4L1302.1,1879.8L1305.3,1874.1L1308.6,1870.3L1311.8,1871.2L1315,1868.2L1318.2,1868.3L1321.4,1873.6L1324.7,1876.2L1327.9,1874.6L1331.1,1872.9L1334.3,1874.1L1337.6,1876.8L1340.8,1876.8L1344,1879.8L1347.2,1881.1L1350.4,1881.5L1353.7,1883.3L1356.9,1883.7L1360.1,1881.8L1363.3,1881.7L1366.6,1881.1L1369.8,1880.9L1373,1878.9L1376.2,1879.6L1379.4,1881.2L1382.7,1882.8L1385.9,1883.2L1389.1,1885L1392.3,1886.7L1395.6,1889.4L1398.8,1890.8L1402,1891.7L1405.2,1896.3L1408.4,1896.2L1411.7,1898.2L1414.9,1899L1418.1,1902.1L1421.3,1903.1L1424.6,1902.3L1427.8,1905.1L1431,1907.1L1434.2,1901.7L1437.4,1894.6L1440.7,1890.5L1443.9,1892.5L1447.1,1889.3L1450.3,1890.7L1453.6,1894.5L1456.8,1905.2L1460,1917.5L1463.2,1920L1466.4,1926.2L1469.7,1930L1472.9,1928.3L1476.1,1922.5L1479.3,1916.2L1482.6,1911L1485.8,1907.9L1489,1907.9L1492.2,1909.1L1495.4,1912.4L1498.7,1911.3L1501.9,1909.3L1505.1,1912L1508.3,1906L1511.6,1903.7L1514.8,1902.8L1518,1905.8L1521.2,1903.7L1524.4,1908L1527.7,1908.4L1530.9,1914.2L1534.1,1915.4L1537.3,1915.2L1540.6,1915.7L1543.8,1913.5L1547,1912.3L1550.2,1908.6L1553.4,1914.5L1556.7,1913.3L1559.9,1916L1563.1,1916.3L1566.3,1916.6L1569.6,1915.9L1572.8,1915.6L1576,1912.9L1579.2,1911.5L1582.4,1912.9L1585.7,1916.4L1588.9,1919.5" fill="none" stroke="#9C9C9C" stroke-width="8.4" stroke-linejoin="round" stroke-linecap="butt"/>
<path d="M1266.7,1864.3L1269.9,1863.3L1273.1,1861.8L1276.3,1864.9L1279.6,1869.3L1282.8,1871.5L1286,1874.8L1289.2,1875.8L1292.4,1874.5L1295.7,1872L1298.9,1871.9L1302.1,1878.1L1305.3,1880.4L1308.6,1879.7L1311.8,1878.9L1315,1878L1318.2,1878.6L1321.4,1881.4L1324.7,1884.9L1327.9,1888.4L1331.1,1890.4L1334.3,1888.3L1337.6,1888.8L1340.8,1885.8L1344,1883.9L1347.2,1883.3L1350.4,1884.1L1353.7,1884.3L1356.9,1886.9L1360.1,1886.1L1363.3,1883.2L1366.6,1886.3L1369.8,1890.7L1373,1887.7L1376.2,1889L1379.4,1888.7L1382.7,1893.1L1385.9,1896.1L1389.1,1900.6L1392.3,1897.7L1395.6,1897.1L1398.8,1894.5L1402,1895.6L1405.2,1895.6L1408.4,1892.6L1411.7,1893.9L1414.9,1895.1L1418.1,1898.8L1421.3,1895.7L1424.6,1899.2L1427.8,1904L1431,1906L1434.2,1909.9L1437.4,1903.1L1440.7,1897.3L1443.9,1895.8L1447.1,1898L1450.3,1898.1L1453.6,1906.4L1456.8,1919.6L1460,1928.1L1463.2,1931.7L1466.4,1932.1L1469.7,1934.1L1472.9,1937.3L1476.1,1929.5L1479.3,1929.2L1482.6,1925.1L1485.8,1923.5L1489,1919.9L1492.2,1920.2L1495.4,1923.7L1498.7,1923.3L1501.9,1923.4L1505.1,1922.1L1508.3,1921.4L1511.6,1922.7L1514.8,1920.9L1518,1921.2L1521.2,1921.2L1524.4,1920.8L1527.7,1921L1530.9,1917.9L1534.1,1914.7L1537.3,1913.6L1540.6,1912L1543.8,1909.1L1547,1906.4L1550.2,1905.8L1553.4,1907.3L1556.7,1913.7L1559.9,1916.7L1563.1,1917.1L1566.3,1919.7L1569.6,1921.3L1572.8,1920.1L1576,1918L1579.2,1914.8L1582.4,1912.5L1585.7,1914.6L1588.9,1913.6" fill="none" stroke="#000" stroke-width="8.4" stroke-linejoin="round" stroke-linecap="butt"/>
<path d="M1619.2,1913.2L1622.4,1909.2L1625.7,1906.7L1628.9,1904.2L1632.1,1899.8L1635.4,1896.2L1638.6,1893.3L1641.8,1894.4L1645.1,1894.5L1648.3,1898.1L1651.5,1903.9L1654.8,1909.9L1658,1917L1661.2,1924.7L1664.5,1925.6L1667.7,1927.6L1670.9,1926.4L1674.2,1925.1L1677.4,1917.2L1680.6,1912.3L1683.9,1910.3L1687.1,1907.2L1690.3,1902L1693.6,1901.8L1696.8,1897.5L1700,1894.7L1703.3,1890.4L1706.5,1888.7L1709.7,1886.2L1713,1881.9L1716.2,1878.7L1719.4,1876.8L1722.7,1879.3L1725.9,1880.9L1729.1,1884.1L1732.4,1889.3L1735.6,1889.2L1738.8,1891.2L1742.1,1892.1L1745.3,1890.5L1748.5,1886.9L1751.8,1885.2L1755,1879.3L1758.2,1874.5L1761.5,1869.6L1764.7,1868.3L1767.9,1864.1L1771.2,1862.2L1774.4,1860.6L1777.6,1863L1780.9,1860.1L1784.1,1857.7L1787.3,1855.7L1790.6,1851.5L1793.8,1847.6L1797,1845.2L1800.3,1841.3L1803.5,1837.9L1806.7,1837.7L1810,1833.4L1813.2,1833.8L1816.4,1830.8L1819.7,1830.9L1822.9,1826.3" fill="none" stroke="#F19C94" stroke-width="8.4" stroke-linejoin="round" stroke-linecap="butt"/>
<path d="M1619.2,1913.8L1622.4,1914L1625.7,1914.4L1628.9,1916L1632.1,1915L1635.4,1912.9L1638.6,1913L1641.8,1910.5L1645.1,1906.7L1648.3,1903.4L1651.5,1900.5L1654.8,1896.1L1658,1895.9L1661.2,1896.2L1664.5,1896.4L1667.7,1894.1L1670.9,1885L1674.2,1883.6L1677.4,1876L1680.6,1872.4L1683.9,1867.9L1687.1,1861.4L1690.3,1857.6L1693.6,1854.4L1696.8,1854.1L1700,1857.2L1703.3,1856.2L1706.5,1858.4L1709.7,1860.3L1713,1857L1716.2,1855.7L1719.4,1856.7L1722.7,1855L1725.9,1855.4L1729.1,1851.5L1732.4,1851.9L1735.6,1851.6L1738.8,1850L1742.1,1849.1L1745.3,1846.8L1748.5,1846.5L1751.8,1846.5L1755,1847.7L1758.2,1850.3L1761.5,1849L1764.7,1851.4L1767.9,1852.8L1771.2,1853.9L1774.4,1853.1L1777.6,1857L1780.9,1858.7L1784.1,1858.6L1787.3,1860.1L1790.6,1862.1L1793.8,1862.2L1797,1865.8L1800.3,1866.3L1803.5,1863.6L1806.7,1862.1L1810,1858.9L1813.2,1860.7L1816.4,1860.8L1819.7,1856.5L1822.9,1857.6" fill="none" stroke="#8E94CE" stroke-width="8.4" stroke-linejoin="round" stroke-linecap="butt"/>
<path d="M1619.2,1914.8L1622.4,1918.1L1625.7,1919.3L1628.9,1918.5L1632.1,1917.2L1635.4,1922.2L1638.6,1926.1L1641.8,1930.4L1645.1,1925.7L1648.3,1922.9L1651.5,1922.9L1654.8,1922L1658,1917.7L1661.2,1913.4L1664.5,1908.7L1667.7,1906.8L1670.9,1908.8L1674.2,1906.1L1677.4,1901.2L1680.6,1897.7L1683.9,1892.7L1687.1,1885.7L1690.3,1880.4L1693.6,1877.9L1696.8,1876.5L1700,1873.7L1703.3,1865.1L1706.5,1863.4L1709.7,1861L1713,1857.6L1716.2,1858.2L1719.4,1855.9L1722.7,1854L1725.9,1849.6L1729.1,1845.3L1732.4,1843.9L1735.6,1845.9L1738.8,1847.5L1742.1,1844.8L1745.3,1846.9L1748.5,1857L1751.8,1863.4L1755,1864.1L1758.2,1860.2L1761.5,1858.9L1764.7,1856.1L1767.9,1851.8L1771.2,1854.6L1774.4,1851.2L1777.6,1851.4L1780.9,1850.4L1784.1,1853.4L1787.3,1851.1L1790.6,1850.8L1793.8,1847.3L1797,1852.7L1800.3,1852.6L1803.5,1847.7L1806.7,1845.7L1810,1841.2L1813.2,1839.8L1816.4,1832.7L1819.7,1827.9L1822.9,1831.2" fill="none" stroke="#1F2A8E" stroke-width="8.4" stroke-linejoin="round" stroke-linecap="butt"/>
<path d="M1619.2,1903.5L1622.4,1907.2L1625.7,1907.7L1628.9,1909L1632.1,1906.3L1635.4,1905.3L1638.6,1904.9L1641.8,1907.7L1645.1,1909.3L1648.3,1913.2L1651.5,1913.9L1654.8,1913.3L1658,1912.2L1661.2,1913.2L1664.5,1911.9L1667.7,1911.3L1670.9,1906L1674.2,1905L1677.4,1899.4L1680.6,1900.2L1683.9,1895.2L1687.1,1891.5L1690.3,1886.3L1693.6,1882.4L1696.8,1880.9L1700,1879.8L1703.3,1879.4L1706.5,1877.2L1709.7,1874.8L1713,1877.4L1716.2,1879.7L1719.4,1885.5L1722.7,1883.7L1725.9,1883.9L1729.1,1887.4L1732.4,1887.4L1735.6,1893.2L1738.8,1887.6L1742.1,1884.7L1745.3,1886.1L1748.5,1887.6L1751.8,1882.7L1755,1876.2L1758.2,1871.1L1761.5,1868.5L1764.7,1865.9L1767.9,1861.4L1771.2,1860.1L1774.4,1857.9L1777.6,1856.8L1780.9,1857.1L1784.1,1855.2L1787.3,1853.3L1790.6,1854.1L1793.8,1856.5L1797,1858.7L1800.3,1859L1803.5,1859.4L1806.7,1862.8L1810,1862.6L1813.2,1857.4L1816.4,1854.9L1819.7,1852L1822.9,1851.4" fill="none" stroke="#E5141E" stroke-width="8.4" stroke-linejoin="round" stroke-linecap="butt"/>
<path d="M1854.2,1829.3L1857.4,1825.3L1860.6,1820.1L1863.8,1814L1867,1815.2L1870.2,1817.8L1873.4,1819.9L1876.6,1820.7L1879.8,1823.3L1883,1818.2L1886.2,1816.4L1889.4,1807.6L1892.6,1797.2L1895.8,1785.5L1899,1774.4L1902.2,1767.1L1905.4,1762.2L1908.6,1759.6L1911.8,1756.4L1915,1754.9L1918.2,1753.3L1921.4,1751.6L1924.6,1751.4L1927.8,1748.9L1931,1749.8L1934.2,1751.7L1937.4,1755L1940.6,1754.4L1943.8,1758.6L1947,1763.6L1950.2,1765.4L1953.4,1768.5L1956.6,1770.3L1959.8,1768.6L1963,1771.7L1966.2,1773.1L1969.4,1769.3L1972.6,1771.1L1975.8,1769.5L1979,1770.9L1982.2,1771.7L1985.4,1773.6L1988.6,1775L1991.8,1775.2L1995,1781.2L1998.2,1780.5L2001.4,1783.7L2004.6,1784.1L2007.8,1784L2011,1780.4L2014.2,1779L2017.4,1779.6L2020.6,1779.6L2023.8,1778.4L2027,1778.8L2030.2,1784.6L2033.4,1784.6L2036.6,1788.9L2039.8,1788.2L2043,1791.6L2046.2,1789.7L2049.4,1790.2L2052.6,1791.1L2055.8,1790.8L2059,1790.7L2062.2,1793.1L2065.4,1792.6L2068.6,1794.7L2071.8,1795.9L2075,1799.8L2078.2,1800.4L2081.4,1800.1L2084.6,1801.3L2087.8,1798.8L2091,1799.3L2094.2,1798.5L2097.4,1792.5L2100.6,1791.6L2103.8,1792.1L2107,1784.7L2110.2,1787.1L2113.4,1789.1L2116.6,1792.5L2119.8,1796.4L2123,1798.2L2126.2,1801.1L2129.4,1803.8L2132.6,1807.5L2135.8,1809.5L2139,1811.4L2142.2,1818.2L2145.4,1819.3L2148.6,1821.5L2151.8,1825.7L2155,1828.4L2158.2,1830.2L2161.4,1830.8L2164.6,1832.8L2167.8,1835.2L2171,1833.7L2174.2,1838.6L2177.4,1840.7" fill="none" stroke="#F19C94" stroke-width="8.4" stroke-linejoin="round" stroke-linecap="butt"/>
<path d="M1854.2,1860.8L1857.4,1854.5L1860.6,1850.2L1863.8,1846.4L1867,1843.7L1870.2,1840.7L1873.4,1836.2L1876.6,1833.3L1879.8,1832.7L1883,1834.9L1886.2,1836.7L1889.4,1837.5L1892.6,1843.1L1895.8,1844.4L1899,1848.2L1902.2,1844.4L1905.4,1844.9L1908.6,1849.6L1911.8,1857L1915,1849.2L1918.2,1843.3L1921.4,1835.9L1924.6,1833.6L1927.8,1831.4L1931,1829.6L1934.2,1829.3L1937.4,1828.9L1940.6,1829.6L1943.8,1834.4L1947,1840.7L1950.2,1845.6L1953.4,1851.9L1956.6,1857.1L1959.8,1857.3L1963,1862.6L1966.2,1860.9L1969.4,1864.4L1972.6,1862.9L1975.8,1860.9L1979,1858.9L1982.2,1856.7L1985.4,1855.3L1988.6,1853.8L1991.8,1856.6L1995,1860.5L1998.2,1860.5L2001.4,1863.5L2004.6,1866.7L2007.8,1871.9L2011,1866.6L2014.2,1867.6L2017.4,1863.3L2020.6,1861.3L2023.8,1860.8L2027,1860.5L2030.2,1858.4L2033.4,1858.1L2036.6,1855.9L2039.8,1858.4L2043,1860.1L2046.2,1863.1L2049.4,1863.9L2052.6,1867.1L2055.8,1873.2L2059,1873.5L2062.2,1875.7L2065.4,1880.6L2068.6,1878.1L2071.8,1879.9L2075,1879.8L2078.2,1878.7L2081.4,1877.9L2084.6,1876.6L2087.8,1874.7L2091,1876L2094.2,1878.3L2097.4,1875.7L2100.6,1871.6L2103.8,1874.1L2107,1877.8L2110.2,1879.5L2113.4,1880.5L2116.6,1885.7L2119.8,1889.6L2123,1890.8L2126.2,1895.3L2129.4,1897.6L2132.6,1899.4L2135.8,1902.9L2139,1906.1L2142.2,1902.5L2145.4,1895.4L2148.6,1893.8L2151.8,1886.5L2155,1879L2158.2,1876.8L2161.4,1871.1L2164.6,1872.1L2167.8,1878L2171,1875.5L2174.2,1876.5L2177.4,1876.5" fill="none" stroke="#8E94CE" stroke-width="8.4" stroke-linejoin="round" stroke-linecap="butt"/>
<path d="M1854.2,1841L1857.4,1841.3L1860.6,1842.5L1863.8,1843.7L1867,1845L1870.2,1846.5L1873.4,1841L1876.6,1841.3L1879.8,1846.2L1883,1844.6L1886.2,1841L1889.4,1839.5L1892.6,1835.6L1895.8,1835.1L1899,1830.7L1902.2,1826.5L1905.4,1825.9L1908.6,1828.2L1911.8,1824.4L1915,1819.4L1918.2,1821.4L1921.4,1826.2L1924.6,1826L1927.8,1829.3L1931,1832.7L1934.2,1837.4L1937.4,1842L1940.6,1845.1L1943.8,1850.4L1947,1854.7L1950.2,1857.9L1953.4,1860.8L1956.6,1868.3L1959.8,1870.4L1963,1872.8L1966.2,1874.7L1969.4,1877.7L1972.6,1880L1975.8,1884.3L1979,1887.9L1982.2,1894L1985.4,1891L1988.6,1889.1L1991.8,1890.7L1995,1887.7L1998.2,1889.4L2001.4,1893.7L2004.6,1891.2L2007.8,1887.4L2011,1885L2014.2,1878.9L2017.4,1874.6L2020.6,1869.1L2023.8,1868.3L2027,1872.5L2030.2,1879L2033.4,1886L2036.6,1889.9L2039.8,1897.7L2043,1901.2L2046.2,1902.8L2049.4,1903L2052.6,1904.8L2055.8,1899.9L2059,1898.9L2062.2,1890.7L2065.4,1889.7L2068.6,1889.3L2071.8,1888.2L2075,1888.7L2078.2,1887.6L2081.4,1885.9L2084.6,1887.4L2087.8,1887.4L2091,1888.5L2094.2,1885.3L2097.4,1887.3L2100.6,1889.5L2103.8,1887.8L2107,1888.5L2110.2,1886.8L2113.4,1887.5L2116.6,1884.4L2119.8,1884.9L2123,1886.5L2126.2,1888.8L2129.4,1888.4L2132.6,1888.6L2135.8,1892.5L2139,1896.1L2142.2,1896.2L2145.4,1887.8L2148.6,1884.6L2151.8,1886.7L2155,1887.8L2158.2,1883.3L2161.4,1879.6L2164.6,1884.5L2167.8,1889.3L2171,1893.3L2174.2,1891L2177.4,1893" fill="none" stroke="#1F2A8E" stroke-width="8.4" stroke-linejoin="round" stroke-linecap="butt"/>
<path d="M1854.2,1855L1857.4,1849.5L1860.6,1841.8L1863.8,1835.1L1867,1827.1L1870.2,1826L1873.4,1831.2L1876.6,1832.1L1879.8,1835.3L1883,1836.8L1886.2,1832.8L1889.4,1826.6L1892.6,1814.4L1895.8,1802.8L1899,1790L1902.2,1782L1905.4,1774.1L1908.6,1770.8L1911.8,1767.5L1915,1764.7L1918.2,1763.1L1921.4,1758.1L1924.6,1753.5L1927.8,1750.6L1931,1748.8L1934.2,1747.9L1937.4,1751.3L1940.6,1750.6L1943.8,1751.4L1947,1763L1950.2,1770L1953.4,1778.2L1956.6,1780L1959.8,1781.3L1963,1779.3L1966.2,1781.4L1969.4,1780.4L1972.6,1772.6L1975.8,1762.4L1979,1763.9L1982.2,1765.4L1985.4,1763.2L1988.6,1761.3L1991.8,1760L1995,1773.4L1998.2,1778.4L2001.4,1779.8L2004.6,1777.3L2007.8,1775.3L2011,1775.6L2014.2,1765L2017.4,1760.1L2020.6,1757.3L2023.8,1758.7L2027,1762.9L2030.2,1765.5L2033.4,1776.8L2036.6,1784.5L2039.8,1794.8L2043,1796.6L2046.2,1800.2L2049.4,1800.6L2052.6,1802.2L2055.8,1801.5L2059,1806L2062.2,1805.4L2065.4,1809.6L2068.6,1810.5L2071.8,1808.7L2075,1809.4L2078.2,1810.6L2081.4,1816.1L2084.6,1812.5L2087.8,1806.8L2091,1806.9L2094.2,1810.7L2097.4,1814.2L2100.6,1816.4L2103.8,1819.9L2107,1821.2L2110.2,1826.7L2113.4,1832.4L2116.6,1834.5L2119.8,1839.7L2123,1841.9L2126.2,1844L2129.4,1844.4L2132.6,1845.7L2135.8,1840.7L2139,1840.1L2142.2,1840.1L2145.4,1835.9L2148.6,1834L2151.8,1830L2155,1828.8L2158.2,1833.7L2161.4,1835.1L2164.6,1839.4L2167.8,1844.6L2171,1850.9L2174.2,1850.7L2177.4,1848.6" fill="none" stroke="#E5141E" stroke-width="8.4" stroke-linejoin="round" stroke-linecap="butt"/>
<path d="M254.2,1719V2008.6" stroke="#000" stroke-width="2" fill="none"/>
<path d="M247.5,1730H254.2" stroke="#000" stroke-width="2" fill="none"/>
<path d="M247.5,1863.7H254.2" stroke="#000" stroke-width="2" fill="none"/>
<path d="M247.5,1997H254.2" stroke="#000" stroke-width="2" fill="none"/>
<path d="M253.4,2007.8H579" stroke="#000" stroke-width="2" fill="none"/>
<path d="M314,2007.8V2015" stroke="#000" stroke-width="2" fill="none"/>
<path d="M434.3,2007.8V2015" stroke="#000" stroke-width="2" fill="none"/>
<path d="M554.9,2007.8V2015" stroke="#000" stroke-width="2" fill="none"/>
<path d="M607.7,2007.8H814.3" stroke="#000" stroke-width="2" fill="none"/>
<path d="M623,2007.8V2015" stroke="#000" stroke-width="2" fill="none"/>
<path d="M782.3,2007.8V2015" stroke="#000" stroke-width="2" fill="none"/>
<path d="M703.2,2007.8V2013.8" stroke="#000" stroke-width="2" fill="none"/>
<path d="M843,2007.8H1167.6" stroke="#000" stroke-width="2" fill="none"/>
<path d="M857.4,2007.8V2015" stroke="#000" stroke-width="2" fill="none"/>
<path d="M1012.3,2007.8V2015" stroke="#000" stroke-width="2" fill="none"/>
<path d="M1166.8,2007.8V2015" stroke="#000" stroke-width="2" fill="none"/>
<text x="280.2" y="2055" font-size="36" stroke="#000">−1</text>
<text x="424.9" y="2055" font-size="36" stroke="#000">0</text>
<text x="543.4" y="2055" font-size="36" stroke="#000">1</text>
<text x="613.3" y="2055" font-size="36" stroke="#000">0</text>
<text x="771.8" y="2055" font-size="36" stroke="#000">1</text>
<text x="848" y="2055" font-size="36" stroke="#000">0</text>
<text x="1000.8" y="2055" font-size="36" stroke="#000">1</text>
<text x="1155.8" y="2055" font-size="36" stroke="#000">2</text>
<text x="483.8" y="2104.3" font-size="38.9" stroke="#000">Time after event onset (s)</text>
<text x="386.6" y="1704.1" font-size="34.9" stroke="#000">FP on</text>
<text x="574.1" y="1704.1" font-size="34.9" stroke="#000">TG on</text>
<text x="719.5" y="1704.1" font-size="34.9" stroke="#000">FP off</text>
<text x="828.3" y="1704.1" font-size="34.9" stroke="#000">RW on</text>
<path d="M1265.9,1719V2008.6" stroke="#000" stroke-width="2" fill="none"/>
<path d="M1259.2,1730H1265.9" stroke="#000" stroke-width="2" fill="none"/>
<path d="M1259.2,1863.7H1265.9" stroke="#000" stroke-width="2" fill="none"/>
<path d="M1259.2,1997H1265.9" stroke="#000" stroke-width="2" fill="none"/>
<path d="M1265.1,2007.8H1590.7" stroke="#000" stroke-width="2" fill="none"/>
<path d="M1325.7,2007.8V2015" stroke="#000" stroke-width="2" fill="none"/>
<path d="M1446,2007.8V2015" stroke="#000" stroke-width="2" fill="none"/>
<path d="M1566.6,2007.8V2015" stroke="#000" stroke-width="2" fill="none"/>
<path d="M1619.4,2007.8H1826" stroke="#000" stroke-width="2" fill="none"/>
<path d="M1634.7,2007.8V2015" stroke="#000" stroke-width="2" fill="none"/>
<path d="M1794,2007.8V2015" stroke="#000" stroke-width="2" fill="none"/>
<path d="M1714.9,2007.8V2013.8" stroke="#000" stroke-width="2" fill="none"/>
<path d="M1854.7,2007.8H2179.3" stroke="#000" stroke-width="2" fill="none"/>
<path d="M1869.1,2007.8V2015" stroke="#000" stroke-width="2" fill="none"/>
<path d="M2024,2007.8V2015" stroke="#000" stroke-width="2" fill="none"/>
<path d="M2178.5,2007.8V2015" stroke="#000" stroke-width="2" fill="none"/>
<text x="1291.9" y="2055" font-size="36" stroke="#000">−1</text>
<text x="1436.6" y="2055" font-size="36" stroke="#000">0</text>
<text x="1555.1" y="2055" font-size="36" stroke="#000">1</text>
<text x="1625" y="2055" font-size="36" stroke="#000">0</text>
<text x="1783.5" y="2055" font-size="36" stroke="#000">1</text>
<text x="1859.7" y="2055" font-size="36" stroke="#000">0</text>
<text x="2012.5" y="2055" font-size="36" stroke="#000">1</text>
<text x="2167.5" y="2055" font-size="36" stroke="#000">2</text>
<text x="1508.2" y="2104.3" font-size="38.9" stroke="#000">Time after event onset (s)</text>
<text x="1398.3" y="1704.1" font-size="34.9" stroke="#000">FP on</text>
<text x="1585.8" y="1704.1" font-size="34.9" stroke="#000">TG on</text>
<text x="1731.2" y="1704.1" font-size="34.9" stroke="#000">FP off</text>
<text x="1840" y="1704.1" font-size="34.9" stroke="#000">RW on</text>
<text x="215.1" y="1743.5" font-size="36" stroke="#000">1</text>
<text x="215.6" y="1876.5" font-size="36" stroke="#000">0</text>
<text x="192.9" y="2011.2" font-size="36" stroke="#000">−1</text>
<text x="5.1" y="1860" font-size="37.6" stroke="#000">Normalized</text>
<text x="41.9" y="1906" font-size="37.6" stroke="#000">activity</text>
<text x="112.6" y="1633.4" font-size="55.5" stroke="#000" font-weight="bold">E</text>
<text x="1228.2" y="1633.4" font-size="55.5" stroke="#000" font-weight="bold">F</text>
<text x="261.2" y="1635.8" font-size="42.6" stroke="#000">Principal component #1 (“task + reward value”)</text>
<text x="1326.6" y="1635.8" font-size="42.6" stroke="#000">Principal component #2 (“reward delivery”)</text>
<text x="1034.8" y="1720.6" font-size="35.5" fill="#E5141E" stroke="#E5141E">Rewarded</text>
<text x="1034.8" y="1754.5" font-size="35.5" fill="#E5141E" stroke="#E5141E">contra</text>
<text x="1140.3" y="1754.5" font-size="35.5" fill="#F19C94" stroke="#F19C94">ipsi</text>
<text x="1019.9" y="1803.6" font-size="35.5" fill="#1F2A8E" stroke="#1F2A8E">Unrewarded</text>
<text x="1034.8" y="1836.2" font-size="35.5" fill="#8E94CE" stroke="#8E94CE">contra</text>
<text x="1140.3" y="1836.2" font-size="35.5" fill="#1F2A8E" stroke="#1F2A8E">ipsi</text>
</svg>
</body></html>
